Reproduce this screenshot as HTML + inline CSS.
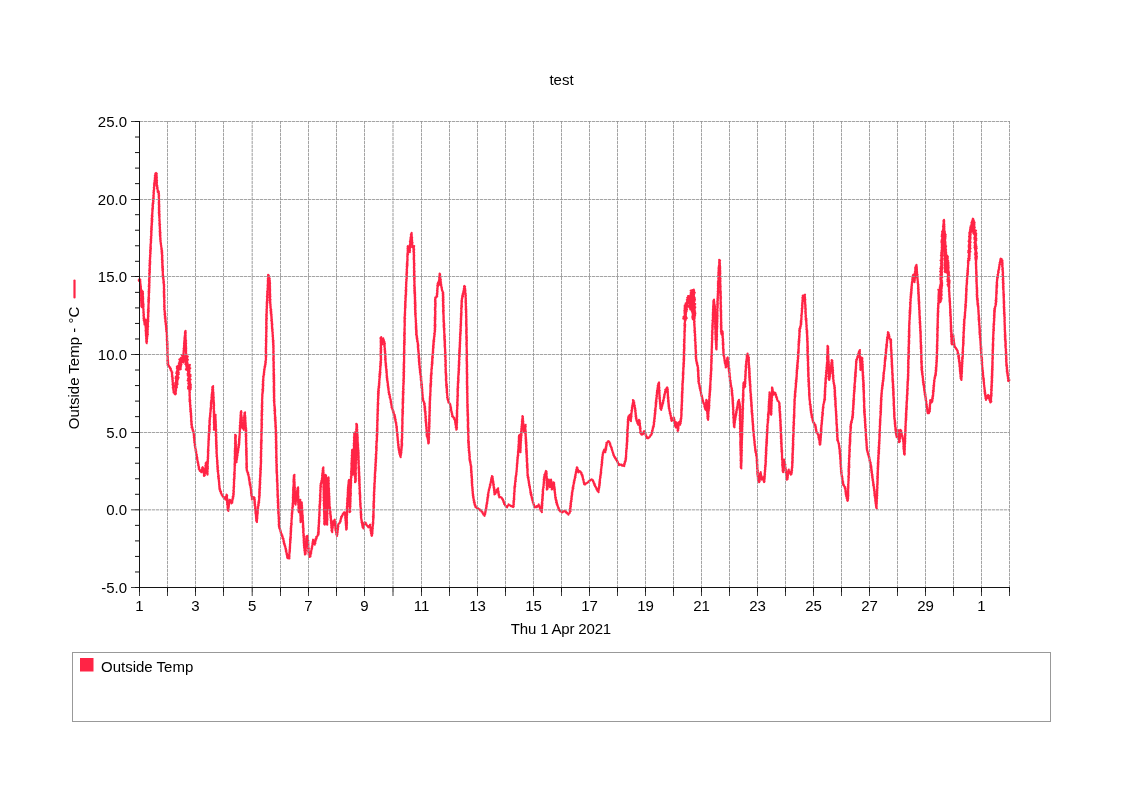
<!DOCTYPE html>
<html><head><meta charset="utf-8"><style>
html,body{margin:0;padding:0;background:#fff;width:1123px;height:794px;overflow:hidden}
svg{display:block;will-change:transform}
text{font-family:"Liberation Sans",sans-serif;font-size:15px;fill:#000}
</style></head><body>
<svg width="1123" height="794" viewBox="0 0 1123 794">
<text x="561.5" y="85" text-anchor="middle">test</text>
<g stroke="#e4e4e4" stroke-width="1" fill="none"><path d="M167.5 121V587"/><path d="M195.5 121V587"/><path d="M223.5 121V587"/><path d="M252.2 121V587"/><path d="M280.5 121V587"/><path d="M308.5 121V587"/><path d="M336.5 121V587"/><path d="M364.5 121V587"/><path d="M393.0 121V587"/><path d="M421.5 121V587"/><path d="M449.5 121V587"/><path d="M477.5 121V587"/><path d="M505.5 121V587"/><path d="M533.5 121V587"/><path d="M561.5 121V587"/><path d="M589.5 121V587"/><path d="M617.5 121V587"/><path d="M645.5 121V587"/><path d="M673.5 121V587"/><path d="M701.5 121V587"/><path d="M729.5 121V587"/><path d="M757.5 121V587"/><path d="M785.5 121V587"/><path d="M813.5 121V587"/><path d="M841.5 121V587"/><path d="M869.5 121V587"/><path d="M897.5 121V587"/><path d="M925.5 121V587"/><path d="M953.5 121V587"/><path d="M981.5 121V587"/><path d="M1009.5 121V587"/></g>
<g stroke="#e4e4e4" stroke-width="1" fill="none"><path d="M140 509.83H1010"/><path d="M140 432.50H1010"/><path d="M140 354.50H1010"/><path d="M140 276.50H1010"/><path d="M140 199.50H1010"/><path d="M140 121.50H1010"/></g>
<polyline points="137.84,280.75 138.78,280.48 139.10,279.51 139.83,279.20 140.37,279.96 139.89,280.82 140.37,281.58 140.00,282.43 140.52,283.19 140.18,284.04 140.68,284.80 140.44,285.64 140.94,286.41 140.36,287.27 141.00,288.03 140.70,288.87 141.32,289.64 140.57,290.50 141.35,291.31 140.80,292.15 141.52,292.96 140.95,293.81 141.53,294.63 140.92,295.48 141.35,296.30 141.03,297.14 141.45,297.96 140.85,298.81 141.46,299.62 140.97,300.47 141.65,301.28 141.09,302.13 141.67,302.94 141.23,303.79 141.57,304.61 141.24,305.45 141.81,306.26 141.75,307.12 141.30,306.28 141.90,305.50 141.36,304.66 141.91,303.88 141.35,303.03 142.14,302.27 141.62,301.42 142.20,300.64 141.63,299.79 142.39,299.03 141.67,298.17 142.31,297.40 141.69,296.54 142.35,295.77 141.96,294.93 142.65,294.16 142.15,293.32 142.67,292.54 142.28,291.70 142.13,290.92 142.90,291.70 142.25,292.55 143.02,293.34 142.42,294.19 143.05,294.98 142.41,295.83 143.10,296.62 142.54,297.47 143.26,298.25 142.48,299.11 143.23,299.90 142.65,300.75 143.19,301.54 142.72,302.39 143.46,303.17 142.72,304.03 143.60,304.81 143.02,305.66 143.55,306.45 142.99,307.30 143.52,308.10 143.14,308.94 143.65,309.73 143.33,310.57 143.70,311.37 143.21,312.22 143.81,313.01 143.46,313.85 143.98,314.64 143.35,315.50 143.97,316.29 143.57,317.13 144.20,317.92 143.52,318.77 144.36,319.50 143.74,320.48 144.53,321.19 144.21,322.12 144.88,322.85 144.40,323.81 144.54,324.52 145.24,323.75 144.95,322.88 145.43,322.09 145.10,321.21 145.68,320.43 145.79,319.56 145.29,320.40 145.68,321.20 145.31,322.03 145.86,322.83 145.33,323.67 146.11,324.45 145.36,325.30 146.04,326.09 145.45,326.94 146.16,327.73 145.70,328.56 146.30,329.36 145.54,330.21 146.36,330.99 145.60,331.84 146.28,332.63 145.80,333.47 146.26,334.27 145.79,335.11 146.31,335.90 146.04,336.73 146.43,337.53 146.08,338.37 146.54,339.17 146.18,340.00 146.50,340.80 146.22,341.63 146.60,342.44 146.72,343.29 146.43,342.37 147.08,341.56 146.44,340.60 147.05,339.79 146.75,338.87 147.31,338.05 146.92,337.12 147.44,336.30 146.97,335.36 147.91,334.55 147.21,333.71 147.81,332.92 147.39,332.09 147.75,331.29 147.37,330.46 147.86,329.67 147.27,328.84 147.88,328.04 147.59,327.22 148.19,326.43 147.48,325.59 148.00,324.80 147.54,323.97 148.02,323.17 147.60,322.35 148.37,321.56 147.55,320.72 148.34,319.93 147.80,319.10 148.30,318.31 147.89,317.48 148.48,316.69 147.83,315.85 148.54,315.06 147.95,314.23 148.43,313.43 147.86,312.60 148.72,311.82 147.90,310.98 148.73,310.19 147.97,309.35 148.76,308.57 148.22,307.74 148.75,306.94 148.23,306.11 148.65,305.31 148.40,304.49 148.79,303.69 148.38,302.87 148.98,302.07 148.22,301.23 148.96,300.45 148.28,299.61 149.18,298.83 148.33,297.98 149.04,297.19 148.61,296.36 149.05,295.56 148.67,294.73 149.09,293.93 148.59,293.10 149.36,292.31 148.57,291.47 149.28,290.68 148.68,289.85 149.43,289.05 148.91,288.22 149.44,287.42 148.70,286.59 149.53,285.80 148.80,284.96 149.48,284.17 149.03,283.34 149.63,282.54 149.03,281.71 149.69,280.91 148.88,280.07 149.61,279.28 149.11,278.45 149.83,277.66 149.06,276.82 149.64,276.02 149.30,275.20 149.68,274.39 149.11,273.56 149.94,272.77 149.40,271.94 150.00,271.14 149.19,270.30 150.00,269.51 149.43,268.68 150.01,267.88 149.55,267.05 149.90,266.25 149.34,265.42 150.15,264.63 149.53,263.79 150.29,263.00 149.61,262.17 150.32,261.37 149.54,260.53 150.16,259.74 149.79,258.92 150.27,258.14 149.87,257.31 150.44,256.53 149.94,255.70 150.47,254.92 150.07,254.09 150.70,253.32 150.08,252.48 150.64,251.70 150.08,250.87 150.86,250.10 150.22,249.26 150.95,248.49 150.27,247.65 150.91,246.88 150.34,246.04 150.82,245.26 150.45,244.44 150.96,243.66 150.67,242.84 151.23,242.06 150.70,241.22 151.21,240.44 150.60,239.61 151.32,238.84 150.81,238.00 151.38,237.23 150.82,236.39 151.55,235.62 151.04,234.79 151.56,234.01 151.07,233.18 151.55,232.40 150.99,231.56 151.70,230.79 151.14,229.96 151.86,229.19 151.11,228.34 151.84,227.57 151.28,226.74 151.94,225.97 151.39,225.13 152.08,224.36 151.49,223.53 152.11,222.75 151.56,221.92 152.32,221.15 151.58,220.30 152.38,219.54 151.58,218.69 152.27,217.92 151.78,217.09 152.56,216.32 151.77,215.48 152.39,214.70 152.08,213.88 152.57,213.10 152.17,212.27 152.58,211.49 152.26,210.66 152.80,209.89 152.14,209.00 153.00,208.24 152.47,207.36 153.08,206.57 152.44,205.68 153.03,204.89 152.51,204.02 153.42,203.25 152.85,202.37 153.55,201.59 152.93,200.70 153.54,199.92 152.87,199.03 153.78,198.26 153.27,197.39 153.78,196.59 153.26,195.72 153.86,194.92 153.48,194.06 153.96,193.26 153.42,192.39 153.98,191.59 153.58,190.73 154.22,189.94 153.86,189.08 154.30,188.27 153.78,187.40 154.47,186.62 154.07,185.75 154.73,184.96 153.95,184.08 154.83,183.30 154.28,182.42 154.76,181.59 154.50,180.68 155.13,179.87 154.63,178.92 155.12,178.10 154.78,177.17 155.57,176.38 154.86,175.41 155.56,174.61 155.34,173.57 156.02,172.98 156.79,173.81 156.16,174.69 156.71,175.52 156.43,176.39 156.97,177.22 156.39,178.11 156.85,178.94 156.30,179.82 157.10,180.65 156.41,181.53 157.00,182.36 156.47,183.24 157.06,184.07 156.54,184.99 157.33,185.73 156.92,186.63 157.58,187.39 156.96,188.31 157.71,189.06 157.43,189.94 158.02,190.71 157.62,191.61 157.79,192.33 158.50,191.17 158.86,191.98 158.53,192.80 158.98,193.61 158.53,194.43 159.16,195.23 158.58,196.06 159.11,196.87 158.65,197.69 159.10,198.50 158.74,199.32 159.11,200.13 158.78,200.95 159.30,201.75 158.65,202.59 159.17,203.39 158.71,204.22 159.44,205.01 158.86,205.84 159.44,206.64 158.80,207.48 159.38,208.28 158.71,209.11 159.39,209.91 158.85,210.74 159.52,211.54 158.74,212.38 159.46,213.16 158.86,213.99 159.65,214.76 159.00,215.60 159.63,216.38 159.16,217.21 159.59,218.00 159.30,218.82 159.67,219.61 159.18,220.44 159.80,221.22 159.44,222.05 159.82,222.84 159.30,223.67 160.14,224.44 159.43,225.28 160.03,226.06 159.63,226.89 160.11,227.68 159.64,228.51 160.14,229.29 159.72,230.12 160.25,230.90 159.63,231.74 160.54,232.51 159.83,233.35 160.39,234.13 159.77,234.97 160.48,235.74 160.04,236.57 160.46,237.36 160.10,238.18 160.68,238.97 160.14,239.82 160.73,240.59 160.34,241.48 160.87,242.26 160.61,243.14 161.09,243.92 160.77,244.80 161.28,245.59 161.09,246.45 161.56,247.24 161.22,248.12 161.85,248.89 161.33,249.80 162.10,250.55 161.49,251.46 162.29,252.24 161.55,253.07 162.26,253.84 161.80,254.67 162.52,255.44 161.92,256.27 162.50,257.05 161.84,257.88 162.36,258.66 161.85,259.48 162.70,260.25 161.99,261.08 162.72,261.85 162.00,262.69 162.61,263.46 162.16,264.29 162.79,265.06 162.14,265.89 162.96,266.66 162.21,267.50 162.96,268.27 162.26,269.10 163.06,269.87 162.39,270.70 162.99,271.48 162.67,272.29 163.03,273.08 162.64,273.90 163.09,274.68 162.61,275.56 163.40,276.32 162.84,277.22 163.59,277.98 162.99,278.88 163.71,279.65 163.37,280.52 163.97,281.30 163.30,282.21 164.05,282.97 163.54,283.87 164.27,284.66 163.78,285.47 164.32,286.27 163.76,287.08 164.15,287.88 163.78,288.69 164.38,289.48 163.84,290.30 164.42,291.09 163.63,291.91 164.37,292.70 163.84,293.52 164.40,294.31 163.78,295.13 164.52,295.92 163.83,296.74 164.52,297.53 164.04,298.34 164.39,299.14 164.01,299.95 164.61,300.74 164.03,301.56 164.59,302.35 164.15,303.17 164.46,303.97 164.11,304.78 164.69,305.57 164.00,306.39 164.72,307.18 164.16,308.00 164.70,308.79 164.14,309.63 164.78,310.40 164.42,311.28 165.08,312.05 164.56,312.94 165.28,313.71 164.49,314.63 165.14,315.40 164.81,316.28 165.56,317.04 164.81,317.95 165.61,318.71 165.20,319.59 165.70,320.38 165.15,321.28 165.87,322.05 165.43,322.93 166.01,323.71 165.62,324.59 166.43,325.35 165.91,326.24 166.56,327.01 165.96,327.91 166.75,328.67 166.06,329.58 166.71,330.36 166.17,331.25 166.95,332.01 166.61,332.88 166.97,333.69 166.62,334.54 167.22,335.32 166.74,336.14 167.17,336.93 166.78,337.74 167.28,338.53 166.67,339.35 167.23,340.13 166.75,340.95 167.55,341.73 167.00,342.55 167.63,343.33 166.87,344.15 167.67,344.93 167.06,345.75 167.56,346.54 167.08,347.35 167.81,348.13 167.07,348.96 167.66,349.74 167.17,350.56 167.69,351.34 167.34,352.15 167.69,352.94 167.15,353.76 167.80,354.54 167.17,355.37 167.84,356.14 167.43,356.96 167.97,357.74 167.51,358.56 167.98,359.35 167.32,360.17 168.19,360.94 167.42,361.77 168.17,362.55 167.44,363.37 168.32,364.15 167.67,365.15 168.86,365.57 169.12,366.72 170.25,367.32 169.98,368.39 170.92,368.98 170.59,370.07 171.45,370.69 171.43,371.66 172.33,372.40 171.80,373.25 172.32,374.01 171.87,374.85 172.41,375.61 171.88,376.46 172.76,377.19 172.17,378.04 172.80,378.79 172.30,379.64 172.91,380.39 172.41,381.24 172.93,382.00 172.62,382.83 173.08,383.59 172.53,384.44 173.31,385.18 172.88,386.02 173.58,386.76 172.78,387.64 173.57,388.37 173.19,389.21 173.63,389.98 173.34,390.80 173.82,391.57 173.52,392.49 174.39,392.91 174.65,393.86 175.08,394.35 175.89,393.62 175.19,392.74 175.90,392.00 175.46,391.14 176.11,390.39 175.64,389.53 176.21,388.78 175.51,387.90 176.93,387.23 174.67,386.19 176.92,385.61 175.35,384.63 177.65,384.06 175.12,382.98 177.36,382.40 175.94,381.45 177.56,380.80 175.97,379.81 177.96,379.20 175.54,378.08 178.60,377.59 175.83,376.43 177.87,375.82 176.96,374.87 178.83,374.25 176.19,373.10 178.76,372.56 176.73,371.48 178.43,370.83 177.14,369.84 179.66,369.29 176.85,368.12 179.77,367.62 176.88,366.44 179.29,365.88 179.23,364.87 178.11,365.89 179.94,366.46 177.78,367.64 180.65,368.06 177.98,369.31 178.18,369.83 180.79,369.25 178.56,368.19 180.72,367.56 179.19,366.57 181.15,365.93 179.14,364.89 181.47,364.28 178.85,363.18 180.95,362.55 179.59,361.57 181.05,360.88 179.36,359.36 181.96,359.79 180.86,358.00 181.33,357.59 183.09,358.10 181.10,359.36 183.27,359.79 181.82,360.95 183.84,361.41 183.36,362.51 182.12,361.59 183.99,360.92 181.51,359.91 184.33,359.31 181.73,358.29 184.26,357.67 182.58,356.72 184.14,356.03 181.90,355.04 183.87,354.37 183.34,353.51 183.78,352.73 183.41,351.89 184.11,351.12 183.56,350.26 184.11,349.49 183.61,348.63 184.45,347.88 183.88,347.02 184.30,346.23 183.97,345.39 184.54,344.62 183.99,343.76 184.60,342.99 184.09,342.13 184.90,341.38 184.30,340.52 184.86,339.74 184.29,338.88 185.02,338.12 184.46,337.26 185.12,336.49 184.78,335.65 185.42,334.88 184.88,334.02 185.61,333.26 184.95,332.39 185.49,331.62 185.57,330.79 185.12,331.61 185.76,332.39 185.01,333.23 185.65,334.01 185.23,334.83 185.72,335.63 185.10,336.45 185.74,337.24 185.44,338.06 185.77,338.85 185.38,339.67 186.08,340.46 185.28,341.29 186.08,342.07 185.29,342.90 186.19,343.68 185.55,344.51 186.01,345.30 185.41,346.13 186.23,346.91 185.74,347.73 186.26,348.52 185.68,349.35 186.22,350.14 185.75,350.96 186.20,351.75 185.90,352.57 186.29,353.37 185.84,354.19 186.55,354.95 185.57,355.87 187.81,356.52 185.61,357.54 187.27,358.24 185.06,359.26 187.92,359.86 185.64,360.88 187.20,361.59 185.73,362.55 187.70,363.22 185.37,364.25 187.64,364.90 186.13,365.86 188.56,366.50 186.64,367.50 188.16,368.21 185.91,369.23 186.06,369.62 188.08,369.24 187.27,368.16 188.52,367.59 186.73,366.26 189.14,365.98 189.92,364.91 187.15,365.82 189.52,366.55 187.91,367.42 190.27,368.15 187.58,369.06 189.55,369.80 187.53,370.69 189.67,371.42 188.08,372.29 189.38,373.06 187.60,373.94 190.46,374.65 187.79,375.56 190.55,376.27 188.53,377.15 189.81,377.92 188.09,378.80 190.68,379.52 187.61,380.44 190.10,381.16 188.45,382.03 190.21,382.78 188.24,383.67 190.82,384.39 188.65,385.28 190.74,386.02 188.08,386.92 190.82,387.64 188.10,388.55 190.64,389.27 189.27,390.13 189.77,390.93 189.31,391.76 189.97,392.55 189.46,393.38 189.85,394.18 189.31,395.01 189.92,395.80 189.58,396.62 189.91,397.43 189.49,398.25 190.06,399.05 189.41,399.90 190.32,400.64 189.53,401.51 190.25,402.27 189.93,403.10 190.31,403.89 189.91,404.73 190.62,405.49 190.05,406.34 190.59,407.11 190.17,407.95 190.83,408.72 190.21,409.57 190.99,410.33 190.27,411.19 191.08,411.94 190.62,412.79 191.25,413.55 190.68,414.40 191.28,415.17 190.77,416.02 191.45,416.78 190.95,417.63 191.41,418.40 191.05,419.24 191.50,420.02 190.97,420.87 191.75,421.62 191.26,422.47 191.81,423.24 191.17,424.10 191.97,424.85 191.52,425.69 192.18,426.46 191.53,427.41 192.56,427.98 192.27,429.01 192.99,429.69 192.64,430.75 193.68,431.32 193.17,432.32 193.82,433.10 193.53,433.96 194.01,434.76 193.73,435.62 194.45,436.39 193.77,437.30 194.60,438.05 194.01,438.95 194.75,439.72 194.15,440.62 194.72,441.40 194.21,442.29 195.10,443.04 194.59,443.93 195.16,444.69 194.65,445.63 195.32,446.37 195.01,447.28 195.57,448.04 195.34,448.93 195.88,449.70 195.49,450.62 196.28,451.34 195.89,452.26 196.36,453.03 196.13,453.93 196.85,454.66 196.45,455.58 197.01,456.34 196.72,457.25 197.44,457.98 196.89,458.93 197.48,459.68 197.34,460.57 197.92,461.32 197.53,462.26 198.33,462.96 198.00,463.89 198.51,464.66 198.15,465.59 198.92,466.30 198.61,467.23 199.22,467.97 198.73,468.93 199.52,469.55 199.65,470.69 200.69,471.20 201.32,472.26 200.98,471.21 202.08,470.66 201.71,469.60 202.42,468.91 202.18,467.90 202.62,467.22 203.09,467.96 202.68,468.84 203.49,469.52 202.97,470.43 203.76,471.11 203.23,472.02 204.05,472.69 203.72,473.56 204.18,474.30 203.87,475.17 203.98,475.86 204.87,475.09 204.44,474.11 205.07,473.29 204.64,472.31 205.32,471.51 204.99,470.54 205.53,469.70 205.10,468.82 205.90,468.06 205.39,467.17 205.93,466.38 205.34,465.49 206.25,464.74 205.70,463.84 206.15,463.05 206.49,462.16 205.70,463.07 206.51,463.83 206.16,464.71 206.82,465.48 206.22,466.38 206.98,467.14 206.31,468.05 207.12,468.81 206.62,469.70 207.27,470.47 206.77,471.36 207.32,472.15 206.74,473.04 207.62,473.80 207.50,474.67 207.13,473.85 207.63,473.06 207.10,472.24 207.68,471.45 207.28,470.63 207.70,469.83 207.15,469.01 207.96,468.23 207.42,467.40 207.91,466.61 207.26,465.78 207.81,464.99 207.29,464.16 207.89,463.38 207.42,462.55 208.08,461.77 207.47,460.94 208.07,460.15 207.60,459.33 208.21,458.54 207.65,457.72 208.29,456.93 207.71,456.10 208.28,455.32 207.90,454.49 208.40,453.70 207.81,452.88 208.34,452.09 207.78,451.26 208.57,450.48 207.94,449.65 208.44,448.86 207.99,448.04 208.47,447.25 208.17,446.42 208.66,445.64 208.27,444.81 208.75,444.03 208.23,443.19 208.72,442.41 208.28,441.57 208.82,440.79 208.33,439.96 209.12,439.19 208.49,438.35 208.98,437.57 208.58,436.74 209.17,435.96 208.53,435.12 209.19,434.34 208.65,433.50 209.54,432.74 208.77,431.89 209.57,431.13 209.03,430.29 209.72,429.52 209.03,428.67 209.80,427.90 208.98,427.05 209.63,426.28 209.11,425.44 209.96,424.68 209.42,423.84 209.87,423.05 209.30,422.21 209.90,421.44 209.34,420.60 210.02,419.83 209.48,418.95 210.12,418.17 209.72,417.30 210.50,416.52 209.95,415.64 210.43,414.84 209.99,413.97 210.59,413.18 210.28,412.32 210.68,411.52 210.38,410.66 211.06,409.88 210.35,408.98 211.18,408.21 210.65,407.33 211.29,406.55 210.81,405.67 211.35,404.88 210.79,404.01 211.45,403.25 210.87,402.38 211.66,401.63 211.11,400.76 211.91,400.01 211.41,399.15 212.10,398.39 211.40,397.50 212.06,396.75 211.50,395.87 212.17,395.12 211.59,394.24 212.42,393.50 211.94,392.63 212.63,391.88 212.06,391.01 212.60,390.24 212.12,389.37 212.71,388.61 212.25,387.74 212.93,386.99 213.13,386.13 212.40,386.99 213.21,387.75 212.60,388.61 213.22,389.38 212.91,390.21 213.24,391.01 212.96,391.84 213.52,392.62 212.97,393.46 213.59,394.24 212.92,395.09 213.57,395.87 213.23,396.70 213.83,397.48 213.40,398.32 213.73,399.11 213.39,399.94 213.86,400.73 213.49,401.56 213.99,402.36 213.48,403.17 214.14,403.97 213.63,404.78 214.18,405.58 213.58,406.40 214.05,407.20 213.46,408.01 214.12,408.81 213.74,409.62 214.10,410.42 213.61,411.24 214.37,412.03 213.60,412.85 214.26,413.65 213.79,414.46 214.16,415.26 213.70,416.08 214.37,416.87 213.82,417.69 214.42,418.49 213.82,419.30 214.54,420.10 213.76,420.92 214.35,421.72 213.74,422.53 214.32,423.33 213.88,424.15 214.46,424.94 214.00,425.76 214.38,426.56 213.86,427.37 214.40,428.17 213.96,428.99 213.86,429.76 214.52,428.97 214.20,428.11 214.78,427.31 214.22,426.44 214.90,425.65 214.23,424.77 214.87,423.98 214.50,423.12 215.02,422.32 214.69,421.47 215.31,420.67 214.57,419.79 215.37,419.01 214.93,418.14 215.52,417.35 214.81,416.46 215.51,415.68 215.65,414.81 215.04,415.65 215.55,416.45 215.21,417.28 215.62,418.08 215.29,418.90 215.71,419.70 215.13,420.54 215.88,421.33 215.16,422.17 215.95,422.95 215.40,423.79 215.96,424.58 215.41,425.42 216.10,426.21 215.44,427.05 215.99,427.84 215.47,428.68 216.27,429.46 215.66,430.30 216.31,431.09 215.79,431.93 216.17,432.73 215.78,433.56 216.39,434.35 215.62,435.20 216.45,435.98 215.87,436.82 216.55,437.61 215.93,438.45 216.41,439.24 215.81,440.08 216.60,440.87 215.94,441.71 216.67,442.49 215.91,443.34 216.67,444.13 216.02,444.96 216.80,445.75 216.07,446.59 216.78,447.38 216.17,448.22 216.88,449.01 216.37,449.84 216.83,450.64 216.33,451.48 216.85,452.27 216.30,453.11 216.93,453.90 216.64,454.73 217.01,455.54 216.47,456.41 217.20,457.20 216.84,458.06 217.22,458.86 216.99,459.72 217.55,460.51 216.92,461.39 217.67,462.17 217.01,463.06 217.59,463.85 217.17,464.72 217.80,465.51 217.22,466.38 218.06,467.16 217.32,468.05 217.95,468.84 217.44,469.71 218.33,470.48 217.54,471.37 218.20,472.16 217.91,473.02 218.36,473.82 218.13,474.68 218.76,475.46 218.05,476.37 218.86,477.13 218.22,478.03 219.02,478.79 218.55,479.68 219.02,480.47 218.78,481.33 219.40,482.11 218.91,483.00 219.43,483.78 219.01,484.67 219.50,485.46 219.23,486.32 219.75,487.11 219.25,488.00 219.94,488.77 219.55,489.71 220.51,490.29 220.17,491.40 221.14,491.97 220.80,493.07 221.57,493.73 221.55,494.76 222.57,495.29 222.62,496.49 223.71,496.97 223.80,498.14 224.93,498.59 225.45,499.66 225.12,498.65 225.91,497.98 225.63,496.99 226.44,496.33 226.38,495.40 226.56,494.63 227.19,495.39 226.44,496.27 227.08,497.03 226.71,497.88 227.35,498.64 226.74,499.50 227.38,500.27 226.96,501.12 227.56,501.89 226.98,502.75 227.66,503.51 227.07,504.37 227.79,505.13 227.42,505.97 228.04,506.74 227.46,507.60 227.98,508.38 227.54,509.22 228.10,510.00 228.38,510.88 227.78,509.96 228.63,509.28 228.05,508.36 228.74,507.65 228.37,506.77 229.01,506.05 228.46,505.15 229.16,504.43 228.71,503.54 229.39,502.83 229.17,501.97 229.71,501.24 229.21,500.34 229.49,499.74 230.37,500.23 230.18,501.29 231.13,501.75 231.09,502.72 231.44,503.28 232.26,502.62 231.69,501.68 232.55,501.03 232.14,500.12 232.77,499.42 232.51,498.54 233.24,497.86 232.67,496.93 233.53,496.27 233.14,495.37 233.76,494.63 233.14,493.79 233.88,493.01 233.42,492.18 233.91,491.40 233.26,490.56 233.92,489.78 233.55,488.96 234.01,488.17 233.46,487.34 234.25,486.56 233.71,485.73 234.11,484.94 233.75,484.12 234.24,483.33 233.74,482.50 234.26,481.71 233.87,480.89 234.34,480.10 233.74,479.27 234.58,478.50 234.09,477.67 234.73,476.89 234.16,476.05 234.62,475.26 233.96,474.43 234.82,473.66 234.11,472.82 234.78,472.04 234.35,471.21 234.92,470.43 234.45,469.60 234.86,468.81 234.44,467.98 234.88,467.19 234.49,466.37 235.15,465.57 234.44,464.75 235.10,463.95 234.49,463.13 235.13,462.33 234.68,461.51 235.21,460.71 234.64,459.89 235.29,459.09 234.52,458.26 235.23,457.47 234.66,456.64 235.37,455.85 234.75,455.02 235.24,454.23 234.69,453.40 235.48,452.61 234.71,451.78 235.46,450.99 234.72,450.16 235.49,449.37 234.83,448.54 235.46,447.74 234.97,446.92 235.55,446.13 235.07,445.30 235.52,444.50 234.89,443.68 235.65,442.88 234.98,442.06 235.54,441.26 235.08,440.44 235.65,439.64 235.06,438.82 235.67,438.02 235.08,437.20 235.87,436.40 235.27,435.58 235.14,434.78 235.88,435.57 235.27,436.39 235.84,437.19 235.13,438.01 235.74,438.80 235.31,439.62 235.82,440.41 235.28,441.24 236.11,442.02 235.40,442.85 235.89,443.64 235.43,444.46 236.07,445.25 235.43,446.08 236.11,446.86 235.50,447.69 236.25,448.48 235.58,449.30 236.16,450.09 235.49,450.92 236.14,451.71 235.61,452.53 236.25,453.32 235.63,454.14 236.20,454.93 235.61,455.76 236.32,456.55 235.94,457.36 236.34,458.16 235.88,458.98 236.30,459.78 235.92,460.59 236.47,461.39 236.58,462.25 236.11,461.33 236.69,460.57 236.40,459.68 237.09,458.93 236.43,457.98 237.27,457.26 236.90,456.35 237.61,455.61 237.10,454.68 237.68,453.92 237.43,453.03 238.10,452.28 237.46,451.34 238.31,450.61 237.82,449.69 238.53,448.95 238.14,448.04 238.91,447.30 238.35,446.37 239.05,445.63 238.46,444.69 239.36,443.97 238.82,443.04 239.45,442.27 238.96,441.44 239.48,440.66 238.96,439.83 239.65,439.07 239.04,438.23 239.71,437.47 239.28,436.64 239.79,435.87 239.35,435.05 239.86,434.27 239.58,433.45 240.12,432.68 239.58,431.85 240.06,431.08 239.66,430.25 240.22,429.48 239.71,428.65 240.36,427.89 239.73,427.05 240.36,426.28 239.73,425.45 240.61,424.69 240.10,423.86 240.69,423.10 239.92,422.25 240.77,421.50 240.25,420.67 240.87,419.90 240.18,419.06 240.70,418.29 240.47,417.47 241.09,416.70 240.36,415.86 240.96,415.09 240.62,414.27 241.01,413.49 240.67,412.67 241.30,411.91 241.21,411.07 240.85,411.91 241.51,412.67 240.77,413.55 241.40,414.31 240.86,415.17 241.67,415.92 241.02,416.79 241.81,417.54 241.11,418.41 241.97,419.16 241.25,420.03 241.91,420.80 241.42,421.65 242.14,422.41 241.53,423.27 242.24,424.03 241.61,424.89 242.40,425.65 241.93,426.50 242.39,427.19 242.56,428.22 243.46,428.81 243.86,429.80 243.47,428.94 243.98,428.13 243.56,427.28 244.19,426.48 243.64,425.61 244.40,424.82 243.90,423.96 244.49,423.16 243.85,422.29 244.50,421.49 243.89,420.62 244.68,419.84 244.07,418.97 244.64,418.17 243.98,417.29 244.63,416.50 244.18,415.64 244.90,414.85 244.47,413.99 244.99,413.18 245.06,412.31 244.34,413.19 245.06,413.98 244.44,414.86 245.24,415.64 244.72,416.51 245.48,417.29 244.98,418.16 245.54,418.96 244.91,419.84 245.54,420.63 244.95,421.50 245.67,422.29 245.19,423.16 245.84,423.95 245.22,424.83 245.86,425.62 245.44,426.48 246.04,427.27 245.53,428.15 246.29,428.93 245.73,429.79 246.36,430.59 245.72,431.42 246.29,432.22 245.79,433.05 246.32,433.85 245.60,434.68 246.40,435.48 245.69,436.31 246.33,437.11 245.87,437.93 246.35,438.74 245.82,439.56 246.49,440.36 245.78,441.19 246.33,442.00 245.83,442.82 246.63,443.62 245.92,444.45 246.39,445.25 246.03,446.07 246.41,446.88 246.09,447.70 246.73,448.50 245.99,449.33 246.68,450.13 245.97,450.96 246.79,451.76 246.05,452.59 246.72,453.39 246.08,454.22 246.78,455.02 246.12,455.85 246.81,456.65 246.27,457.47 246.83,458.27 246.22,459.10 246.89,459.90 246.37,460.73 246.74,461.53 246.42,462.35 246.96,463.16 246.17,463.99 246.95,464.79 246.37,465.61 247.03,466.42 246.27,467.24 246.98,468.05 246.47,468.87 246.92,469.60 246.74,470.60 247.50,471.26 247.32,472.26 248.18,472.89 247.75,473.98 248.60,474.64 248.28,475.55 248.87,476.30 248.69,477.19 249.39,477.93 248.83,478.87 249.70,479.58 249.14,480.53 249.69,481.29 249.44,482.19 250.15,482.92 249.55,483.88 250.55,484.57 249.97,485.52 250.65,486.26 250.36,487.16 251.00,487.91 250.60,488.83 251.12,489.60 250.90,490.47 251.28,491.27 250.90,492.16 251.53,492.93 251.02,493.84 251.72,494.59 251.26,495.49 251.94,496.25 251.73,497.12 252.34,497.89 251.87,498.79 251.90,499.37 253.00,498.89 253.40,497.84 253.80,497.14 254.62,497.90 253.94,498.81 254.79,499.56 254.35,500.45 254.93,501.23 254.32,502.13 255.04,502.90 254.42,503.80 255.14,504.56 254.58,505.46 255.45,506.21 255.04,507.09 255.40,507.90 255.01,508.78 255.82,509.53 255.35,510.42 255.83,511.21 255.31,512.10 255.95,512.88 255.44,513.77 256.21,514.53 255.86,515.41 256.34,516.20 255.86,517.08 256.53,517.86 256.00,518.75 256.60,519.53 256.12,520.42 256.84,521.18 257.01,522.07 256.41,521.18 257.07,520.40 256.62,519.53 257.32,518.75 256.58,517.85 257.45,517.08 256.83,516.20 257.43,515.41 257.12,514.55 257.78,513.76 257.05,512.87 257.87,512.10 257.30,511.22 257.93,510.43 257.23,509.51 258.19,508.80 257.60,507.86 258.28,507.11 257.90,506.21 258.70,505.48 258.17,504.55 258.89,503.81 258.35,502.88 259.21,502.15 258.53,501.20 259.26,500.46 259.03,499.59 259.42,498.80 258.98,497.96 259.60,497.18 258.93,496.33 259.77,495.55 259.25,494.71 259.83,493.93 259.08,493.08 259.92,492.30 259.23,491.45 259.81,490.67 259.22,489.82 260.05,489.05 259.35,488.20 260.16,487.42 259.53,486.58 259.97,485.79 259.54,484.95 260.27,484.17 259.73,483.33 260.34,482.54 259.57,481.69 260.25,480.91 259.75,480.07 260.46,479.29 259.87,478.45 260.39,477.66 260.01,476.82 260.64,476.04 259.92,475.19 260.62,474.41 260.22,473.57 260.81,472.79 260.08,471.94 260.70,471.15 260.22,470.32 260.99,469.54 260.20,468.68 260.95,467.90 260.40,467.06 261.04,466.28 260.57,465.44 260.99,464.65 260.65,463.82 261.23,463.03 260.66,462.19 261.24,461.40 260.68,460.58 261.26,459.78 260.80,458.96 261.14,458.15 260.56,457.33 261.28,456.54 260.87,455.72 261.39,454.92 260.69,454.10 261.27,453.30 260.78,452.48 261.37,451.68 260.84,450.86 261.30,450.06 261.03,449.24 261.63,448.45 260.80,447.62 261.51,446.82 260.92,446.00 261.47,445.20 260.89,444.38 261.55,443.59 260.87,442.76 261.69,441.97 260.94,441.14 261.79,440.35 261.15,439.53 261.53,438.73 261.20,437.91 261.61,437.11 261.27,436.29 261.60,435.49 261.15,434.67 261.89,433.87 261.22,433.05 261.95,432.26 261.11,431.43 261.70,430.63 261.24,429.81 261.84,429.01 261.42,428.20 262.05,427.40 261.41,426.58 261.95,425.78 261.32,424.95 262.11,424.16 261.34,423.34 261.96,422.54 261.45,421.72 261.92,420.92 261.32,420.10 262.22,419.30 261.58,418.48 261.95,417.68 261.60,416.86 262.08,416.06 261.43,415.24 262.29,414.45 261.49,413.62 262.05,412.82 261.53,412.00 262.29,411.21 261.61,410.38 262.41,409.59 261.83,408.77 262.18,407.97 261.64,407.14 262.46,406.35 261.70,405.53 262.29,404.73 261.76,403.91 262.47,403.11 261.94,402.29 262.36,401.49 261.93,400.67 262.33,399.88 261.92,399.05 262.44,398.27 262.08,397.45 262.52,396.67 262.03,395.84 262.57,395.07 262.11,394.24 262.71,393.47 262.41,392.65 263.03,391.88 262.44,391.04 263.12,390.27 262.33,389.43 263.20,388.67 262.65,387.84 263.15,387.06 262.75,386.23 263.39,385.46 262.61,384.62 263.38,383.86 262.82,383.02 263.38,382.25 262.79,381.41 263.51,380.65 262.94,379.81 263.50,379.04 263.16,378.22 263.56,377.45 263.15,376.55 263.92,375.80 263.54,374.91 264.23,374.15 263.71,373.24 264.29,372.47 263.95,371.59 264.46,370.81 263.94,369.90 264.68,369.15 264.36,368.26 264.94,367.50 264.56,366.58 265.34,365.86 264.90,364.93 265.64,364.20 265.19,363.27 265.90,362.54 265.28,361.58 265.96,360.84 265.61,359.97 266.14,359.16 265.71,358.35 266.13,357.54 265.70,356.72 266.41,355.92 265.52,355.09 266.41,354.29 265.83,353.47 266.23,352.66 265.60,351.84 266.19,351.04 265.68,350.22 266.28,349.41 265.63,348.59 266.22,347.79 265.70,346.97 266.35,346.16 265.94,345.35 266.26,344.54 265.74,343.72 266.45,342.92 265.97,342.10 266.45,341.29 265.77,340.47 266.40,339.66 265.90,338.84 266.40,338.04 266.05,337.22 266.63,336.42 265.90,335.59 266.47,334.79 266.13,333.97 266.46,333.16 265.98,332.34 266.61,331.54 266.11,330.72 266.55,329.91 266.03,329.09 266.73,328.29 265.99,327.47 266.71,326.67 266.21,325.85 266.57,325.04 266.06,324.22 266.71,323.42 266.09,322.59 266.62,321.79 266.09,320.97 266.73,320.17 266.10,319.34 266.92,318.54 266.24,317.72 266.68,316.91 266.13,316.09 266.85,315.29 266.17,314.47 266.81,313.66 266.41,312.85 267.01,312.04 266.37,311.22 266.82,310.41 266.40,309.59 267.01,308.80 266.59,307.97 267.07,307.18 266.53,306.34 267.15,305.56 266.72,304.72 267.29,303.93 266.58,303.09 267.42,302.31 266.82,301.47 267.45,300.69 266.88,299.85 267.55,299.06 267.06,298.23 267.67,297.44 266.86,296.59 267.63,295.81 267.08,294.97 267.72,294.19 267.16,293.35 267.64,292.56 267.10,291.72 267.79,290.94 267.43,290.11 267.83,289.31 267.49,288.48 268.14,287.70 267.64,286.86 267.99,286.07 267.51,285.23 268.10,284.44 267.81,283.62 268.31,282.83 267.71,281.98 268.37,281.20 267.75,280.36 268.32,279.57 267.78,278.73 268.59,277.96 268.12,277.12 268.49,276.33 268.06,275.49 268.11,274.76 268.82,275.47 268.64,276.40 269.27,277.12 269.05,278.06 269.74,278.77 269.23,279.69 269.84,280.48 269.36,281.29 270.06,282.08 269.52,282.89 270.12,283.68 269.32,284.50 270.02,285.28 269.51,286.10 270.20,286.88 269.52,287.70 270.09,288.49 269.42,289.31 270.25,290.09 269.65,290.90 270.12,291.70 269.68,292.51 270.21,293.30 269.52,294.11 270.37,294.90 269.57,295.72 270.40,296.50 269.63,297.32 270.20,298.11 269.77,298.92 270.52,299.71 269.67,300.53 270.33,301.31 269.87,302.14 270.54,302.92 270.03,303.80 270.65,304.59 270.27,305.46 270.76,306.25 270.27,307.13 270.78,307.92 270.53,308.78 271.22,309.56 270.47,310.46 271.35,311.22 270.66,312.12 271.45,312.89 270.72,313.79 271.62,314.55 271.13,315.43 271.68,316.22 271.20,317.10 271.84,317.88 271.34,318.76 271.94,319.55 271.27,320.41 272.08,321.16 271.59,322.00 272.16,322.77 271.64,323.61 272.41,324.37 271.80,325.22 272.32,325.99 271.80,326.83 272.37,327.60 271.93,328.44 272.74,329.19 272.07,330.05 272.64,330.82 272.20,331.66 272.84,332.42 272.41,333.26 272.82,334.04 272.53,334.87 272.99,335.64 272.55,336.48 273.10,337.25 272.72,338.09 273.15,338.86 272.74,339.70 273.50,340.46 272.83,341.31 273.52,342.07 272.93,342.92 273.52,343.69 273.02,344.51 273.67,345.30 273.09,346.11 273.74,346.91 273.14,347.72 273.67,348.51 273.23,349.32 273.66,350.12 273.17,350.93 273.73,351.72 273.17,352.53 273.64,353.33 273.26,354.14 273.93,354.93 273.32,355.74 273.85,356.54 273.26,357.35 273.79,358.14 273.13,358.95 273.81,359.75 273.22,360.56 273.79,361.35 273.46,362.16 274.04,362.95 273.37,363.77 273.80,364.56 273.40,365.37 273.95,366.16 273.32,366.98 273.86,367.77 273.50,368.58 274.15,369.37 273.36,370.19 273.92,370.98 273.51,371.79 274.00,372.58 273.42,373.39 274.11,374.19 273.39,375.00 274.20,375.79 273.51,376.60 274.19,377.40 273.47,378.21 274.22,379.00 273.57,379.81 274.25,380.61 273.52,381.42 274.31,382.21 273.72,383.02 274.32,383.81 273.79,384.62 274.31,385.42 273.62,386.23 274.25,387.03 273.53,387.84 274.29,388.63 273.72,389.44 274.38,390.23 273.60,391.05 274.35,391.84 273.78,392.65 274.32,393.44 273.77,394.25 274.43,395.05 273.85,395.86 274.34,396.65 273.78,397.46 274.36,398.26 273.88,399.07 274.51,399.84 273.77,400.70 274.51,401.47 273.99,402.31 274.51,403.09 274.13,403.92 274.59,404.71 274.14,405.55 274.82,406.32 274.39,407.15 275.02,407.93 274.41,408.78 275.09,409.55 274.34,410.40 275.22,411.16 274.64,412.01 275.15,412.79 274.51,413.64 275.11,414.41 274.87,415.24 275.38,416.02 274.83,416.86 275.59,417.63 274.83,418.49 275.56,419.26 274.86,420.11 275.65,420.87 275.10,421.72 275.80,422.49 275.24,423.33 275.79,424.11 275.27,424.95 275.88,425.73 275.25,426.58 276.08,427.34 275.48,428.19 275.99,428.97 275.62,429.79 276.15,430.59 275.59,431.42 276.24,432.22 275.53,433.05 276.39,433.84 275.68,434.67 276.26,435.47 275.67,436.30 276.47,437.09 275.79,437.92 276.35,438.72 275.68,439.55 276.27,440.35 275.87,441.17 276.56,441.97 275.74,442.80 276.45,443.60 276.00,444.42 276.60,445.23 275.85,446.05 276.61,446.85 275.78,447.68 276.66,448.48 276.00,449.30 276.46,450.11 276.07,450.93 276.61,451.73 276.03,452.56 276.54,453.36 276.17,454.18 276.71,454.98 276.07,455.81 276.66,456.61 275.98,457.44 276.78,458.24 276.31,459.06 276.74,459.86 276.11,460.69 276.74,461.49 276.17,462.31 276.68,463.12 276.32,463.94 276.97,464.74 276.27,465.57 276.95,466.37 276.42,467.19 276.95,467.97 276.38,468.80 276.94,469.58 276.42,470.40 277.09,471.17 276.37,472.00 277.17,472.77 276.62,473.59 277.09,474.38 276.77,475.19 277.36,475.97 276.85,476.79 277.22,477.57 276.90,478.39 277.42,479.17 276.76,480.00 277.51,480.77 276.83,481.60 277.41,482.37 277.15,483.18 277.70,483.96 277.12,484.79 277.75,485.56 277.17,486.39 277.64,487.17 277.27,487.99 277.68,488.77 277.13,489.59 277.90,490.36 277.37,491.19 277.93,491.96 277.43,492.79 277.87,493.57 277.34,494.39 278.10,495.16 277.38,495.99 278.12,496.76 277.55,497.59 278.13,498.36 277.80,499.18 278.41,499.95 277.61,500.79 278.28,501.56 277.67,502.39 278.51,503.15 277.92,503.98 278.51,504.76 277.78,505.59 278.54,506.36 277.85,507.19 278.53,507.96 278.09,508.78 278.74,509.55 278.21,510.38 278.68,511.16 278.07,511.98 278.80,512.75 278.16,513.58 278.79,514.36 278.43,515.17 278.90,515.95 278.49,516.77 279.16,517.55 278.52,518.37 279.09,519.15 278.64,519.97 279.15,520.75 278.63,521.57 279.18,522.35 278.79,523.17 279.15,523.95 278.62,524.78 279.29,525.55 278.87,526.37 279.30,527.09 279.19,528.06 279.89,528.75 279.85,529.70 280.60,530.37 280.34,531.40 281.03,532.09 280.80,533.09 281.57,533.76 281.48,534.71 282.35,535.34 282.08,536.36 282.78,537.05 282.42,538.09 283.44,538.67 283.17,539.67 283.80,540.40 283.42,541.38 284.22,542.06 283.76,543.06 284.59,543.73 284.18,544.72 285.09,545.37 284.81,546.32 285.49,547.04 285.26,547.98 285.99,548.68 285.63,549.64 286.41,550.31 285.85,551.25 286.57,551.93 286.27,552.81 286.96,553.50 286.60,554.40 287.36,555.07 286.94,555.98 287.56,556.68 287.13,557.59 287.59,558.11 289.46,558.35 288.89,557.50 289.55,556.74 288.95,555.88 289.55,555.12 289.12,554.27 289.60,553.50 289.31,552.67 289.96,551.90 289.38,551.05 290.02,550.28 289.56,549.44 290.10,548.67 289.60,547.82 290.20,547.05 289.74,546.21 290.18,545.43 289.85,544.60 290.34,543.82 290.01,542.99 290.59,542.22 290.05,541.38 290.59,540.61 289.95,539.76 290.80,539.01 290.06,538.15 290.92,537.40 290.39,536.56 290.84,535.78 290.52,534.95 291.06,534.18 290.42,533.33 291.05,532.56 290.59,531.73 291.25,530.96 290.60,530.11 291.21,529.34 290.65,528.50 291.34,527.74 290.81,526.90 291.39,526.13 291.07,525.30 291.71,524.53 290.97,523.68 291.75,522.92 291.29,522.08 291.63,521.30 291.35,520.47 291.78,519.70 291.42,518.83 291.97,518.04 291.64,517.17 292.09,516.37 291.59,515.50 292.19,514.71 291.67,513.83 292.45,513.06 291.84,512.17 292.49,511.39 292.07,510.51 292.76,509.74 292.24,508.85 292.69,508.06 292.22,507.18 293.07,506.41 292.53,505.53 292.98,504.73 292.46,503.89 293.22,503.12 292.78,502.29 293.17,501.49 292.83,500.67 293.41,499.88 292.86,499.05 293.52,498.27 292.76,497.43 293.33,496.64 292.84,495.81 293.49,495.03 292.90,494.19 293.69,493.41 293.11,492.58 293.53,491.79 292.97,490.95 293.70,490.18 293.04,489.34 293.85,488.56 293.17,487.72 293.96,486.95 293.27,486.11 293.91,485.32 293.52,484.50 294.06,483.71 293.47,482.87 294.07,482.09 293.38,481.25 294.01,480.47 293.50,479.64 294.05,478.85 293.58,478.02 294.36,477.24 293.79,476.41 294.35,475.62 294.51,474.78 293.77,475.62 294.45,476.40 293.96,477.23 294.36,478.03 293.99,478.85 294.54,479.64 294.11,480.47 294.58,481.26 294.20,482.08 294.77,482.87 294.10,483.71 294.69,484.49 294.30,485.32 294.84,486.11 294.30,486.94 295.04,487.72 294.40,488.56 294.91,489.35 294.30,490.18 294.93,490.97 294.47,491.79 295.06,492.58 294.46,493.41 295.19,494.19 294.54,495.03 295.14,495.82 294.64,496.65 295.34,497.43 294.77,498.26 295.46,499.04 294.72,499.88 295.32,500.67 294.96,501.49 295.47,502.28 295.05,503.11 295.44,503.90 295.54,504.75 295.23,503.86 295.88,503.10 295.36,502.19 295.91,501.42 295.60,500.53 296.22,499.77 295.80,498.87 296.34,498.09 296.10,497.22 296.50,496.43 296.02,495.52 296.93,494.81 296.55,493.89 297.20,493.14 296.55,492.18 297.43,491.47 297.09,490.56 297.68,489.81 297.27,488.88 297.87,488.13 298.12,487.25 297.71,488.08 298.30,488.86 297.57,489.69 298.28,490.47 297.55,491.30 298.35,492.08 297.83,492.90 298.28,493.69 297.92,494.51 298.28,495.30 297.79,496.13 298.60,496.90 298.00,497.73 298.46,498.52 297.96,499.34 298.73,500.12 297.93,500.96 298.58,501.74 298.04,502.56 298.85,503.34 298.12,504.17 298.76,504.95 298.36,505.77 298.98,506.55 298.38,507.38 298.90,508.17 298.37,508.99 298.97,509.78 298.35,510.61 298.99,511.39 298.96,512.21 298.58,511.34 299.31,510.57 298.67,509.67 299.50,508.91 298.81,508.00 299.74,507.26 299.10,506.35 299.77,505.58 299.38,504.70 299.87,503.91 299.41,503.03 299.97,502.24 299.54,501.36 300.16,500.58 300.33,499.72 299.64,500.55 300.27,501.33 299.99,502.14 300.44,502.93 300.00,503.75 300.58,504.53 300.11,505.35 300.67,506.13 299.89,506.96 300.71,507.73 300.08,508.56 300.60,509.34 300.06,510.16 300.73,510.94 300.19,511.76 300.73,512.55 300.24,513.37 300.88,514.15 300.17,514.97 301.01,515.75 300.43,516.57 300.87,517.36 300.40,518.17 301.01,518.96 300.48,519.78 300.95,520.56 300.62,521.38 300.57,522.16 301.12,521.35 300.43,520.49 301.32,519.70 300.52,518.83 301.40,518.03 300.56,517.17 301.35,516.37 300.66,515.51 301.24,514.70 300.77,513.85 301.48,513.04 300.95,512.19 301.53,511.38 300.81,510.52 301.56,509.72 300.97,508.86 301.56,508.05 301.12,507.20 301.81,506.40 301.29,505.55 301.65,504.73 301.14,503.88 301.80,503.07 301.72,502.21 301.27,503.08 301.92,503.87 301.41,504.74 302.06,505.53 301.55,506.40 302.22,507.19 301.71,508.06 302.20,508.86 301.90,509.72 302.56,510.51 301.90,511.39 302.44,512.19 301.92,513.06 302.60,513.85 302.28,514.70 302.81,515.50 302.35,516.37 302.91,517.17 302.37,518.04 302.95,518.83 302.49,519.70 303.01,520.48 302.58,521.30 303.24,522.08 302.80,522.90 303.26,523.69 302.88,524.51 303.36,525.30 302.72,526.13 303.47,526.90 302.84,527.74 303.62,528.51 303.11,529.34 303.77,530.11 303.00,530.96 303.57,531.74 303.05,532.57 303.74,533.34 303.34,534.17 304.00,534.94 303.29,535.78 304.02,536.55 303.51,537.38 304.10,538.16 303.61,538.99 304.02,539.78 303.59,540.60 304.03,541.39 303.60,542.22 304.17,542.99 303.78,543.82 304.40,544.57 303.88,545.48 304.67,546.22 304.03,547.15 304.87,547.89 304.26,548.81 305.09,549.55 304.37,550.48 305.06,551.24 304.62,552.14 305.33,552.89 304.82,553.80 304.95,554.56 305.74,553.80 305.23,552.95 305.71,552.16 305.14,551.31 306.00,550.55 305.26,549.68 305.82,548.90 305.40,548.06 305.95,547.28 305.53,546.44 306.28,545.67 305.77,544.82 306.42,544.04 305.71,543.18 306.32,542.40 305.97,541.56 306.49,540.78 305.87,539.92 306.64,539.16 306.21,538.31 306.57,537.52 306.32,536.69 306.54,536.27 307.73,535.87 307.28,536.72 307.87,537.50 307.35,538.35 308.01,539.12 307.63,539.96 308.27,540.74 307.61,541.60 308.32,542.37 307.64,543.23 308.51,543.99 308.00,544.84 308.43,545.63 308.06,546.47 308.59,547.25 307.94,548.11 308.79,548.87 308.31,549.72 308.71,550.51 308.18,551.36 308.97,552.12 308.42,552.98 309.01,553.75 308.62,554.67 309.56,555.24 309.38,556.36 309.63,557.00 310.52,556.31 310.21,555.39 310.76,554.63 310.50,553.71 311.27,553.01 310.71,552.03 311.34,551.29 311.18,550.39 311.77,549.65 311.42,548.71 312.17,548.00 311.77,547.06 312.41,546.32 312.17,545.42 312.75,544.66 312.34,543.74 312.86,542.97 312.58,542.07 313.44,541.36 312.99,540.43 313.10,539.67 313.82,540.37 313.47,541.34 314.11,542.07 313.82,543.02 314.52,543.73 314.82,544.69 314.45,543.70 315.38,543.06 314.75,542.00 315.55,541.33 315.33,540.38 316.21,539.72 315.67,538.69 316.66,538.06 316.24,536.94 317.37,536.49 317.47,535.33 318.48,534.65 317.92,533.82 318.76,533.06 317.96,532.21 318.79,531.45 318.25,530.62 318.90,529.85 318.20,529.01 318.91,528.24 318.33,527.41 318.95,526.64 318.44,525.81 319.06,525.04 318.68,524.21 319.12,523.43 318.69,522.60 319.42,521.84 318.73,521.00 319.31,520.23 318.89,519.40 319.36,518.62 318.95,517.80 319.42,517.02 319.15,516.20 319.74,515.43 319.09,514.59 319.69,513.82 319.15,512.98 319.74,512.21 319.35,511.38 319.73,510.59 319.39,509.77 319.88,508.98 319.33,508.15 320.03,507.37 319.33,506.53 320.04,505.76 319.41,504.92 320.19,504.15 319.75,503.32 320.14,502.53 319.66,501.70 320.46,500.93 319.81,500.09 320.47,499.31 319.86,498.47 320.57,497.70 320.05,496.87 320.53,496.08 319.86,495.24 320.53,494.46 320.13,493.64 320.53,492.85 320.24,492.02 320.68,491.24 320.14,490.40 320.74,489.62 320.31,488.79 320.80,488.01 320.32,487.18 321.09,486.40 320.38,485.56 320.94,484.82 320.60,483.85 321.59,483.22 321.06,482.20 321.74,481.49 321.41,480.52 322.41,479.83 321.84,478.93 322.34,478.14 322.06,477.27 322.63,476.49 322.01,475.59 322.83,474.83 322.16,473.93 322.86,473.16 322.51,472.28 323.20,471.51 322.58,470.61 323.26,469.84 322.73,468.95 323.40,468.17 323.40,467.32 323.00,468.13 323.43,468.93 322.97,469.75 323.56,470.55 323.04,471.36 323.67,472.16 323.15,472.98 323.67,473.78 323.26,474.59 323.85,475.39 323.13,476.21 323.90,477.00 323.32,477.82 323.82,478.62 323.15,479.44 323.77,480.24 323.38,481.05 323.75,481.85 323.40,482.67 323.97,483.47 323.45,484.28 324.02,485.08 323.38,485.90 323.97,486.70 323.36,487.52 324.01,488.31 323.38,489.13 324.06,489.93 323.52,490.75 324.14,491.54 323.57,492.36 324.17,493.16 323.45,493.98 324.22,494.77 323.63,495.59 324.26,496.39 323.45,497.21 324.19,498.01 323.71,498.82 324.25,499.62 323.53,500.44 324.16,501.24 323.86,502.05 324.30,502.85 323.69,503.67 324.43,504.47 323.82,505.29 324.54,506.08 323.90,506.90 324.50,507.70 323.98,508.52 324.30,509.32 324.00,510.13 324.35,510.93 323.92,511.75 324.54,512.54 324.05,513.36 324.70,514.16 324.03,514.98 324.48,515.78 324.13,516.59 324.70,517.39 323.93,518.21 324.56,519.01 324.24,519.82 324.78,520.62 324.21,521.44 324.88,522.23 324.17,523.06 324.81,523.85 324.74,524.67 324.13,523.85 324.81,523.06 324.32,522.25 324.99,521.46 324.42,520.64 324.98,519.85 324.48,519.03 324.99,518.24 324.41,517.42 325.10,516.63 324.56,515.81 325.05,515.02 324.49,514.20 325.20,513.42 324.36,512.59 325.15,511.81 324.63,510.99 325.07,510.19 324.66,509.38 325.17,508.59 324.71,507.77 325.13,506.98 324.58,506.16 325.31,505.37 324.77,504.55 325.46,503.77 324.83,502.94 325.37,502.15 324.89,501.34 325.50,500.55 324.71,499.72 325.35,498.93 324.78,498.11 325.57,497.33 324.97,496.51 325.46,495.72 324.95,494.90 325.67,494.11 325.09,493.29 325.65,492.50 324.99,491.68 325.61,490.89 325.04,490.07 325.79,489.29 325.20,488.47 325.83,487.68 325.19,486.86 325.84,486.07 325.07,485.25 325.69,484.46 325.11,483.64 325.99,482.85 325.33,482.03 325.72,481.24 325.43,480.43 326.06,479.64 325.50,478.82 326.08,478.03 325.50,477.21 326.07,476.42 325.55,475.60 325.55,474.80 326.11,475.60 325.62,476.41 326.04,477.21 325.40,478.03 326.20,478.81 325.45,479.64 326.32,480.42 325.75,481.24 326.13,482.03 325.56,482.85 326.31,483.64 325.83,484.45 326.29,485.25 325.81,486.07 326.31,486.86 325.89,487.67 326.22,488.47 325.65,489.29 326.36,490.08 325.73,490.90 326.33,491.69 325.89,492.50 326.38,493.29 325.95,494.11 326.43,494.90 325.91,495.72 326.46,496.51 325.93,497.33 326.61,498.12 326.17,498.93 326.61,499.73 326.09,500.54 326.83,501.33 326.18,502.15 326.65,502.94 326.02,503.77 326.90,504.55 326.14,505.37 326.74,506.16 326.35,506.98 326.78,507.77 326.43,508.58 326.75,509.38 326.33,510.20 326.91,510.99 326.35,511.81 326.93,512.60 326.57,513.41 327.08,514.20 326.40,515.02 327.07,515.81 326.48,516.63 327.16,517.42 326.38,518.24 327.26,519.03 326.50,519.85 327.15,520.64 326.67,521.45 327.19,522.25 326.50,523.07 327.22,523.86 327.24,524.67 326.74,523.86 327.21,523.06 326.60,522.25 327.21,521.46 326.77,520.64 327.54,519.86 326.92,519.04 327.48,518.25 326.92,517.43 327.41,516.64 327.02,515.83 327.41,515.04 326.86,514.22 327.66,513.44 326.88,512.61 327.47,511.82 326.99,511.01 327.60,510.22 327.05,509.40 327.72,508.62 327.20,507.80 327.89,507.01 327.34,506.20 327.86,505.41 327.11,504.58 327.83,503.80 327.23,502.98 328.03,502.20 327.39,501.38 327.95,500.59 327.27,499.77 327.92,498.98 327.32,498.16 327.96,497.37 327.42,496.56 328.07,495.77 327.42,494.95 328.03,494.16 327.48,493.34 328.14,492.56 327.65,491.74 328.20,490.95 327.68,490.13 328.34,489.35 327.65,488.53 328.32,487.74 327.68,486.92 328.29,486.13 327.82,485.32 328.22,484.52 327.64,483.71 328.39,482.92 327.81,482.10 328.43,481.32 327.76,480.49 328.38,479.71 328.00,478.89 328.61,478.11 328.51,477.28 327.93,478.11 328.70,478.89 327.93,479.73 328.79,480.50 328.27,481.33 328.71,482.12 328.09,482.96 328.92,483.73 328.39,484.56 328.78,485.35 328.42,486.18 328.84,486.97 328.46,487.79 329.13,488.57 328.48,489.41 329.10,490.19 328.69,491.01 329.15,491.80 328.48,492.64 329.32,493.41 328.73,494.25 329.32,495.03 328.69,495.86 329.49,496.64 328.97,497.47 329.53,498.25 328.97,499.08 329.56,499.87 329.09,500.70 329.58,501.48 329.13,502.31 329.66,503.09 329.30,503.92 329.68,504.70 329.25,505.58 329.80,506.37 329.54,507.23 330.17,508.01 329.67,508.90 330.21,509.68 329.85,510.56 330.54,511.33 330.06,512.22 330.64,513.00 329.99,513.90 330.67,514.67 330.29,515.55 331.03,516.32 330.40,517.21 331.05,518.00 330.72,518.86 331.21,519.66 330.75,520.53 331.43,521.31 330.91,522.19 331.47,522.98 330.94,523.86 331.74,524.63 331.17,525.52 331.74,526.31 331.24,527.19 332.05,527.96 331.50,528.84 332.20,529.62 331.48,530.51 332.15,531.29 332.31,532.19 331.84,531.29 332.34,530.50 331.91,529.61 332.64,528.85 332.19,527.95 332.88,527.20 332.28,526.28 333.17,525.54 332.77,524.65 333.33,523.87 332.84,522.97 333.47,522.30 333.28,521.16 334.29,520.63 334.75,519.64 334.16,520.56 334.94,521.31 334.49,522.21 335.18,522.97 334.59,523.88 335.43,524.62 334.83,525.54 335.56,526.30 335.25,527.18 335.85,527.95 335.30,528.86 336.08,529.58 335.52,530.62 336.24,531.40 336.05,532.36 336.58,533.18 336.22,534.18 336.94,534.96 337.12,535.90 336.68,535.04 337.45,534.32 337.07,533.46 337.66,532.72 337.05,531.84 337.78,531.11 337.43,530.26 338.02,529.51 337.50,528.64 338.17,527.91 337.49,527.02 338.42,526.31 337.71,525.42 338.35,524.77 338.59,523.70 339.61,523.17 339.82,522.13 340.63,521.47 340.24,520.45 340.91,519.74 340.72,518.78 341.40,518.08 341.08,517.01 342.08,516.57 341.88,515.56 342.74,515.06 342.71,514.13 343.33,513.63 343.83,512.49 344.55,512.23 345.41,513.00 344.86,513.88 345.35,514.68 345.07,515.54 345.60,516.33 345.11,517.21 345.72,517.99 345.22,518.87 345.90,519.65 345.40,520.53 346.11,521.31 345.60,522.19 346.29,522.97 345.63,523.86 346.16,524.65 345.84,525.52 346.45,526.30 345.96,527.18 346.60,527.96 346.13,528.84 346.21,529.65 346.85,528.86 346.26,528.03 346.87,527.24 346.15,526.41 346.89,525.62 346.32,524.79 347.05,524.01 346.37,523.17 347.09,522.39 346.55,521.56 347.00,520.77 346.42,519.94 346.93,519.15 346.40,518.32 347.00,517.53 346.54,516.70 347.08,515.91 346.49,515.08 347.26,514.30 346.59,513.47 347.29,512.68 346.68,511.85 347.40,511.07 346.85,510.24 347.31,509.44 346.74,508.61 347.34,507.83 346.76,507.00 347.42,506.21 347.08,505.39 347.43,504.59 346.91,503.76 347.76,502.98 347.08,502.15 347.72,501.36 347.19,500.53 347.85,499.76 347.14,498.91 347.73,498.15 347.46,497.33 348.02,496.57 347.58,495.73 348.19,494.98 347.62,494.13 348.12,493.37 347.65,492.53 348.26,491.77 347.78,490.93 348.33,490.17 347.79,489.33 348.51,488.58 347.93,487.73 348.57,486.98 348.06,486.14 348.95,485.40 348.31,484.55 348.77,483.79 348.43,482.96 349.08,482.21 348.60,481.37 349.17,480.61 349.09,479.78 348.67,480.61 349.34,481.40 348.73,482.23 349.38,483.02 348.88,483.84 349.47,484.64 348.93,485.46 349.55,486.26 348.70,487.09 349.61,487.88 348.90,488.71 349.45,489.50 349.01,490.33 349.65,491.12 349.01,491.95 349.75,492.74 349.19,493.57 349.66,494.36 348.99,495.20 349.75,495.98 349.15,496.81 349.64,497.61 349.32,498.43 349.75,499.23 349.13,500.06 349.98,500.84 349.39,501.67 350.05,502.46 349.50,503.29 350.00,504.09 349.26,504.92 349.97,505.71 349.32,506.54 350.12,507.33 349.65,508.15 350.06,508.95 349.57,509.78 350.09,510.57 349.53,511.40 349.73,512.19 350.33,511.40 349.75,510.57 350.16,509.77 349.72,508.94 350.22,508.14 349.78,507.31 350.50,506.52 349.82,505.68 350.45,504.89 350.05,504.06 350.52,503.27 350.08,502.44 350.62,501.64 350.13,500.81 350.65,500.01 350.11,499.18 350.64,498.39 350.07,497.55 350.63,496.76 350.28,495.93 350.92,495.14 350.28,494.30 350.95,493.51 350.16,492.67 350.89,491.88 350.45,491.05 350.82,490.25 350.27,489.42 350.88,488.63 350.45,487.80 351.07,487.01 350.62,486.18 351.10,485.38 350.66,484.55 351.18,483.75 350.61,482.92 351.18,482.13 350.76,481.30 351.24,480.50 350.81,479.67 351.21,478.87 350.85,478.04 351.50,477.25 350.82,476.42 351.56,475.63 351.03,474.79 351.64,474.02 350.96,473.18 351.68,472.41 351.02,471.57 351.72,470.80 351.21,469.96 351.82,469.19 351.31,468.36 351.75,467.57 351.43,466.75 351.87,465.97 351.36,465.13 351.92,464.36 351.32,463.52 351.94,462.74 351.50,461.92 352.06,461.14 351.57,460.31 352.32,459.54 351.62,458.70 352.17,457.92 351.84,457.09 352.42,456.32 351.69,455.47 352.32,454.70 351.89,453.87 352.61,453.10 351.91,452.26 352.58,451.49 351.99,450.65 352.14,449.88 352.87,450.65 352.34,451.48 352.94,452.26 352.28,453.09 352.84,453.88 352.45,454.70 352.85,455.49 352.31,456.32 353.06,457.09 352.56,457.92 353.01,458.70 352.62,459.53 353.03,460.31 352.66,461.13 353.14,461.92 352.49,462.75 353.41,463.52 352.61,464.36 353.31,465.14 352.77,465.96 353.47,466.74 352.70,467.58 353.53,468.35 352.85,469.18 353.42,469.97 352.92,470.79 353.69,471.57 352.94,472.40 353.51,473.18 353.02,474.01 353.17,474.79 353.62,473.99 353.01,473.16 353.82,472.36 353.12,471.53 353.69,470.73 353.13,469.90 353.98,469.10 353.15,468.27 353.96,467.47 353.21,466.64 354.01,465.84 353.32,465.01 353.94,464.21 353.29,463.38 354.08,462.58 353.31,461.75 353.97,460.95 353.32,460.12 354.08,459.32 353.37,458.49 353.99,457.69 353.40,456.86 354.24,456.06 353.66,455.23 354.29,454.43 353.71,453.60 354.13,452.80 353.67,451.97 354.18,451.17 353.70,450.34 354.43,449.54 353.68,448.71 354.41,447.91 353.81,447.08 354.47,446.28 353.72,445.45 354.47,444.65 353.71,443.81 354.56,443.02 353.92,442.19 354.36,441.38 353.88,440.56 354.64,439.76 354.02,438.93 354.60,438.13 353.90,437.29 354.70,436.50 354.20,435.67 354.64,434.87 354.23,434.04 354.56,433.23 354.80,432.41 354.16,433.22 354.77,434.02 354.18,434.83 354.72,435.63 354.29,436.44 354.76,437.23 354.12,438.05 354.87,438.84 354.33,439.66 354.74,440.45 354.37,441.26 354.96,442.06 354.35,442.87 354.98,443.67 354.26,444.49 354.84,445.28 354.34,446.09 354.85,446.89 354.32,447.70 354.93,448.50 354.53,449.31 355.20,450.10 354.53,450.92 355.00,451.71 354.40,452.53 355.16,453.32 354.43,454.14 355.12,454.93 354.59,455.74 355.33,456.53 354.62,457.35 355.37,458.14 354.75,458.96 355.36,459.75 354.79,460.57 355.29,461.36 354.87,462.17 355.21,462.97 354.61,463.79 355.33,464.58 354.68,465.40 355.30,466.19 354.86,467.00 355.29,467.80 354.83,468.61 355.56,469.40 354.87,470.22 355.44,471.01 354.77,471.83 355.63,472.62 354.89,473.44 355.41,474.23 354.93,475.05 355.56,475.84 354.86,476.66 355.56,477.45 354.99,478.26 355.68,479.06 355.11,479.87 355.68,480.67 355.05,481.48 354.99,482.27 355.72,481.48 355.19,480.67 355.90,479.88 355.33,479.07 355.89,478.27 355.16,477.46 355.84,476.67 355.27,475.85 355.93,475.06 355.16,474.24 355.96,473.46 355.24,472.64 355.78,471.85 355.41,471.04 355.84,470.24 355.25,469.43 356.12,468.64 355.54,467.83 356.05,467.04 355.43,466.22 355.92,465.43 355.53,464.62 356.17,463.83 355.48,463.01 356.06,462.22 355.48,461.40 356.10,460.61 355.58,459.80 356.17,459.01 355.48,458.19 356.28,457.40 355.57,456.59 356.32,455.80 355.74,454.98 356.45,454.20 355.67,453.38 356.39,452.59 355.84,451.77 356.26,450.98 355.78,450.17 356.50,449.38 355.74,448.56 356.39,447.77 355.98,446.96 356.48,446.17 355.78,445.35 356.40,444.56 355.86,443.74 356.44,442.95 356.03,442.14 356.43,441.35 356.07,440.54 356.57,439.74 355.89,438.93 356.79,438.14 356.17,437.33 356.62,436.53 355.97,435.72 356.61,434.93 356.20,434.12 356.72,433.32 356.30,432.51 356.70,431.72 356.24,430.90 356.78,430.11 356.10,429.30 356.77,428.51 356.37,427.70 357.01,426.91 356.33,426.09 357.02,425.30 356.30,424.48 356.28,423.71 356.94,424.49 356.57,425.33 357.17,426.12 356.56,426.98 357.20,427.76 356.59,428.62 357.35,429.39 356.81,430.24 357.33,431.04 356.70,431.89 357.47,432.67 356.99,433.52 357.60,434.30 357.09,435.15 357.73,435.94 357.26,436.78 357.85,437.57 357.18,438.43 357.79,439.22 357.16,440.07 357.86,440.85 357.47,441.70 357.89,442.49 357.47,443.34 358.20,444.12 357.52,444.98 358.18,445.76 357.58,446.62 358.18,447.40 357.83,448.24 358.44,449.03 357.71,449.88 358.52,450.65 357.86,451.48 358.62,452.26 358.02,453.08 358.74,453.86 357.97,454.69 358.61,455.47 358.14,456.29 358.82,457.06 358.22,457.89 358.69,458.67 358.12,459.50 358.86,460.27 358.29,461.10 358.97,461.87 358.23,462.71 358.86,463.48 358.47,464.30 358.90,465.09 358.51,465.91 359.10,466.68 358.43,467.51 359.21,468.29 358.58,469.11 359.19,469.89 358.65,470.72 359.21,471.50 358.62,472.32 359.44,473.09 358.69,473.92 359.30,474.70 358.80,475.53 359.55,476.30 358.92,477.13 359.66,477.90 358.86,478.73 359.67,479.50 358.94,480.34 359.71,481.11 358.99,481.94 359.61,482.72 359.10,483.54 359.85,484.31 359.20,485.14 359.78,485.92 359.43,486.74 359.94,487.52 359.25,488.35 359.90,489.13 359.51,489.95 359.95,490.73 359.61,491.55 360.15,492.33 359.39,493.16 360.25,493.93 359.65,494.76 360.30,495.53 359.84,496.36 360.44,497.14 359.85,497.98 360.27,498.76 359.85,499.59 360.41,500.37 360.06,501.19 360.49,501.98 360.11,502.81 360.74,503.57 360.09,504.42 360.67,505.19 360.18,506.03 360.79,506.80 360.46,507.63 361.05,508.40 360.52,509.24 361.05,510.01 360.55,510.85 361.11,511.62 360.58,512.46 361.21,513.23 360.66,514.07 361.49,514.83 360.85,515.68 361.34,516.45 360.87,517.29 361.44,518.06 361.05,518.89 361.66,519.63 361.40,520.50 362.04,521.20 361.51,522.13 362.34,522.79 361.93,523.70 362.64,524.38 362.19,525.30 362.87,525.99 362.42,526.90 363.42,527.52 363.51,528.51 362.94,527.51 363.81,526.91 363.36,525.95 364.16,525.33 363.95,524.43 364.62,523.78 364.40,522.88 364.58,522.35 365.69,522.82 365.64,523.98 366.58,524.53 366.80,525.61 367.76,526.18 368.31,527.29 368.55,526.22 369.59,525.71 370.16,524.61 369.74,525.52 370.35,526.23 369.95,527.13 370.63,527.84 370.37,528.71 371.03,529.42 370.52,530.34 371.45,531.00 370.79,531.94 371.72,532.60 371.02,533.56 371.94,534.22 371.37,535.15 371.71,535.87 372.14,535.10 371.87,534.26 372.49,533.50 371.80,532.63 372.56,531.88 372.09,531.03 372.62,530.26 372.27,529.42 372.86,528.66 372.15,527.78 372.90,527.03 372.60,526.19 373.01,525.42 372.65,524.57 373.38,523.82 372.65,522.94 373.39,522.18 372.97,521.36 373.34,520.56 373.02,519.73 373.61,518.94 372.97,518.10 373.73,517.32 372.89,516.48 373.73,515.69 373.09,514.86 373.80,514.07 373.26,513.24 373.63,512.44 373.18,511.61 373.81,510.82 373.35,509.99 373.79,509.19 373.46,508.37 374.06,507.58 373.30,506.74 374.12,505.95 373.28,505.11 374.02,504.32 373.41,503.49 374.06,502.70 373.45,501.86 374.27,501.08 373.72,500.25 374.06,499.45 373.75,498.62 374.30,497.83 373.76,497.00 374.18,496.20 373.67,495.37 374.48,494.59 373.85,493.75 374.30,492.95 373.77,492.12 374.52,491.34 374.09,490.51 374.51,489.71 373.97,488.88 374.74,488.09 374.07,487.25 374.74,486.47 374.25,485.62 374.70,484.83 374.11,483.98 374.83,483.20 374.45,482.36 374.98,481.57 374.53,480.73 374.95,479.93 374.51,479.09 375.15,478.31 374.54,477.46 375.28,476.68 374.69,475.83 375.17,475.04 374.69,474.19 375.25,473.40 374.86,472.56 375.44,471.78 374.88,470.93 375.63,470.15 375.10,469.30 375.70,468.52 375.05,467.66 375.73,466.88 375.31,466.04 375.95,465.26 375.25,464.40 375.77,463.61 375.45,462.78 376.15,462.00 375.54,461.15 376.05,460.35 375.45,459.50 376.27,458.73 375.59,457.87 376.33,457.10 375.86,456.25 376.21,455.45 375.65,454.61 376.52,453.83 376.03,452.99 376.37,452.19 376.06,451.35 376.74,450.57 376.15,449.72 376.73,448.94 375.99,448.11 376.79,447.33 376.06,446.50 376.73,445.72 376.36,444.90 376.72,444.11 376.24,443.28 376.81,442.50 376.23,441.67 377.07,440.90 376.55,440.07 377.16,439.29 376.62,438.47 377.13,437.68 376.70,436.86 377.28,436.08 376.52,435.24 377.39,434.47 376.86,433.64 377.43,432.86 376.75,432.03 377.49,431.25 376.83,430.42 377.49,429.64 376.87,428.81 377.61,428.03 377.10,427.21 377.44,426.41 377.01,425.59 377.58,424.81 377.12,423.98 377.54,423.18 377.06,422.36 377.59,421.56 377.08,420.74 377.89,419.95 377.25,419.12 377.72,418.32 377.24,417.50 377.80,416.70 377.36,415.88 377.82,415.08 377.23,414.25 378.01,413.46 377.48,412.64 377.91,411.84 377.41,411.01 378.20,410.23 377.42,409.39 378.02,408.60 377.62,407.78 378.13,406.98 377.55,406.15 378.13,405.36 377.65,404.53 378.44,403.74 377.65,402.91 378.19,402.11 377.92,401.30 378.27,400.50 377.77,399.67 378.47,398.88 377.87,398.05 378.48,397.26 377.96,396.43 378.58,395.64 377.93,394.81 378.72,394.02 377.96,393.19 378.73,392.42 378.00,391.52 378.89,390.76 378.20,389.86 378.78,389.07 378.36,388.20 379.18,387.43 378.58,386.55 379.33,385.77 378.80,384.89 379.49,384.11 378.86,383.22 379.56,382.44 379.06,381.56 379.57,380.77 379.17,379.90 379.72,379.11 379.39,378.24 379.90,377.45 379.26,376.56 380.11,375.79 379.42,374.90 380.27,374.13 379.56,373.24 380.46,372.47 379.69,371.58 380.34,370.79 379.96,369.93 380.50,369.13 380.15,368.27 380.55,367.47 379.98,366.59 380.88,365.82 380.27,364.94 380.94,364.15 380.24,363.27 381.09,362.49 380.35,361.61 381.09,360.82 380.67,359.97 381.24,359.15 380.61,358.33 381.17,357.51 380.59,356.70 381.15,355.88 380.40,355.06 381.03,354.24 380.54,353.42 381.18,352.60 380.54,351.78 381.27,350.96 380.58,350.14 381.26,349.32 380.49,348.50 381.28,347.68 380.68,346.86 381.04,346.04 380.62,345.22 381.26,344.40 380.70,343.58 381.06,342.76 380.48,341.94 381.29,341.12 380.65,340.30 381.11,339.48 380.49,338.66 381.19,337.85 381.21,336.98 380.58,337.91 381.27,338.66 380.96,339.55 381.43,340.33 381.05,341.23 381.71,341.99 381.40,342.87 382.16,343.62 382.17,344.57 381.70,343.55 382.53,342.79 382.06,341.77 382.90,341.01 382.50,340.01 383.06,339.19 383.23,338.22 383.26,339.25 383.94,340.06 383.85,341.13 384.50,342.00 384.09,342.85 384.87,343.62 384.13,344.49 384.75,345.27 384.20,346.13 384.82,346.91 384.51,347.75 384.96,348.54 384.52,349.39 385.18,350.17 384.61,351.03 385.29,351.81 384.82,352.66 385.46,353.44 384.84,354.30 385.53,355.08 385.04,355.93 385.63,356.72 385.07,357.57 385.73,358.35 384.99,359.22 385.77,359.99 385.26,360.84 385.67,361.64 385.38,362.49 386.08,363.26 385.56,364.15 386.17,364.93 385.59,365.82 386.34,366.59 385.89,367.47 386.34,368.27 386.08,369.13 386.77,369.90 386.16,370.80 386.83,371.57 386.26,372.47 386.86,373.25 386.59,374.12 386.96,374.92 386.51,375.80 387.17,376.58 386.64,377.47 387.41,378.23 386.88,379.12 387.50,379.90 387.04,380.80 387.74,381.56 387.37,382.44 388.02,383.21 387.65,384.10 388.13,384.88 387.64,385.78 388.35,386.54 387.97,387.43 388.69,388.19 388.22,389.09 388.72,389.87 388.42,390.75 388.97,391.52 388.58,392.44 389.34,393.14 388.93,394.11 389.80,394.79 389.45,395.75 390.12,396.46 389.60,397.46 390.38,398.16 390.23,399.07 390.83,399.82 390.53,400.73 391.12,401.48 390.63,402.42 391.28,403.16 391.09,404.05 391.68,404.81 391.35,405.72 391.88,406.48 391.55,407.43 392.25,408.12 392.22,409.06 392.88,409.76 392.65,410.76 393.61,411.37 393.18,412.43 393.90,413.11 393.83,414.06 394.67,414.75 394.17,415.72 395.04,416.41 394.37,417.41 395.37,418.07 394.97,419.02 395.73,419.73 395.17,420.70 395.84,421.43 395.62,422.34 396.37,423.06 395.94,424.01 396.46,424.78 396.17,425.65 396.89,426.42 396.27,427.32 397.00,428.09 396.56,428.97 397.08,429.76 396.65,430.64 397.16,431.43 396.71,432.31 397.38,433.09 397.04,433.96 397.74,434.73 397.10,435.63 397.65,436.42 397.41,437.28 397.97,438.06 397.42,438.96 397.94,439.75 397.60,440.62 398.33,441.39 397.74,442.29 398.36,443.06 397.96,443.95 398.68,444.71 398.12,445.62 398.74,446.39 398.28,447.29 399.20,448.02 398.51,448.95 399.38,449.68 398.84,450.60 399.60,451.34 399.11,452.27 399.70,453.01 399.39,453.97 400.32,454.62 399.97,455.59 400.53,456.33 400.68,457.23 400.35,456.35 400.88,455.57 400.59,454.70 401.24,453.93 400.64,453.03 401.47,452.27 400.86,451.37 401.55,450.60 401.15,449.72 401.80,448.94 401.25,448.05 401.82,447.27 401.32,446.38 402.13,445.62 401.50,444.74 402.25,443.96 401.50,443.13 402.05,442.34 401.47,441.52 402.09,440.74 401.46,439.92 402.21,439.13 401.75,438.32 402.41,437.53 401.76,436.71 402.28,435.92 401.80,435.10 402.41,434.32 401.94,433.50 402.36,432.71 401.94,431.89 402.54,431.11 402.03,430.29 402.51,429.50 401.99,428.68 402.51,427.89 401.94,427.07 402.63,426.29 402.11,425.47 402.52,424.68 402.16,423.87 402.79,423.08 402.20,422.26 402.58,421.47 402.12,420.65 402.76,419.86 402.05,419.04 402.64,418.25 402.30,417.44 402.71,416.65 402.23,415.83 402.84,415.04 402.32,414.23 403.02,413.44 402.29,412.62 403.06,411.84 402.24,411.01 402.91,410.23 402.28,409.41 403.00,408.62 402.61,407.81 403.20,407.02 402.63,406.20 402.96,405.41 402.62,404.59 403.09,403.80 402.44,402.98 403.31,402.20 402.66,401.38 403.25,400.59 402.57,399.77 403.38,398.99 402.67,398.17 403.33,397.38 402.89,396.57 403.30,395.78 402.77,394.96 403.46,394.18 402.78,393.35 403.61,392.58 402.78,391.75 403.44,390.97 403.11,390.15 403.72,389.37 403.01,388.55 403.54,387.76 403.03,386.94 403.62,386.16 403.22,385.34 403.71,384.56 403.19,383.74 403.86,382.96 403.38,382.14 403.93,381.36 403.26,380.53 403.90,379.75 403.30,378.93 404.06,378.15 403.56,377.33 404.01,376.55 403.40,375.72 404.14,374.94 403.45,374.12 404.00,373.33 403.38,372.52 404.22,371.73 403.64,370.91 404.13,370.12 403.44,369.30 404.09,368.51 403.64,367.70 404.36,366.91 403.51,366.09 404.15,365.29 403.59,364.48 404.22,363.69 403.64,362.87 404.38,362.08 403.84,361.27 404.23,360.47 403.84,359.66 404.28,358.87 403.92,358.06 404.26,357.26 403.84,356.45 404.38,355.65 403.97,354.84 404.46,354.05 403.72,353.23 404.48,352.44 403.93,351.63 404.55,350.83 403.94,350.02 404.41,349.22 403.95,348.41 404.39,347.62 403.92,346.80 404.46,346.01 404.04,345.20 404.74,344.41 403.94,343.59 404.73,342.80 404.01,341.98 404.70,341.19 404.02,340.38 404.83,339.59 404.21,338.77 404.79,337.98 404.20,337.16 404.66,336.37 404.07,335.55 404.80,334.76 404.08,333.95 404.91,333.16 404.19,332.34 404.73,331.55 404.40,330.74 404.86,329.94 404.21,329.13 404.80,328.33 404.44,327.52 404.75,326.72 404.44,325.91 404.99,325.12 404.52,324.31 404.87,323.51 404.46,322.70 405.05,321.91 404.26,321.09 404.86,320.30 404.56,319.49 405.18,318.69 404.32,317.88 404.96,317.09 404.57,316.27 405.15,315.49 404.65,314.66 405.19,313.89 404.67,313.06 405.21,312.28 404.87,311.46 405.22,310.68 404.91,309.86 405.30,309.07 404.84,308.25 405.56,307.48 405.02,306.65 405.66,305.88 404.95,305.04 405.59,304.27 405.09,303.44 405.61,302.66 405.03,301.83 405.80,301.06 405.37,300.24 405.74,299.46 405.24,298.63 405.89,297.86 405.31,297.03 405.91,296.25 405.35,295.42 406.16,294.66 405.65,293.83 406.17,293.05 405.69,292.23 406.27,291.45 405.56,290.61 406.37,289.85 405.82,289.02 406.22,288.24 405.75,287.41 406.44,286.64 405.99,285.82 406.40,285.03 405.92,284.21 406.44,283.43 405.97,282.60 406.56,281.83 406.16,281.01 406.68,280.23 406.15,279.40 406.85,278.63 406.38,277.80 406.92,277.02 406.39,276.20 406.86,275.42 406.33,274.59 407.05,273.82 406.41,272.99 407.19,272.22 406.61,271.37 407.08,270.57 406.55,269.73 407.14,268.94 406.78,268.10 407.21,267.30 406.67,266.45 407.48,265.67 406.76,264.82 407.60,264.04 406.82,263.18 407.47,262.39 407.04,261.55 407.68,260.76 407.20,259.92 407.72,259.13 407.27,258.28 407.62,257.48 407.22,256.64 407.73,255.85 407.16,255.00 408.04,254.22 407.39,253.37 407.90,252.57 407.57,251.74 408.08,250.94 407.53,250.10 408.11,249.30 407.54,248.46 408.24,247.67 407.60,246.82 407.85,246.06 408.36,246.76 408.14,247.64 408.85,248.29 408.54,249.19 409.27,249.84 408.92,250.74 409.53,251.42 409.77,252.28 409.20,251.39 410.00,250.62 409.44,249.74 410.03,248.95 409.39,248.06 410.31,247.30 409.62,246.41 410.19,245.62 409.81,244.75 410.49,243.97 410.00,243.09 410.43,242.29 409.91,241.41 410.84,240.65 410.31,239.76 410.89,238.95 410.41,237.99 411.09,237.20 410.83,236.27 411.48,235.48 410.86,234.50 411.63,233.72 411.64,232.79 411.28,233.63 411.76,234.40 411.21,235.25 411.86,236.01 411.53,236.84 412.19,237.60 411.69,238.44 412.09,239.22 411.82,240.05 412.22,240.83 411.79,241.66 412.54,242.42 412.02,243.26 412.45,244.04 411.94,244.88 412.64,245.64 412.18,246.48 412.36,247.14 413.25,246.79 414.17,246.01 413.57,246.83 413.97,247.63 413.41,248.44 414.20,249.23 413.38,250.05 414.10,250.84 413.40,251.66 414.18,252.45 413.64,253.27 414.16,254.07 413.54,254.88 414.28,255.67 413.75,256.49 414.14,257.29 413.52,258.11 414.14,258.90 413.60,259.71 414.25,260.51 413.81,261.32 414.25,262.12 413.77,262.93 414.52,263.72 413.90,264.54 414.50,265.34 413.88,266.15 414.32,266.95 413.78,267.77 414.41,268.56 413.98,269.37 414.46,270.17 413.82,270.99 414.63,271.78 413.92,272.60 414.39,273.39 413.90,274.21 414.61,275.00 413.88,275.82 414.75,276.61 414.10,277.42 414.75,278.22 413.97,279.04 414.60,279.83 414.15,280.65 414.67,281.44 414.18,282.26 414.70,283.05 414.29,283.86 414.68,284.66 414.08,285.49 414.79,286.27 414.22,287.10 415.00,287.89 414.24,288.72 414.85,289.51 414.24,290.34 415.08,291.12 414.27,291.96 415.11,292.74 414.40,293.57 415.19,294.36 414.61,295.19 415.19,295.98 414.62,296.80 415.31,297.59 414.76,298.42 415.26,299.21 414.75,300.04 415.41,300.83 414.80,301.66 415.47,302.44 414.69,303.28 415.53,304.06 414.97,304.89 415.61,305.68 414.83,306.51 415.58,307.30 414.92,308.13 415.43,308.92 414.90,309.75 415.64,310.53 415.09,311.36 415.63,312.15 415.04,312.98 415.83,313.76 415.06,314.61 415.72,315.41 415.31,316.26 415.81,317.07 415.47,317.92 415.92,318.73 415.58,319.58 416.15,320.38 415.60,321.25 416.00,322.06 415.73,322.90 416.30,323.71 415.77,324.57 416.29,325.38 415.79,326.23 416.48,327.03 415.70,327.91 416.41,328.70 415.89,329.56 416.68,330.36 416.02,331.22 416.76,332.02 416.02,332.89 416.66,333.69 416.06,334.59 416.91,335.32 416.55,336.22 417.16,336.98 416.58,337.92 417.39,338.64 416.93,339.56 417.61,340.31 417.06,341.24 417.93,341.96 417.52,342.87 418.09,343.64 417.72,344.52 418.46,345.29 417.73,346.17 418.32,346.95 417.78,347.81 418.41,348.59 418.00,349.44 418.65,350.21 418.08,351.08 418.77,351.85 418.40,352.70 418.92,353.48 418.29,354.35 419.13,355.11 418.56,355.98 419.07,356.76 418.55,357.62 419.37,358.39 418.84,359.25 419.51,360.02 418.72,360.90 419.49,361.67 419.03,362.52 419.70,363.30 418.97,364.17 419.66,364.94 419.33,365.82 419.89,366.59 419.39,367.50 420.04,368.26 419.64,369.15 420.33,369.91 419.80,370.82 420.42,371.59 419.90,372.49 420.88,373.22 420.22,374.14 421.01,374.89 420.53,375.79 421.24,376.55 420.61,377.46 421.38,378.21 420.70,379.14 421.45,379.90 420.85,380.75 421.55,381.50 421.27,382.33 421.78,383.09 421.14,383.95 422.04,384.67 421.26,385.54 422.06,386.28 421.41,387.14 422.21,387.87 421.79,388.71 422.38,389.47 421.73,390.33 422.45,391.07 421.93,391.92 422.54,392.67 422.17,393.50 422.73,394.26 422.24,395.11 422.88,395.85 422.51,396.69 422.88,397.46 422.57,398.29 423.24,399.04 422.61,400.00 423.45,400.54 423.35,401.44 424.13,402.00 423.97,402.93 424.77,403.58 424.10,404.45 424.79,405.19 424.34,406.04 425.09,406.78 424.43,407.65 425.23,408.38 424.59,409.25 425.24,410.00 424.69,410.85 425.59,411.58 425.08,412.44 425.73,413.19 425.10,414.05 425.61,414.81 425.35,415.64 425.95,416.39 425.28,417.25 425.86,418.00 425.47,418.84 426.14,419.59 425.42,420.44 426.16,421.19 425.61,422.04 426.26,422.79 425.91,423.62 426.35,424.39 425.96,425.22 426.61,425.97 426.11,426.81 426.59,427.58 426.26,428.41 426.68,429.18 426.39,430.00 426.88,430.77 426.41,431.60 426.95,432.36 426.54,433.20 427.15,433.95 426.51,434.86 427.38,435.51 426.83,436.44 427.70,437.10 427.38,437.98 428.05,438.68 427.72,439.57 428.24,440.29 428.06,441.15 428.72,441.84 428.10,442.79 428.42,443.49 428.96,442.70 428.46,441.88 429.00,441.08 428.43,440.26 429.06,439.47 428.64,438.65 429.26,437.86 428.56,437.03 429.03,436.23 428.51,435.41 429.30,434.62 428.72,433.80 429.32,433.00 428.59,432.18 429.29,431.39 428.78,430.56 429.31,429.77 428.79,428.95 429.47,428.16 428.78,427.33 429.61,426.54 429.01,425.72 429.47,424.92 428.84,424.10 429.65,423.31 428.97,422.48 429.66,421.69 429.09,420.87 429.79,420.08 429.07,419.25 429.66,418.46 429.23,417.64 429.62,416.84 429.05,416.01 429.88,415.23 429.37,414.41 429.78,413.61 429.28,412.79 429.88,412.00 429.36,411.17 430.05,410.38 429.41,409.56 429.98,408.76 429.27,407.93 430.06,407.15 429.46,406.32 430.01,405.53 429.54,404.71 430.14,403.92 429.46,403.09 430.08,402.30 429.64,401.48 430.17,400.68 429.68,399.85 430.40,399.08 429.71,398.24 430.28,397.46 429.85,396.64 430.53,395.86 429.99,395.03 430.57,394.25 430.11,393.42 430.49,392.64 430.18,391.82 430.76,391.04 430.23,390.21 430.66,389.42 430.34,388.60 430.75,387.81 430.21,386.98 430.98,386.21 430.24,385.37 431.13,384.61 430.43,383.77 431.20,383.00 430.65,382.16 431.28,381.39 430.63,380.55 431.13,379.77 430.61,378.94 431.42,378.17 430.80,377.33 431.26,376.55 430.73,375.72 431.55,374.96 430.92,374.11 431.74,373.36 431.22,372.51 431.58,371.73 431.31,370.91 431.69,370.13 431.25,369.29 432.00,368.53 431.56,367.69 431.97,366.92 431.66,366.09 432.24,365.32 431.62,364.47 432.47,363.73 431.84,362.87 432.60,362.12 431.94,361.26 432.53,360.50 432.12,359.66 432.60,358.89 432.02,358.04 432.96,357.30 432.22,356.44 432.83,355.68 432.51,354.85 432.94,354.07 432.58,353.24 433.25,352.48 432.79,351.64 433.31,350.87 432.72,350.02 433.27,349.25 432.91,348.42 433.63,347.66 432.99,346.81 433.65,346.05 433.02,345.19 433.81,344.45 433.31,343.60 433.87,342.84 433.24,341.97 434.16,341.22 433.42,340.31 434.23,339.55 433.83,338.67 434.28,337.88 433.92,337.00 434.61,336.23 434.20,335.35 434.81,334.57 434.12,333.66 434.88,332.90 434.53,332.03 435.14,331.25 434.57,330.35 435.27,329.55 434.62,328.73 435.31,327.93 434.69,327.11 435.41,326.31 434.55,325.49 435.42,324.69 434.68,323.87 435.25,323.07 434.78,322.25 435.26,321.45 434.64,320.63 435.45,319.83 434.70,319.01 435.49,318.21 434.66,317.38 435.47,316.59 434.90,315.77 435.52,314.97 434.94,314.15 435.50,313.34 435.00,312.53 435.60,311.72 434.92,310.90 435.44,310.10 434.81,309.28 435.41,308.48 434.83,307.66 435.64,306.86 435.10,306.04 435.67,305.24 434.99,304.42 435.74,303.62 435.01,302.80 435.61,302.00 434.93,301.18 435.53,300.38 435.00,299.56 435.56,298.76 435.18,297.94 435.42,297.30 436.51,297.11 437.24,296.32 436.66,295.45 437.30,294.65 436.77,293.78 437.53,293.00 437.08,292.14 437.59,291.33 437.00,290.46 437.62,289.67 437.13,288.80 437.75,288.01 437.33,287.14 438.06,286.36 437.26,285.47 438.19,284.70 437.53,283.82 438.17,283.02 438.27,282.03 437.90,283.14 438.84,283.73 439.31,284.70 438.72,283.84 439.48,283.10 438.84,282.24 439.37,281.48 438.90,280.63 439.52,279.87 439.06,279.03 439.63,278.27 439.11,277.41 439.93,276.68 439.33,275.82 439.94,275.06 439.50,274.22 439.65,273.47 440.19,274.30 439.67,275.22 440.28,276.05 439.92,276.96 440.44,277.80 439.95,278.72 440.84,279.52 440.36,280.44 440.86,281.28 440.38,282.22 441.15,282.94 440.57,283.89 441.31,284.63 440.79,285.57 441.54,286.30 441.31,287.19 442.01,287.93 441.59,288.85 442.08,289.58 441.96,290.59 442.79,291.23 442.71,292.15 443.35,292.94 442.66,293.77 443.35,294.56 442.77,295.38 443.43,296.17 442.83,296.99 443.47,297.78 442.75,298.61 443.54,299.39 442.74,300.22 443.47,301.01 442.86,301.83 443.59,302.62 442.93,303.45 443.39,304.24 442.83,305.06 443.66,305.85 442.94,306.68 443.69,307.46 443.13,308.28 443.64,309.08 442.99,309.90 443.84,310.69 443.00,311.52 443.63,312.31 443.12,313.13 443.80,313.92 443.25,314.74 443.72,315.53 443.38,316.35 443.86,317.14 443.31,317.97 443.84,318.76 443.40,319.59 444.00,320.36 443.35,321.20 444.09,321.97 443.62,322.80 444.26,323.57 443.64,324.41 444.36,325.18 443.52,326.03 444.19,326.80 443.73,327.63 444.53,328.40 443.87,329.24 444.48,330.01 443.98,330.84 444.39,331.63 444.09,332.45 444.50,333.24 444.15,334.06 444.74,334.84 444.14,335.67 444.92,336.44 444.18,337.28 444.82,338.06 444.18,338.90 444.99,339.66 444.39,340.50 445.14,341.27 444.43,342.11 445.06,342.88 444.53,343.72 445.12,344.50 444.48,345.33 445.16,346.11 444.54,346.94 445.16,347.72 444.90,348.53 445.37,349.32 444.89,350.15 445.41,350.93 444.98,351.76 445.57,352.54 444.86,353.37 445.58,354.15 444.83,354.98 445.74,355.76 444.97,356.59 445.71,357.37 445.24,358.19 445.55,358.99 445.16,359.81 445.90,360.59 445.25,361.42 445.83,362.20 445.41,363.02 445.84,363.81 445.18,364.64 445.95,365.42 445.26,366.25 445.83,367.04 445.52,367.85 445.93,368.65 445.37,369.47 445.97,370.26 445.40,371.08 446.08,371.86 445.47,372.69 446.21,373.47 445.70,374.29 446.41,375.08 445.74,375.90 446.38,376.69 445.90,377.51 446.48,378.30 445.67,379.13 446.31,379.91 445.83,380.78 446.48,381.57 446.14,382.43 446.63,383.23 446.09,384.10 446.93,384.88 446.11,385.77 447.06,386.54 446.34,387.42 447.07,388.21 446.61,389.08 447.21,389.87 446.60,390.75 447.22,391.54 446.61,392.42 447.30,393.20 446.97,394.06 447.39,394.87 447.09,395.72 447.65,396.52 447.01,397.47 447.77,398.16 447.52,399.11 448.32,399.79 447.92,400.77 448.68,401.46 448.42,402.58 449.36,402.88 449.73,403.64 450.32,404.44 450.03,405.43 450.78,406.20 450.39,407.21 451.16,407.98 450.74,408.99 451.29,409.81 451.02,410.79 451.73,411.57 451.42,412.56 452.21,413.33 451.82,414.33 452.53,415.11 452.09,416.35 453.19,416.50 453.36,417.45 454.42,417.96 454.16,419.13 455.06,419.78 454.86,420.67 455.32,421.45 455.07,422.35 455.61,423.11 455.26,424.03 456.00,424.75 455.66,425.67 456.32,426.41 455.75,427.37 456.53,428.09 456.29,428.99 456.38,429.78 456.87,428.99 456.24,428.17 457.04,427.40 456.44,426.58 456.92,425.79 456.60,424.98 456.95,424.19 456.40,423.38 457.16,422.60 456.66,421.78 457.20,421.00 456.74,420.18 457.21,419.40 456.70,418.58 457.13,417.80 456.62,416.98 457.37,416.20 456.74,415.38 457.25,414.60 456.74,413.78 457.38,413.00 456.79,412.18 457.32,411.40 456.76,410.58 457.34,409.80 457.02,408.99 457.51,408.20 457.07,407.39 457.46,406.60 456.97,405.78 457.79,405.01 457.12,404.19 457.61,403.40 457.07,402.58 457.64,401.80 457.20,400.99 457.83,400.21 457.24,399.39 457.71,398.60 457.40,397.79 457.88,397.01 457.15,396.18 458.05,395.41 457.48,394.59 457.96,393.81 457.41,392.99 457.91,392.20 457.39,391.39 458.06,390.61 457.40,389.79 458.04,389.01 457.41,388.19 458.25,387.42 457.62,386.55 458.12,385.75 457.70,384.89 458.20,384.08 457.72,383.23 458.46,382.43 457.83,381.57 458.63,380.77 458.08,379.91 458.63,379.11 457.93,378.24 458.53,377.44 458.16,376.58 458.59,375.77 458.16,374.92 458.89,374.12 458.32,373.26 458.96,372.46 458.39,371.62 459.04,370.84 458.50,370.01 459.20,369.23 458.52,368.39 458.97,367.61 458.70,366.79 459.27,366.00 458.53,365.16 459.31,364.39 458.83,363.56 459.46,362.78 458.73,361.94 459.30,361.16 458.91,360.33 459.55,359.55 459.10,358.72 459.42,357.93 459.07,357.10 459.76,356.33 458.94,355.48 459.66,354.71 459.04,353.87 459.88,353.10 459.13,352.26 459.89,351.48 459.17,350.64 459.98,349.87 459.25,349.03 460.03,348.26 459.56,347.43 460.09,346.64 459.55,345.81 460.11,345.03 459.65,344.20 460.24,343.42 459.66,342.58 460.22,341.80 459.83,340.97 460.38,340.19 459.84,339.36 460.43,338.58 459.86,337.74 460.43,336.96 459.98,336.13 460.54,335.35 459.97,334.52 460.74,333.74 460.04,332.89 460.75,332.11 460.28,331.28 460.95,330.49 460.26,329.65 460.85,328.86 460.40,328.03 460.93,327.24 460.34,326.40 461.13,325.62 460.48,324.78 461.17,324.00 460.64,323.16 461.15,322.37 460.66,321.53 461.17,320.74 460.73,319.91 461.39,319.12 460.68,318.28 461.28,317.49 460.91,316.66 461.53,315.88 460.85,315.04 461.57,314.25 460.92,313.41 461.64,312.63 461.11,311.79 461.51,311.00 461.15,310.17 461.58,309.37 461.03,308.54 461.80,307.76 461.19,306.92 462.01,306.14 461.22,305.29 461.85,304.51 461.43,303.67 461.88,302.88 461.36,302.04 462.15,301.27 461.52,300.43 462.09,299.68 461.80,298.75 462.46,298.02 461.99,297.06 462.92,296.38 462.28,295.39 463.25,294.72 462.74,293.75 463.44,293.03 463.11,292.10 463.96,291.34 463.51,290.33 464.06,289.51 463.84,288.54 464.65,287.78 464.02,286.72 464.35,285.94 465.09,286.74 464.38,287.71 465.16,288.50 464.80,289.43 465.47,290.23 464.94,291.18 465.46,292.00 464.97,292.94 465.76,293.74 465.33,294.65 465.93,295.43 465.42,296.25 465.80,297.05 465.43,297.86 465.96,298.65 465.59,299.47 466.01,300.26 465.41,301.08 466.04,301.87 465.48,302.69 466.18,303.48 465.68,304.30 466.04,305.09 465.58,305.91 466.28,306.69 465.75,307.51 466.20,308.31 465.62,309.13 466.47,309.91 465.86,310.73 466.41,311.52 465.80,312.34 466.38,313.13 466.02,313.95 466.43,314.74 465.88,315.56 466.56,316.35 465.97,317.17 466.46,317.96 466.11,318.77 466.57,319.57 466.08,320.38 466.61,321.18 465.95,321.99 466.55,322.78 465.94,323.59 466.61,324.39 466.00,325.20 466.63,325.99 466.11,326.80 466.69,327.60 466.30,328.41 466.84,329.20 466.08,330.02 466.70,330.81 466.11,331.62 466.78,332.42 466.06,333.23 466.67,334.02 466.27,334.83 466.74,335.63 466.21,336.44 466.94,337.23 466.16,338.05 466.88,338.84 466.33,339.65 466.98,340.44 466.44,341.25 466.83,342.05 466.25,342.86 466.91,343.66 466.20,344.47 466.82,345.26 466.38,346.07 466.88,346.87 466.55,347.68 466.86,348.48 466.54,349.28 466.97,350.08 466.45,350.89 467.03,351.69 466.52,352.50 467.11,353.29 466.47,354.10 467.22,354.90 466.60,355.71 467.09,356.50 466.51,357.31 467.07,358.11 466.42,358.92 467.04,359.72 466.43,360.53 467.10,361.32 466.62,362.13 467.20,362.93 466.57,363.74 467.12,364.53 466.74,365.34 467.35,366.14 466.67,366.95 467.11,367.75 466.60,368.56 467.26,369.35 466.73,370.16 467.21,370.96 466.58,371.77 467.24,372.56 466.74,373.37 467.45,374.17 466.78,374.98 467.30,375.78 466.86,376.58 467.40,377.38 466.72,378.19 467.35,378.99 466.82,379.80 467.30,380.59 466.72,381.40 467.39,382.20 466.73,383.01 467.39,383.80 466.78,384.62 467.30,385.41 466.96,386.22 467.61,387.01 466.83,387.83 467.54,388.62 466.91,389.43 467.50,390.23 467.03,391.04 467.42,391.83 466.91,392.64 467.61,393.44 467.05,394.25 467.61,395.04 467.11,395.85 467.62,396.65 467.11,397.46 467.61,398.26 467.09,399.07 467.64,399.86 467.18,400.67 467.66,401.46 467.07,402.28 467.60,403.07 467.21,403.88 467.82,404.67 467.18,405.48 467.84,406.27 467.15,407.09 467.87,407.87 467.37,408.69 467.87,409.48 467.23,410.30 467.96,411.08 467.29,411.90 467.94,412.68 467.44,413.50 468.17,414.28 467.36,415.10 468.12,415.89 467.63,416.70 468.15,417.49 467.70,418.30 468.30,419.09 467.45,419.91 468.28,420.69 467.71,421.51 468.36,422.30 467.79,423.11 468.40,423.90 467.72,424.72 468.19,425.51 467.65,426.32 468.36,427.11 467.72,427.93 468.49,428.71 467.85,429.53 468.59,430.31 468.00,431.13 468.64,431.91 468.00,432.73 468.41,433.52 468.05,434.33 468.47,435.12 468.18,435.93 468.69,436.72 468.21,437.54 468.59,438.33 468.20,439.14 468.67,439.93 468.04,440.75 468.91,441.53 468.10,442.35 468.98,443.13 468.28,443.95 468.96,444.71 468.43,445.60 469.14,446.37 468.40,447.27 469.22,448.04 468.72,448.92 469.16,449.72 468.64,450.60 469.44,451.37 468.88,452.25 469.68,453.02 469.16,453.90 469.76,454.69 469.20,455.57 469.93,456.35 469.34,457.24 469.88,458.03 469.32,458.91 470.05,459.67 469.60,460.60 470.49,461.30 470.03,462.23 470.73,462.97 470.26,463.90 470.86,464.66 470.60,465.56 471.36,466.28 470.82,467.20 471.42,468.00 470.88,468.87 471.37,469.67 470.91,470.53 471.70,471.32 470.97,472.20 471.68,472.99 471.29,473.85 471.78,474.65 471.23,475.52 471.99,476.31 471.43,477.18 472.05,477.97 471.62,478.83 472.28,479.63 471.62,480.50 472.25,481.30 471.63,482.17 472.26,482.96 471.75,483.83 472.41,484.62 471.83,485.49 472.43,486.29 472.10,487.15 472.74,487.93 472.20,488.82 472.82,489.60 472.34,490.49 472.94,491.27 472.55,492.15 473.04,492.94 472.60,493.82 473.28,494.59 472.76,495.48 473.54,496.24 472.99,497.14 473.73,497.90 473.31,498.79 473.93,499.50 473.57,500.49 474.40,501.16 473.86,502.19 474.79,502.83 474.30,503.86 475.16,504.52 474.78,505.51 475.76,506.14 475.47,507.25 476.39,507.35 476.93,508.14 477.96,508.08 478.71,509.10 479.94,509.43 480.13,510.48 481.23,510.64 481.54,511.57 482.46,511.98 482.41,512.96 483.26,513.47 483.24,514.44 484.16,514.91 484.55,515.88 484.22,514.95 485.11,514.36 484.81,513.43 485.57,512.80 485.19,511.86 485.74,511.17 485.45,510.25 486.34,509.62 485.84,508.74 486.46,508.01 486.00,507.14 486.72,506.43 486.24,505.55 486.92,504.84 486.51,503.97 487.28,503.27 486.80,502.40 487.45,501.68 487.13,500.82 487.73,500.10 487.16,499.21 487.80,498.49 487.43,497.63 488.21,496.93 487.79,496.06 488.47,495.35 487.78,494.44 488.45,493.73 488.20,492.88 488.68,492.16 488.51,491.24 489.07,490.49 488.83,489.56 489.51,488.84 489.27,487.91 489.96,487.20 489.64,486.24 490.45,485.56 489.92,484.56 490.62,483.88 490.43,483.01 490.95,482.29 490.76,481.41 491.34,480.71 491.01,479.80 491.91,479.17 491.28,478.19 492.10,477.54 491.94,476.67 491.90,475.97 492.64,476.67 492.07,477.56 492.86,478.26 492.49,479.12 492.99,479.86 492.52,480.73 493.35,481.42 492.90,482.30 493.56,483.01 493.03,483.90 493.91,484.59 493.33,485.51 493.91,486.28 493.56,487.17 494.34,487.91 493.77,488.83 494.48,489.58 493.93,490.50 494.62,491.25 494.13,492.16 494.76,492.92 494.35,493.82 494.40,494.43 495.32,493.85 495.37,492.84 496.38,492.29 495.95,491.18 496.83,490.68 496.75,489.73 497.71,489.27 498.15,488.31 497.61,489.22 498.20,489.94 497.93,490.80 498.65,491.49 498.07,492.41 498.76,493.11 498.37,493.99 499.18,494.67 498.64,495.58 499.25,496.29 499.25,497.38 500.12,496.87 500.73,497.29 501.77,497.80 502.01,498.87 503.06,499.47 502.86,500.51 503.76,501.12 503.52,502.18 504.35,502.81 504.04,503.90 504.87,504.48 505.11,505.65 506.18,506.15 507.08,507.33 507.19,506.17 508.19,505.63 508.59,504.36 509.22,505.17 510.25,505.19 510.84,506.09 511.92,506.01 512.55,506.82 513.16,507.06 513.74,506.26 513.12,505.39 513.87,504.60 513.40,503.74 513.93,502.94 513.33,502.07 514.06,501.28 513.54,500.41 514.32,499.62 513.72,498.75 514.40,497.96 513.86,497.09 514.30,496.29 514.04,495.43 514.51,494.63 513.88,493.76 514.54,492.96 514.12,492.10 514.82,491.31 514.28,490.44 514.73,489.64 514.30,488.78 514.92,487.98 514.28,487.08 515.22,486.35 514.69,485.45 515.30,484.67 514.82,483.78 515.33,482.99 515.00,482.11 515.79,481.36 515.24,480.46 515.88,479.69 515.30,478.78 515.90,478.01 515.42,477.11 516.11,476.35 515.81,475.47 516.49,474.71 516.09,473.82 516.57,473.03 516.24,472.15 516.79,471.37 516.47,470.49 516.88,469.70 516.57,468.86 517.00,468.10 516.75,467.27 517.18,466.51 516.75,465.66 517.30,464.91 516.80,464.06 517.52,463.32 517.12,462.48 517.61,461.72 517.07,460.87 517.69,460.12 517.24,459.28 517.84,458.52 517.32,457.67 518.08,456.94 517.57,456.09 518.36,455.35 517.86,454.51 518.25,453.74 517.81,452.89 518.56,452.15 517.95,451.30 518.60,450.55 518.15,449.72 518.68,448.91 518.26,448.06 518.79,447.25 518.29,446.39 518.88,445.59 518.47,444.74 519.07,443.93 518.62,443.08 519.21,442.27 518.57,441.41 519.11,440.60 518.77,439.75 519.28,438.94 518.73,438.08 519.43,437.28 518.86,436.42 519.42,435.62 519.61,434.75 519.02,435.62 519.73,436.41 518.92,437.29 519.83,438.07 519.00,438.95 519.69,439.75 519.14,440.61 519.90,441.40 519.42,442.26 520.12,443.06 519.38,443.93 520.15,444.72 519.50,445.60 520.02,446.40 519.50,447.26 520.14,448.06 519.79,448.91 520.38,449.71 519.90,450.58 520.42,451.38 520.55,452.25 520.07,451.39 520.63,450.58 520.17,449.72 520.67,448.92 520.09,448.05 520.83,447.26 520.38,446.40 520.77,445.59 520.18,444.72 520.92,443.93 520.45,443.07 521.01,442.27 520.46,441.40 521.22,440.61 520.56,439.74 521.21,438.94 520.68,438.08 521.34,437.28 520.90,436.42 521.57,435.63 520.75,434.74 521.63,433.99 520.87,433.11 521.66,432.36 521.05,431.49 521.72,430.72 521.21,429.87 522.00,429.11 521.28,428.23 522.17,427.49 521.43,426.61 522.12,425.85 521.59,424.99 522.32,424.23 521.87,423.37 522.41,422.60 521.84,421.73 522.69,420.98 521.96,420.11 522.77,419.35 522.30,418.50 522.74,417.71 522.31,416.86 522.48,416.09 522.99,416.86 522.64,417.71 523.05,418.49 522.57,419.34 523.20,420.11 522.66,420.97 523.36,421.73 522.78,422.59 523.48,423.35 523.09,424.19 523.63,424.97 523.29,425.81 523.77,426.59 523.30,427.44 523.76,428.22 523.28,429.07 524.00,429.83 523.67,430.67 524.31,431.44 524.14,432.31 523.86,431.41 524.35,430.64 524.18,429.76 524.84,429.01 524.31,428.07 525.05,427.34 524.69,426.43 525.26,425.67 525.62,424.78 524.97,425.62 525.70,426.39 524.88,427.23 525.51,428.01 524.98,428.84 525.56,429.62 525.10,430.45 525.89,431.21 525.19,432.06 525.89,432.83 525.23,433.67 525.84,434.44 525.40,435.27 525.96,436.05 525.52,436.88 526.02,437.66 525.50,438.49 526.22,439.26 525.56,440.10 526.31,440.87 525.70,441.71 526.49,442.47 525.71,443.32 526.46,444.09 525.95,444.92 526.65,445.69 526.01,446.53 526.47,447.31 526.10,448.14 526.74,448.91 526.00,449.75 526.80,450.52 526.16,451.36 526.98,452.12 526.21,452.97 526.90,453.74 526.39,454.57 527.08,455.34 526.51,456.18 526.96,456.96 526.50,457.79 527.26,458.56 526.69,459.40 527.30,460.17 526.57,461.01 527.20,461.79 526.89,462.61 527.40,463.39 526.91,464.22 527.62,464.99 526.78,465.84 527.54,466.61 526.93,467.45 527.68,468.22 527.20,469.05 527.87,469.82 527.28,470.65 527.67,471.44 527.27,472.27 527.73,473.05 527.35,473.88 527.93,474.62 527.37,475.57 528.20,476.29 527.67,477.22 528.58,477.93 528.02,478.87 528.68,479.62 528.37,480.52 529.02,481.27 528.61,482.19 529.34,482.92 528.84,483.85 529.50,484.60 529.08,485.52 529.98,486.23 529.47,487.17 530.07,487.92 529.86,488.82 530.33,489.59 530.18,490.49 530.76,491.24 530.27,492.20 531.18,492.88 530.57,493.87 531.55,494.53 531.01,495.51 531.81,496.21 531.52,497.13 532.08,497.89 531.78,498.81 532.47,499.49 532.29,500.48 533.00,501.16 532.75,502.17 533.54,502.83 533.30,503.84 533.98,504.53 533.75,505.53 534.74,506.13 534.65,507.40 535.65,506.91 536.91,507.26 536.89,506.01 538.18,505.67 538.73,504.42 538.67,505.48 539.59,506.06 539.32,507.21 540.18,507.83 539.91,508.90 541.00,509.43 540.58,510.56 541.50,511.16 541.95,512.09 541.43,511.22 541.97,510.42 541.42,509.55 542.17,508.76 541.65,507.90 542.25,507.10 541.57,506.22 542.36,505.44 541.68,504.56 542.47,503.77 541.76,502.90 542.40,502.10 542.03,501.24 542.67,500.45 542.05,499.58 542.90,498.80 542.19,497.92 542.85,497.12 542.29,496.25 542.98,495.46 542.37,494.59 543.21,493.81 542.69,492.94 543.12,492.14 542.55,491.25 543.20,490.47 542.75,489.59 543.36,488.81 542.96,487.93 543.76,487.17 543.25,486.28 543.80,485.50 543.42,484.62 544.07,483.84 543.49,482.95 544.20,482.18 543.72,481.29 544.36,480.52 543.69,479.61 544.59,478.86 543.86,477.95 544.59,477.18 544.16,476.30 544.80,475.52 544.40,474.56 545.33,474.08 545.15,473.09 545.95,472.55 545.68,471.51 545.94,470.94 546.54,471.73 546.22,472.56 546.76,473.35 546.07,474.20 546.72,474.98 546.17,475.82 546.86,476.61 546.32,477.44 547.09,478.23 546.54,479.06 546.97,479.86 546.58,480.69 546.97,481.49 546.60,482.32 547.21,483.11 546.57,483.95 547.10,484.74 546.57,485.58 547.28,486.36 546.84,487.19 547.45,487.98 546.69,488.83 546.92,489.60 547.65,488.85 546.94,487.92 547.64,487.16 547.40,486.28 548.04,485.52 547.35,484.59 548.01,483.83 547.58,482.93 548.43,482.19 547.83,481.27 548.66,480.53 548.81,479.58 548.27,480.52 549.04,481.25 548.36,482.22 549.15,482.94 548.71,483.87 549.54,484.58 548.94,485.54 549.78,486.25 549.83,487.17 549.54,486.27 550.19,485.52 549.85,484.61 550.57,483.87 549.90,482.91 550.65,482.18 550.23,481.26 551.06,480.54 551.03,479.63 550.59,480.53 551.44,481.27 550.94,482.17 551.44,482.96 551.16,483.84 551.86,484.59 551.31,485.51 552.08,486.25 551.61,487.16 552.07,487.94 551.76,488.83 551.70,489.53 552.48,488.84 552.34,487.93 553.05,487.22 552.72,486.26 553.41,485.55 553.11,484.60 553.67,483.86 553.32,482.90 553.44,482.19 554.20,482.95 553.74,483.84 554.24,484.62 553.94,485.49 554.48,486.28 553.97,487.17 554.79,487.93 554.14,488.83 554.90,489.60 554.33,490.49 554.94,491.27 554.59,492.14 555.16,492.93 554.79,493.80 555.46,494.58 554.98,495.46 555.50,496.25 555.13,497.16 555.94,497.84 555.41,498.84 556.21,499.53 555.87,500.49 556.73,501.16 556.09,502.19 556.97,502.86 556.59,503.83 557.47,504.43 557.20,505.45 557.92,506.06 557.87,506.99 558.61,507.59 558.30,508.62 559.13,509.19 559.02,510.14 559.79,510.42 560.29,511.49 561.36,511.42 562.23,512.43 562.67,511.37 563.67,511.68 564.26,510.97 564.82,511.04 565.89,511.20 565.83,512.34 566.95,512.46 567.06,513.46 568.00,513.74 568.50,514.69 568.67,513.57 569.71,513.06 569.64,512.02 570.56,511.28 569.80,510.36 570.59,509.60 569.95,508.70 570.65,507.93 570.13,507.04 570.97,506.28 570.31,505.38 571.07,504.61 570.44,503.71 571.11,502.94 570.66,502.05 571.53,501.30 570.97,500.41 571.70,499.64 571.19,498.75 571.84,497.97 571.27,497.06 571.94,496.35 571.61,495.47 572.31,494.76 571.69,493.84 572.34,493.12 571.86,492.23 572.63,491.53 572.30,490.66 572.94,489.93 572.49,489.04 573.34,488.35 572.62,487.42 573.51,486.74 573.05,485.84 573.62,485.13 573.46,484.27 574.07,483.56 573.62,482.65 574.36,481.97 573.82,481.04 574.67,480.38 574.33,479.49 574.99,478.80 574.70,477.92 575.47,477.24 574.90,476.27 575.68,475.56 575.28,474.61 575.92,473.88 575.65,472.96 576.33,472.23 575.94,471.29 576.81,470.60 576.23,469.62 576.90,468.89 576.72,467.99 576.86,467.23 577.48,467.96 577.08,468.94 578.07,469.58 577.67,470.56 578.45,471.25 578.45,472.40 578.98,471.30 579.76,471.07 580.56,471.60 580.69,472.50 581.53,473.01 581.32,474.08 582.27,474.60 581.82,475.60 582.82,476.23 582.43,477.22 583.01,477.95 582.76,478.90 583.60,479.57 583.28,480.53 583.83,481.28 583.62,482.22 584.25,482.94 583.96,483.90 584.33,484.36 585.39,484.33 585.86,483.41 586.88,483.32 587.40,482.48 588.40,482.28 588.61,481.25 589.70,481.10 589.87,480.02 590.75,479.90 591.63,479.26 592.20,479.77 593.15,480.36 592.92,481.41 593.78,482.03 593.65,483.05 594.57,483.64 594.19,484.80 595.16,485.24 594.99,486.29 595.84,486.80 595.88,487.74 596.68,488.29 596.47,489.30 597.31,489.82 597.29,490.74 598.25,491.20 598.61,492.18 598.01,491.23 598.74,490.49 598.44,489.59 599.14,488.85 598.70,487.93 599.42,487.19 598.96,486.26 599.71,485.53 599.17,484.60 599.97,483.85 599.23,482.93 600.02,482.18 599.42,481.26 600.10,480.50 599.65,479.61 600.30,478.84 599.95,477.95 600.61,477.19 600.07,476.28 600.78,475.52 600.44,474.64 601.12,473.88 600.53,472.97 601.30,472.22 600.74,471.31 601.27,470.53 600.85,469.64 601.51,468.87 601.11,467.99 601.61,467.20 601.34,466.33 601.98,465.56 601.35,464.66 602.14,463.90 601.62,463.00 602.34,462.24 601.71,461.33 602.34,460.56 601.92,459.68 602.63,458.91 602.03,458.01 602.67,457.23 602.32,456.36 602.88,455.57 602.56,454.68 603.17,453.95 602.78,452.97 603.65,452.30 603.37,451.35 604.11,450.65 604.12,449.66 604.05,450.73 604.96,451.31 605.38,452.25 605.15,451.36 605.80,450.62 605.43,449.69 606.20,448.97 605.52,448.00 606.31,447.28 605.87,446.34 606.73,445.64 606.22,444.69 606.88,443.95 606.39,443.01 607.21,442.61 607.75,441.52 608.49,441.11 609.33,441.73 609.36,442.76 610.21,443.42 609.80,444.41 610.59,445.01 610.32,445.96 611.17,446.55 611.07,447.44 611.85,448.05 611.49,449.02 612.14,449.67 612.03,450.56 612.68,451.21 612.53,452.12 613.13,452.79 612.99,453.69 613.74,454.31 613.43,455.27 614.13,455.84 614.19,456.88 615.25,457.25 615.13,458.41 616.14,458.82 616.05,459.90 617.19,460.37 616.99,461.51 617.94,462.07 617.88,463.14 618.67,463.78 618.93,465.11 619.80,464.37 620.61,464.85 621.64,464.61 622.14,465.70 623.16,465.49 624.26,466.04 623.93,465.10 624.64,464.46 624.19,463.49 625.02,462.89 624.72,461.96 625.55,461.36 625.25,460.43 625.99,459.73 625.46,458.85 626.24,458.08 625.67,457.20 626.29,456.41 625.86,455.54 626.30,454.74 625.97,453.87 626.39,453.07 625.98,452.20 626.54,451.41 626.04,450.53 626.65,449.75 626.23,448.87 627.03,448.10 626.52,447.23 626.97,446.43 626.46,445.55 627.19,444.76 626.51,443.92 627.22,443.14 626.76,442.31 627.49,441.54 626.85,440.70 627.56,439.93 626.75,439.08 627.40,438.30 626.93,437.47 627.70,436.70 627.14,435.87 627.75,435.08 627.00,434.24 627.79,433.47 627.13,432.63 627.66,431.85 627.09,431.01 627.73,430.23 627.22,429.40 628.00,428.63 627.44,427.80 628.06,427.02 627.48,426.18 628.16,425.40 627.67,424.57 628.29,423.79 627.64,422.95 628.32,422.18 627.69,421.34 628.40,420.56 627.81,419.73 628.39,418.95 627.97,418.12 628.41,417.45 628.42,416.42 629.35,415.84 629.74,414.76 629.31,415.77 630.19,416.52 629.51,417.58 630.54,418.30 630.13,419.31 630.82,420.10 631.01,421.10 630.41,420.22 630.96,419.47 630.49,418.61 631.27,417.88 630.77,417.02 631.57,416.29 631.05,415.43 631.50,414.66 631.02,413.80 631.75,413.07 631.48,412.23 631.89,411.46 631.36,410.59 632.26,409.89 631.82,408.98 632.32,408.20 631.85,407.28 632.73,406.57 632.20,405.64 632.81,404.88 632.50,403.98 633.32,403.26 632.88,402.34 633.40,401.57 633.11,400.67 632.95,399.95 633.72,400.66 633.29,401.61 634.28,402.28 633.69,403.26 634.36,403.99 634.04,404.92 634.84,405.63 634.43,406.57 635.06,407.32 634.69,408.21 635.47,408.96 635.01,409.86 635.69,410.62 635.12,411.53 635.70,412.31 635.37,413.19 635.96,413.96 635.45,414.87 636.19,415.62 635.57,416.54 636.38,417.28 635.89,418.19 636.72,418.93 636.19,419.88 636.80,420.60 636.74,421.55 637.47,422.23 637.38,423.19 638.09,423.88 638.27,424.84 637.92,423.87 638.82,423.21 638.35,422.21 639.30,421.56 638.81,420.56 639.00,419.85 639.67,420.60 639.16,421.46 639.79,422.21 639.36,423.07 640.06,423.82 639.43,424.69 640.07,425.44 639.72,426.29 640.43,427.04 639.72,427.91 640.62,428.65 640.08,429.51 640.53,430.28 640.23,431.12 640.83,431.88 640.18,432.75 640.82,433.25 641.27,434.46 642.10,434.63 643.04,434.17 642.79,433.08 643.86,432.69 643.66,431.62 644.05,431.13 644.95,431.88 644.63,433.02 645.59,433.74 645.45,434.85 646.20,435.41 646.06,436.38 646.90,436.90 646.72,437.90 647.22,438.30 648.49,438.11 649.14,437.10 650.21,436.59 650.33,435.33 651.50,434.81 651.41,433.91 652.11,433.20 651.71,432.22 652.44,431.52 652.07,430.54 652.83,429.85 652.59,428.90 653.14,428.16 652.81,427.19 653.84,426.57 653.41,425.58 654.11,424.83 653.68,423.94 654.15,423.15 653.67,422.26 654.56,421.51 654.04,420.62 654.55,419.83 654.06,418.95 654.88,418.19 654.30,417.29 654.92,416.51 654.54,415.64 655.22,414.86 654.51,413.95 655.40,413.20 654.91,412.32 655.48,411.53 654.80,410.63 655.69,409.88 655.13,408.98 655.68,408.20 655.43,407.33 656.03,406.55 655.59,405.67 656.22,404.89 655.57,403.99 656.28,403.22 655.66,402.32 656.59,401.57 655.92,400.66 656.49,399.88 656.09,399.00 656.76,398.23 656.36,397.35 657.08,396.58 656.38,395.67 657.00,394.90 656.70,394.03 657.23,393.24 656.76,392.36 657.39,391.58 656.97,390.70 657.71,389.97 657.30,389.02 658.01,388.30 657.59,387.35 658.41,386.65 657.73,385.65 658.55,384.95 658.17,384.01 658.82,383.28 659.08,382.40 658.54,383.26 659.25,384.06 658.72,384.92 659.16,385.73 658.88,386.58 659.42,387.38 658.96,388.24 659.43,389.05 658.92,389.91 659.71,390.70 659.05,391.57 659.60,392.37 659.12,393.24 659.71,394.04 659.15,394.90 659.76,395.70 659.41,396.55 659.95,397.36 659.30,398.23 659.96,399.02 659.62,399.89 660.08,400.68 659.78,401.55 660.31,402.34 659.89,403.22 660.61,403.98 660.06,404.88 660.68,405.66 660.22,406.54 660.94,407.31 660.23,408.22 661.00,408.98 661.22,409.96 660.86,408.95 661.74,408.30 661.27,407.26 662.15,406.62 661.82,405.61 662.53,404.90 662.33,404.03 663.09,403.39 662.63,402.46 663.40,401.82 662.97,400.89 663.73,400.25 663.43,399.35 663.99,398.66 663.73,397.78 664.47,397.10 663.98,396.18 664.57,395.47 664.25,394.58 665.02,393.91 664.76,393.04 665.29,392.32 665.04,391.44 665.78,390.76 665.30,389.72 666.33,389.20 666.54,388.11 667.07,387.42 667.58,388.18 667.17,389.01 667.86,389.76 667.15,390.62 667.95,391.36 667.24,392.22 668.06,392.96 667.61,393.80 667.98,394.57 667.71,395.39 668.17,396.16 667.71,397.00 668.47,397.74 667.82,398.59 668.46,399.35 668.04,400.18 668.76,400.93 668.00,401.79 668.68,402.54 668.35,403.37 669.00,404.12 668.40,404.97 669.07,405.72 668.56,406.56 669.13,407.27 668.75,408.23 669.59,408.91 669.15,409.89 669.73,410.63 669.57,411.55 670.34,412.24 669.72,413.26 670.67,413.92 670.20,414.89 670.94,415.67 670.68,416.65 671.23,417.47 670.81,418.48 671.57,419.25 671.29,420.23 671.57,420.94 672.36,420.40 672.34,419.44 673.36,419.02 673.19,417.97 673.60,417.35 674.25,418.09 673.73,419.04 674.51,419.76 674.17,420.68 674.91,421.40 674.49,422.34 674.99,423.10 674.74,424.00 675.38,424.75 674.95,425.68 675.68,426.41 675.88,427.38 675.33,426.36 676.22,425.70 676.00,424.76 676.74,424.06 676.43,423.10 676.54,422.34 677.06,423.07 676.68,423.94 677.49,424.63 677.05,425.50 677.56,426.24 677.05,427.12 677.91,427.81 677.51,428.68 678.14,429.40 677.52,430.29 677.76,431.01 678.27,430.18 677.82,429.26 678.47,428.43 678.13,427.53 678.57,426.69 678.19,425.78 678.70,424.94 678.34,424.03 678.98,423.20 679.02,422.17 678.92,423.25 679.92,423.80 680.15,424.83 679.89,423.93 680.69,423.21 680.00,422.24 680.96,421.55 680.31,420.58 681.12,419.86 680.58,418.92 681.41,418.20 681.06,417.31 681.48,416.52 681.14,415.70 681.74,414.91 681.13,414.08 681.66,413.29 681.13,412.46 681.64,411.67 681.15,410.84 681.92,410.06 681.18,409.22 682.02,408.44 681.40,407.61 681.85,406.81 681.33,405.98 682.09,405.20 681.52,404.37 682.05,403.58 681.66,402.76 682.27,401.97 681.63,401.14 682.33,400.35 681.73,399.52 682.24,398.73 681.75,397.90 682.45,397.12 681.70,396.28 682.39,395.50 681.82,394.66 682.47,393.88 681.84,393.04 682.65,392.27 682.00,391.43 682.59,390.64 682.16,389.82 682.83,389.03 682.06,388.19 682.71,387.41 682.36,386.59 682.76,385.80 682.16,384.97 682.79,384.19 682.29,383.36 683.02,382.59 682.45,381.75 683.11,380.98 682.58,380.15 683.19,379.37 682.76,378.54 683.39,377.77 682.84,376.94 683.22,376.15 682.74,375.32 683.46,374.55 682.77,373.71 683.56,372.94 682.82,372.10 683.44,371.32 683.19,370.50 683.57,369.72 683.03,368.88 683.63,368.11 683.18,367.28 683.90,366.51 683.38,365.67 683.91,364.89 683.23,364.05 684.06,363.29 683.47,362.46 684.04,361.67 683.55,360.84 684.23,360.05 683.44,359.22 684.19,358.43 683.64,357.60 684.26,356.81 683.63,355.98 684.32,355.19 683.71,354.37 684.40,353.58 683.66,352.74 684.31,351.95 683.74,351.13 684.47,350.34 683.80,349.51 684.56,348.72 684.01,347.89 684.59,347.10 683.84,346.27 684.51,345.48 683.84,344.65 684.45,343.86 684.05,343.04 684.67,342.24 683.94,341.41 684.61,340.62 683.94,339.79 684.75,339.01 684.28,338.18 684.63,337.38 684.32,336.56 684.82,335.77 684.29,334.94 684.77,334.15 684.30,333.32 684.76,332.53 684.20,331.70 685.04,330.91 684.36,330.08 684.97,329.29 684.48,328.47 685.06,327.68 684.52,326.85 685.23,326.06 684.37,325.23 685.20,324.44 684.46,323.61 685.04,322.81 684.73,322.00 685.17,321.20 684.78,320.38 686.04,319.66 683.27,318.59 686.70,318.04 683.44,316.93 686.07,316.32 684.50,315.35 685.96,314.63 684.58,313.68 686.14,312.97 684.40,311.99 686.58,311.34 684.35,310.32 687.05,309.70 684.59,308.66 686.86,308.01 684.55,306.98 687.48,306.39 684.72,305.32 687.23,305.12 685.63,303.28 687.86,303.35 686.91,301.93 688.85,301.54 686.84,299.83 689.14,299.56 687.26,297.65 690.60,298.29 688.10,295.99 688.40,296.03 691.18,296.59 689.35,297.57 691.06,298.23 688.79,299.25 692.10,299.76 689.72,300.79 691.02,301.48 689.57,302.43 691.60,303.06 689.41,304.07 691.45,304.70 689.24,305.71 691.88,306.29 689.31,307.33 692.01,307.90 690.21,308.88 690.45,309.57 693.00,308.84 690.00,307.88 692.89,307.17 690.73,306.25 692.61,305.50 689.96,304.55 693.23,303.86 689.77,302.88 692.20,302.15 690.55,301.24 693.40,300.53 690.42,299.57 693.41,298.87 690.85,297.93 692.31,297.16 690.05,296.23 692.68,295.51 690.60,294.59 692.88,293.85 690.65,292.92 693.55,292.78 690.68,290.67 694.15,291.09 693.81,289.62 691.41,290.51 693.57,291.24 691.97,292.09 694.79,292.80 692.23,293.69 694.11,294.43 691.87,295.31 694.00,296.04 691.76,296.91 694.58,297.62 692.59,298.49 694.97,299.21 692.67,300.09 694.74,300.83 692.37,301.71 694.10,302.45 692.77,303.30 695.23,304.02 691.91,304.93 694.60,305.64 691.97,306.53 695.30,307.23 691.86,308.14 694.80,308.85 692.73,309.72 694.84,310.45 691.90,311.35 695.16,312.01 692.36,312.97 695.39,313.61 692.78,314.56 695.12,315.23 692.32,316.19 694.76,316.86 692.39,317.79 694.63,318.47 692.89,319.37 694.46,320.09 694.01,320.92 694.66,321.69 694.01,322.53 694.52,323.30 694.10,324.13 694.73,324.90 694.19,325.73 694.64,326.51 694.38,327.33 694.95,328.10 694.46,328.93 694.89,329.71 694.34,330.55 695.17,331.30 694.40,332.15 695.05,332.92 694.77,333.74 695.32,334.51 694.66,335.37 695.28,336.16 694.93,337.00 695.38,337.80 694.94,338.65 695.51,339.44 694.78,340.30 695.47,341.09 695.15,341.93 695.70,342.72 695.22,343.57 695.63,344.37 695.20,345.21 695.95,346.00 695.31,346.85 695.82,347.65 695.35,348.50 695.86,349.30 695.45,350.14 696.11,350.93 695.55,351.78 696.22,352.57 695.68,353.42 696.08,354.22 695.62,355.07 696.27,355.86 695.61,356.71 696.24,357.50 695.74,358.35 696.50,359.14 695.95,360.03 696.56,360.76 696.26,361.71 697.14,362.38 696.69,363.36 697.44,364.06 697.01,365.04 697.87,365.72 697.48,366.68 698.13,367.44 697.70,368.30 698.33,369.10 697.65,369.97 698.55,370.76 697.84,371.62 698.43,372.43 698.02,373.28 698.60,374.09 697.95,374.95 698.57,375.75 698.04,376.61 698.89,377.40 698.22,378.27 698.95,379.07 698.29,379.93 698.94,380.73 698.24,381.60 698.88,382.37 698.64,383.30 699.51,383.97 699.12,384.94 699.69,385.69 699.38,386.63 700.21,387.32 699.72,388.31 700.65,388.96 700.09,389.96 700.73,390.70 700.61,391.59 701.07,392.36 700.83,393.27 701.40,394.02 701.13,394.94 701.92,395.65 701.57,396.58 702.32,397.29 701.83,398.26 702.69,398.95 702.20,399.96 703.07,400.57 702.81,401.64 703.63,402.28 703.40,403.33 704.22,403.97 704.21,404.89 704.82,405.64 704.35,406.60 705.21,407.29 704.94,408.21 705.48,408.96 705.74,409.88 705.14,408.96 705.79,408.20 705.35,407.30 706.09,406.55 705.64,405.65 706.31,404.89 705.87,403.99 706.69,403.25 705.93,402.31 706.88,401.58 706.20,400.65 706.31,399.89 706.90,400.69 706.62,401.54 707.22,402.34 706.53,403.21 707.26,404.00 706.74,404.87 707.25,405.67 706.66,406.54 707.43,407.33 707.04,408.19 707.48,408.99 707.04,409.85 707.50,410.66 706.95,411.53 707.86,412.31 707.11,413.19 707.68,413.99 707.33,414.84 707.82,415.65 707.34,416.51 708.15,417.30 707.43,418.17 708.24,418.96 708.08,419.83 707.83,419.00 708.20,418.23 707.69,417.39 708.55,416.65 707.91,415.80 708.48,415.04 707.93,414.20 708.56,413.44 708.21,412.61 708.65,411.84 708.13,411.00 708.89,410.26 708.31,409.41 709.14,408.67 708.49,407.82 709.31,407.08 708.55,406.22 709.41,405.48 708.61,404.62 709.27,403.87 708.80,403.03 709.43,402.28 709.05,401.44 709.59,400.68 708.96,399.84 709.61,399.07 709.23,398.23 709.72,397.45 709.15,396.61 709.93,395.84 709.34,394.99 710.04,394.22 709.41,393.38 710.07,392.60 709.61,391.76 710.30,390.99 709.62,390.14 710.43,389.38 709.84,388.53 710.52,387.76 709.80,386.91 710.52,386.14 709.99,385.30 710.62,384.52 710.19,383.68 710.56,382.89 710.21,382.06 710.67,381.28 710.39,380.45 710.95,379.67 710.27,378.82 711.01,378.05 710.53,377.21 711.14,376.44 710.43,375.58 711.20,374.82 710.71,373.98 711.28,373.20 710.75,372.36 711.28,371.58 710.92,370.74 711.56,369.96 710.84,369.13 711.63,368.34 711.04,367.52 711.47,366.72 710.98,365.90 711.46,365.10 711.10,364.28 711.66,363.49 711.09,362.67 711.82,361.88 711.11,361.05 711.79,360.26 711.16,359.43 711.88,358.65 711.28,357.82 711.69,357.02 711.13,356.20 711.99,355.41 711.45,354.59 711.82,353.79 711.47,352.97 712.04,352.18 711.55,351.36 711.89,350.56 711.49,349.74 711.94,348.94 711.61,348.12 712.11,347.33 711.68,346.51 712.04,345.71 711.71,344.89 712.16,344.10 711.74,343.27 712.27,342.48 711.78,341.66 712.29,340.87 711.93,340.05 712.50,339.25 711.76,338.42 712.44,337.63 712.04,336.81 712.41,336.02 711.81,335.19 712.53,334.40 712.08,333.58 712.69,332.79 711.91,331.96 712.52,331.17 712.08,330.34 712.71,329.56 712.26,328.73 712.70,327.94 712.17,327.11 712.88,326.33 712.24,325.49 712.93,324.71 712.38,323.87 712.83,323.08 712.56,322.26 713.14,321.48 712.36,320.63 713.22,319.86 712.68,319.03 713.25,318.24 712.72,317.41 713.18,316.62 712.77,315.79 713.41,315.01 712.65,314.17 713.47,313.39 712.85,312.55 713.57,311.77 712.96,310.94 713.52,310.15 712.90,309.32 713.48,308.53 713.05,307.70 713.51,306.91 712.99,306.08 713.60,305.29 713.27,304.47 713.70,303.68 713.18,302.85 713.88,302.07 713.28,301.23 714.02,300.45 714.01,299.56 713.59,300.49 714.22,301.24 713.88,302.15 714.41,302.92 714.16,303.81 714.63,304.59 714.37,305.48 715.16,306.21 714.55,307.12 715.08,307.91 714.73,308.72 715.28,309.52 714.68,310.34 715.15,311.14 714.86,311.95 715.36,312.74 714.74,313.57 715.25,314.36 714.73,315.18 715.35,315.97 714.84,316.79 715.48,317.58 714.96,318.41 715.66,319.19 714.99,320.02 715.54,320.81 714.98,321.63 715.71,322.42 714.89,323.25 715.73,324.04 715.07,324.86 715.76,325.65 715.09,326.48 715.88,327.26 715.02,328.09 715.86,328.88 715.31,329.70 715.85,330.49 715.28,331.31 715.78,332.11 715.22,332.93 715.82,333.72 715.28,334.55 715.97,335.35 715.46,336.21 716.12,337.01 715.44,337.88 716.30,338.67 715.44,339.54 716.32,340.33 715.76,341.19 716.36,342.00 715.77,342.86 716.53,343.65 715.86,344.52 716.43,345.32 716.08,346.18 716.55,346.98 716.00,347.85 716.58,348.65 716.56,349.50 716.12,348.67 716.59,347.87 716.26,347.05 716.75,346.24 716.25,345.42 716.80,344.61 716.23,343.79 716.81,342.99 716.40,342.16 716.73,341.35 716.30,340.53 717.07,339.73 716.43,338.90 716.92,338.10 716.46,337.27 717.08,336.48 716.44,335.64 717.14,334.85 716.64,334.02 716.97,333.21 716.62,332.39 717.09,331.59 716.60,330.76 717.13,329.96 716.46,329.13 717.19,328.33 716.62,327.50 717.40,326.71 716.64,325.87 717.32,325.08 716.62,324.24 717.28,323.45 716.91,322.62 717.52,321.82 716.80,320.99 717.44,320.19 716.99,319.37 717.53,318.56 716.93,317.73 717.54,316.94 717.00,316.11 717.67,315.31 717.01,314.48 717.51,313.68 716.89,312.85 717.53,312.05 717.13,311.22 717.65,310.42 716.94,309.58 717.58,308.79 717.24,307.97 717.85,307.17 717.34,306.34 717.79,305.54 717.17,304.71 717.94,303.92 717.22,303.08 717.80,302.29 717.24,301.46 717.93,300.66 717.32,299.83 718.02,299.04 717.35,298.20 718.08,297.41 717.60,296.58 718.03,295.78 717.58,294.95 718.05,294.16 717.74,293.33 718.37,292.54 717.67,291.70 718.42,290.91 717.85,290.08 718.35,289.28 717.81,288.45 718.29,287.65 717.93,286.83 718.60,286.04 717.84,285.20 718.52,284.40 717.93,283.57 718.69,282.78 717.87,281.94 718.66,281.15 718.21,280.32 718.80,279.53 718.23,278.70 718.65,277.90 718.29,277.07 718.79,276.27 718.21,275.44 718.83,274.65 718.30,273.82 718.79,273.02 718.27,272.17 719.00,271.39 718.53,270.52 719.23,269.74 718.47,268.84 719.39,268.08 718.59,267.18 719.25,266.39 718.91,265.53 719.51,264.74 719.08,263.87 719.73,263.09 719.01,262.19 719.68,261.41 719.27,260.54 719.19,259.74 720.07,260.53 719.40,261.37 719.86,262.17 719.44,262.99 720.04,263.79 719.38,264.62 719.98,265.42 719.58,266.24 720.27,267.04 719.71,267.87 720.20,268.67 719.73,269.49 720.28,270.29 719.67,271.12 720.38,271.92 719.77,272.75 720.41,273.54 719.81,274.37 720.19,275.18 719.90,276.00 720.24,276.80 719.85,277.63 720.57,278.42 719.90,279.25 720.53,280.05 720.05,280.88 720.51,281.68 719.93,282.51 720.43,283.31 719.96,284.13 720.58,284.93 720.09,285.76 720.74,286.55 720.01,287.39 720.56,288.18 720.24,289.01 720.58,289.81 720.24,290.63 720.81,291.43 720.06,292.27 720.96,293.06 720.13,293.89 720.74,294.69 720.20,295.52 720.98,296.31 720.34,297.14 721.09,297.94 720.34,298.77 720.85,299.57 720.49,300.39 720.88,301.19 720.40,302.02 721.07,302.82 720.35,303.65 720.91,304.45 720.65,305.27 721.25,306.07 720.61,306.89 721.06,307.70 720.45,308.52 721.04,309.32 720.50,310.15 721.32,310.95 720.61,311.77 721.26,312.57 720.82,313.40 721.30,314.20 720.66,315.03 721.38,315.83 720.72,316.65 721.21,317.46 720.85,318.28 721.41,319.08 720.92,319.90 721.27,320.71 720.90,321.53 721.52,322.33 720.84,323.16 721.41,323.96 720.74,324.78 721.51,325.58 721.00,326.41 721.54,327.21 720.84,328.04 721.51,328.84 721.01,329.66 721.61,330.46 720.86,331.29 721.66,332.09 721.15,332.91 721.68,333.71 721.60,334.59 721.35,333.52 722.22,332.76 721.99,331.69 722.08,330.81 722.65,331.60 722.14,332.44 722.90,333.22 722.26,334.07 722.92,334.86 722.41,335.71 722.89,336.50 722.42,337.34 723.06,338.13 722.60,338.97 723.22,339.76 722.60,340.61 723.18,341.40 722.76,342.24 723.42,343.02 722.64,343.88 723.53,344.66 722.93,345.51 723.35,346.30 722.90,347.15 723.42,347.94 722.91,348.78 723.71,349.56 723.16,350.41 723.72,351.20 723.14,352.05 723.72,352.84 723.33,353.68 724.00,354.41 723.43,355.36 724.25,356.04 723.92,356.94 724.44,357.68 724.19,358.57 724.70,359.32 724.38,360.22 725.18,360.91 724.60,361.86 725.48,362.53 724.92,363.48 725.77,364.16 725.35,365.08 726.02,365.79 725.68,366.70 725.69,367.40 726.50,366.66 726.19,365.77 726.67,364.99 726.33,364.10 726.96,363.34 726.44,362.43 727.12,361.67 726.52,360.75 727.42,360.02 726.99,359.12 727.40,358.33 727.71,357.42 727.18,358.36 727.97,359.09 727.49,360.02 728.06,360.78 727.78,361.68 728.58,362.40 728.01,363.35 728.61,364.10 728.43,364.98 729.11,365.75 728.47,366.65 729.04,367.43 728.58,368.32 729.45,369.07 728.70,369.99 729.52,370.74 728.88,371.65 729.52,372.42 729.16,373.30 729.91,374.06 729.36,374.96 729.87,375.75 729.36,376.64 730.21,377.39 729.80,378.27 730.17,379.07 729.79,379.95 730.62,380.71 729.94,381.61 730.75,382.33 730.35,383.28 730.99,384.01 730.66,384.94 731.25,385.69 731.00,386.60 731.62,387.34 731.37,388.26 732.02,388.99 731.51,389.92 732.33,390.69 731.60,391.59 732.21,392.37 731.71,393.25 732.49,394.02 731.82,394.91 732.60,395.69 732.22,396.55 732.80,397.34 732.32,398.22 733.02,399.00 732.34,399.89 733.13,400.66 732.49,401.55 733.08,402.35 732.54,403.18 733.28,403.95 732.69,404.79 733.23,405.57 732.78,406.39 733.45,407.17 732.92,408.00 733.35,408.78 732.92,409.61 733.59,410.39 733.13,411.21 733.55,412.00 732.93,412.84 733.63,413.61 733.07,414.44 733.72,415.22 733.37,416.04 733.86,416.82 733.20,417.66 734.03,418.43 733.54,419.26 734.09,420.04 733.44,420.88 734.10,421.65 733.51,422.48 734.19,423.26 733.74,424.09 734.32,424.86 733.84,425.69 734.28,426.48 734.49,427.34 733.88,426.42 734.59,425.67 734.05,424.76 734.80,424.00 734.36,423.11 735.02,422.34 734.68,421.46 735.17,420.67 734.88,419.79 735.58,419.04 734.82,418.10 735.67,417.39 735.32,416.45 736.07,415.74 735.62,414.78 736.38,414.07 735.84,413.10 736.65,412.40 736.14,411.43 736.88,410.71 736.44,409.77 737.28,409.06 736.76,408.11 737.66,407.42 737.20,406.48 737.82,405.73 737.46,404.81 738.01,404.05 737.59,403.12 738.49,402.42 738.00,401.48 738.74,400.75 738.98,399.77 738.64,400.74 739.24,401.47 738.86,402.44 739.71,403.12 739.34,404.09 740.04,404.85 739.64,405.66 740.20,406.46 739.63,407.27 740.32,408.06 739.49,408.89 740.36,409.67 739.71,410.49 740.25,411.29 739.80,412.10 740.23,412.90 739.84,413.71 740.31,414.51 739.60,415.32 740.42,416.11 739.81,416.93 740.30,417.73 739.67,418.54 740.26,419.34 739.73,420.15 740.55,420.94 740.00,421.76 740.61,422.55 739.85,423.37 740.46,424.16 739.95,424.98 740.56,425.77 739.95,426.59 740.68,427.38 739.87,428.20 740.54,428.99 740.18,429.80 740.71,430.60 740.01,431.42 740.70,432.21 740.22,433.02 740.55,433.82 739.99,434.64 740.68,435.43 740.16,436.25 740.90,437.04 740.28,437.85 740.82,438.65 740.35,439.46 740.83,440.26 740.17,441.08 740.74,441.87 740.19,442.69 741.02,443.48 740.20,444.30 741.00,445.09 740.20,445.91 741.01,446.70 740.36,447.51 741.07,448.30 740.31,449.13 741.04,449.92 740.38,450.73 740.93,451.53 740.52,452.34 741.01,453.14 740.38,453.95 741.19,454.74 740.59,455.56 741.28,456.35 740.70,457.17 741.02,457.97 740.65,458.78 741.06,459.58 740.48,460.39 741.18,461.18 740.69,462.00 741.37,462.79 740.68,463.61 741.33,464.40 740.74,465.22 741.31,466.01 740.61,466.83 741.28,467.62 741.37,468.44 740.81,467.62 741.30,466.82 740.96,466.00 741.46,465.21 740.80,464.38 741.48,463.59 741.08,462.77 741.69,461.98 741.10,461.16 741.72,460.36 741.18,459.54 741.69,458.75 741.19,457.92 741.61,457.13 741.15,456.30 741.82,455.52 741.19,454.69 741.76,453.90 741.25,453.07 741.83,452.28 741.33,451.46 742.02,450.67 741.41,449.84 741.80,449.05 741.34,448.22 741.92,447.43 741.33,446.61 741.87,445.81 741.39,444.99 742.02,444.20 741.36,443.37 742.04,442.58 741.56,441.76 742.09,440.97 741.58,440.14 742.13,439.35 741.58,438.53 742.21,437.74 741.62,436.91 742.22,436.12 741.74,435.30 742.35,434.50 741.70,433.68 742.43,432.89 741.84,432.06 742.30,431.27 741.99,430.45 742.36,429.65 742.01,428.83 742.42,428.04 741.91,427.21 742.52,426.42 741.88,425.60 742.53,424.81 742.13,423.99 742.56,423.21 742.21,422.40 742.76,421.61 742.12,420.79 742.67,420.01 742.09,419.19 742.86,418.41 742.26,417.59 742.88,416.81 742.24,415.99 742.88,415.21 742.46,414.40 742.90,413.61 742.24,412.79 742.95,412.01 742.38,411.19 742.91,410.41 742.39,409.59 743.20,408.82 742.56,408.00 743.09,407.21 742.56,406.40 743.10,405.61 742.71,404.80 743.11,404.01 742.60,403.20 743.27,402.42 742.57,401.59 743.46,400.82 742.64,400.00 743.50,399.22 742.70,398.40 743.26,397.61 742.97,396.80 743.61,396.02 742.78,395.20 743.54,394.42 742.91,393.60 743.53,392.82 743.02,392.00 743.49,391.22 743.02,390.40 743.58,389.62 743.20,388.81 743.81,388.02 743.11,387.20 743.86,386.42 743.24,385.61 743.81,384.82 743.30,384.01 743.94,383.22 743.76,382.36 743.45,383.33 744.28,384.00 743.96,384.96 744.55,385.70 744.33,386.64 744.51,387.38 745.25,386.62 744.70,385.79 745.14,385.01 744.76,384.18 745.42,383.41 744.87,382.58 745.46,381.81 745.02,380.98 745.37,380.20 744.90,379.37 745.59,378.60 745.18,377.77 745.68,377.00 745.01,376.16 745.74,375.39 745.22,374.56 745.84,373.79 745.32,372.96 745.81,372.18 745.29,371.35 746.07,370.59 745.55,369.75 746.06,368.98 745.69,368.15 746.35,367.39 745.57,366.54 746.27,365.78 745.74,364.92 746.46,364.19 746.04,363.34 746.47,362.57 746.05,361.71 746.69,360.97 746.28,360.12 746.82,359.37 746.63,358.53 747.05,357.77 746.61,356.91 747.37,356.18 746.68,355.29 747.56,354.58 747.59,353.65 747.49,354.72 748.34,355.47 747.97,356.64 748.96,357.46 748.45,358.29 749.04,359.06 748.40,359.90 748.93,360.67 748.51,361.50 748.98,362.28 748.55,363.11 749.11,363.88 748.60,364.71 749.19,365.48 748.69,366.32 749.42,367.08 748.77,367.92 749.61,368.68 748.99,369.51 749.61,370.28 749.05,371.12 749.77,371.88 749.00,372.73 749.82,373.49 749.16,374.33 749.75,375.10 749.16,375.94 750.06,376.69 749.23,377.54 749.95,378.30 749.36,379.14 750.15,379.90 749.45,380.76 750.29,381.51 749.68,382.36 750.27,383.14 749.68,383.99 750.46,384.75 749.87,385.60 750.64,386.36 750.14,387.21 750.48,388.00 750.11,388.83 750.61,389.61 750.10,390.46 750.72,391.23 750.20,392.08 750.87,392.84 750.54,393.68 751.14,394.45 750.48,395.31 751.14,396.08 750.61,396.92 751.29,397.69 750.61,398.55 751.39,399.31 750.84,400.16 751.48,400.93 750.99,401.77 751.66,402.54 751.19,403.38 751.77,404.16 751.04,405.02 751.90,405.77 751.27,406.63 751.88,407.40 751.52,408.23 751.90,409.02 751.49,409.86 752.27,410.61 751.51,411.47 752.17,412.23 751.67,413.07 752.49,413.82 751.88,414.67 752.63,415.42 752.10,416.27 752.60,417.03 752.12,417.88 752.84,418.63 752.27,419.48 752.83,420.24 752.26,421.09 752.99,421.84 752.53,422.68 753.06,423.45 752.63,424.29 753.34,425.04 752.79,425.89 753.45,426.64 752.88,427.49 753.37,428.26 752.85,429.11 753.58,429.86 753.11,430.70 753.91,431.44 753.34,432.30 753.78,433.10 753.51,433.96 753.97,434.75 753.47,435.64 754.25,436.41 753.89,437.28 754.34,438.08 753.91,438.96 754.48,439.74 754.14,440.61 754.87,441.38 754.26,442.28 754.83,443.06 754.38,443.95 754.96,444.73 754.57,445.61 755.29,446.37 754.87,447.26 755.42,448.04 754.97,448.92 755.65,449.66 755.13,450.63 756.03,451.31 755.46,452.29 756.14,453.02 755.93,453.93 756.63,454.65 756.07,455.63 756.77,456.35 756.52,457.23 757.05,458.00 756.59,458.83 757.32,459.59 756.65,460.44 757.37,461.20 756.67,462.04 757.31,462.81 756.81,463.64 757.43,464.41 756.94,465.24 757.57,466.01 756.97,466.85 757.55,467.62 757.01,468.45 757.63,469.22 757.26,470.05 757.94,470.81 757.14,471.66 757.88,472.43 757.24,473.27 757.86,474.03 757.33,474.87 758.00,475.63 757.70,476.46 758.27,477.23 757.75,478.06 758.35,478.83 757.90,479.71 758.60,480.41 758.64,481.43 759.11,482.13 759.66,481.35 759.24,480.45 759.95,479.70 759.40,478.79 760.23,478.04 759.50,477.11 760.19,476.35 759.68,475.44 760.62,474.72 760.00,473.80 760.72,473.04 760.71,472.14 760.43,473.04 761.00,473.80 760.74,474.70 761.40,475.44 760.98,476.37 761.72,477.10 761.18,478.04 762.02,478.76 761.91,479.73 761.82,478.64 762.86,478.12 763.34,477.08 763.02,478.04 763.77,478.74 763.38,479.72 764.20,480.40 763.74,481.39 764.08,482.13 764.55,481.33 764.01,480.46 764.58,479.66 764.17,478.80 764.86,478.01 764.26,477.13 764.91,476.35 764.45,475.48 765.08,474.69 764.48,473.81 765.07,473.02 764.68,472.15 765.25,471.36 764.77,470.49 765.37,469.69 765.01,468.83 765.48,468.03 764.91,467.16 765.64,466.37 765.04,465.49 765.87,464.71 765.33,463.87 765.90,463.08 765.49,462.25 766.10,461.47 765.38,460.62 765.92,459.83 765.49,459.00 766.12,458.21 765.53,457.37 766.14,456.59 765.53,455.74 766.33,454.97 765.88,454.13 766.47,453.35 765.70,452.50 766.39,451.72 765.84,450.87 766.64,450.10 765.87,449.25 766.48,448.47 765.96,447.63 766.61,446.84 766.05,446.00 766.83,445.23 766.24,444.38 766.98,443.61 766.22,442.76 767.09,441.99 766.25,441.13 767.04,440.36 766.40,439.51 767.15,438.73 766.59,437.89 767.18,437.11 766.63,436.27 767.17,435.48 766.79,434.65 767.45,433.87 766.69,433.01 767.49,432.24 766.82,431.39 767.51,430.61 766.94,429.76 767.66,428.98 767.23,428.11 767.71,427.31 767.05,426.43 767.75,425.64 767.33,424.78 767.83,423.98 767.51,423.12 768.18,422.33 767.70,421.46 768.29,420.67 767.58,419.79 768.43,419.01 767.87,418.14 768.57,417.35 767.95,416.47 768.54,415.68 767.89,414.80 768.69,414.02 768.09,413.14 768.67,412.34 768.42,411.49 768.82,410.68 768.49,409.83 769.10,409.03 768.55,408.16 769.25,407.37 768.52,406.49 769.11,405.70 768.61,404.83 769.25,404.04 768.77,403.17 769.28,402.37 768.78,401.50 769.61,400.72 768.96,399.85 769.68,399.06 769.14,398.19 769.61,397.38 769.25,396.53 769.91,395.73 769.28,394.86 769.82,394.06 769.48,393.20 769.46,392.40 769.93,393.18 769.69,394.00 770.16,394.78 769.75,395.60 770.38,396.37 769.84,397.20 770.43,397.98 769.72,398.82 770.38,399.59 769.89,400.42 770.68,401.18 769.95,402.02 770.58,402.79 769.93,403.63 770.63,404.40 770.02,405.23 770.74,406.00 770.28,406.83 770.83,407.60 770.30,408.43 771.09,409.19 770.37,410.04 770.96,410.81 770.37,411.65 771.22,412.40 770.61,413.24 771.35,414.00 771.16,414.83 770.71,414.01 771.45,413.23 770.72,412.39 771.49,411.62 771.02,410.79 771.50,410.00 771.03,409.17 771.61,408.39 771.06,407.55 771.64,406.77 771.09,405.94 771.75,405.16 771.05,404.32 771.73,403.54 771.32,402.72 771.77,401.93 771.45,401.11 772.06,400.32 771.27,399.48 771.90,398.70 771.51,397.88 772.22,397.10 771.43,396.25 772.32,395.49 771.46,394.64 772.18,393.86 771.83,393.04 772.23,392.25 771.76,391.42 772.23,390.63 771.91,389.81 772.45,389.03 771.85,388.19 772.06,387.43 772.55,388.20 772.28,389.10 772.82,389.87 772.62,390.75 773.10,391.53 772.69,392.45 773.62,393.15 773.20,394.07 773.14,394.71 774.26,394.23 774.01,393.07 774.53,392.49 775.50,393.04 775.42,394.12 776.12,394.84 775.76,395.82 776.59,396.49 776.19,397.48 777.17,398.11 776.87,399.07 777.35,399.76 777.63,400.91 778.70,401.42 778.88,402.38 779.62,403.17 779.12,404.04 779.67,404.83 779.24,405.70 779.91,406.49 779.22,407.37 779.96,408.15 779.33,409.03 779.87,409.83 779.36,410.70 780.21,411.48 779.59,412.35 780.26,413.14 779.71,414.01 780.42,414.80 779.81,415.68 780.38,416.47 779.92,417.33 780.46,418.12 780.16,418.95 780.63,419.74 779.96,420.58 780.77,421.35 780.24,422.19 780.77,422.98 780.20,423.82 780.87,424.60 780.31,425.44 780.92,426.22 780.32,427.06 781.12,427.83 780.44,428.68 781.16,429.46 780.47,430.30 781.03,431.09 780.67,431.92 781.16,432.71 780.72,433.54 781.29,434.32 780.81,435.16 781.53,435.94 780.75,436.78 781.40,437.57 780.84,438.40 781.65,439.18 781.08,440.02 781.64,440.80 780.90,441.65 781.63,442.43 781.00,443.27 781.84,444.04 781.25,444.88 781.71,445.67 781.18,446.51 781.87,447.29 781.39,448.12 781.96,448.91 781.35,449.75 782.17,450.51 781.38,451.36 782.22,452.12 781.70,452.95 782.19,453.73 781.84,454.55 782.22,455.33 781.83,456.16 782.31,456.94 781.87,457.76 782.38,458.54 781.91,459.37 782.56,460.14 782.13,460.96 782.73,461.73 782.19,462.57 782.61,463.35 782.12,464.18 782.93,464.94 782.19,465.78 782.88,466.55 782.48,467.38 783.09,468.15 782.60,468.98 783.27,469.74 782.53,470.59 783.22,471.35 783.11,472.18 782.80,471.32 783.36,470.53 782.72,469.64 783.41,468.86 782.97,467.99 783.52,467.20 782.99,466.32 783.86,465.55 783.17,464.66 784.00,463.89 783.50,463.02 783.97,462.22 783.68,461.36 784.20,460.56 784.12,459.67 783.93,460.58 784.48,461.33 784.04,462.28 785.00,462.96 784.57,463.91 785.39,464.64 784.88,465.55 785.34,466.33 785.01,467.22 785.76,467.97 785.31,468.87 785.96,469.63 785.38,470.55 786.17,471.29 785.65,472.20 786.14,472.99 785.93,473.86 786.56,474.59 786.08,475.55 786.90,476.25 786.51,477.20 787.09,477.95 786.84,478.86 786.80,479.60 787.66,478.87 787.22,477.97 787.87,477.20 787.47,476.31 788.00,475.53 787.61,474.64 788.30,473.88 787.67,472.96 788.48,472.22 788.04,471.32 788.49,470.53 788.75,469.53 788.55,470.67 789.40,471.28 789.35,472.38 790.55,472.79 790.48,473.96 790.89,474.63 791.64,473.88 790.99,472.95 791.86,472.22 791.34,471.30 792.12,470.56 791.57,469.64 792.11,468.87 791.77,467.98 792.45,467.20 791.97,466.37 792.50,465.57 792.07,464.74 792.54,463.95 791.96,463.11 792.77,462.33 792.11,461.49 792.82,460.71 792.27,459.87 792.77,459.08 792.14,458.24 792.91,457.46 792.31,456.62 792.78,455.83 792.18,454.99 792.98,454.21 792.34,453.37 792.95,452.58 792.57,451.76 793.08,450.96 792.53,450.13 793.24,449.34 792.51,448.50 793.25,447.72 792.60,446.88 793.31,446.09 792.79,445.26 793.45,444.47 792.71,443.63 793.38,442.84 792.89,442.01 793.28,441.22 792.79,440.38 793.54,439.60 792.86,438.76 793.44,437.97 792.97,437.14 793.66,436.35 792.98,435.51 793.77,434.73 793.21,433.90 793.78,433.10 793.29,432.27 793.80,431.48 793.19,430.65 793.68,429.85 793.29,429.03 793.93,428.24 793.21,427.40 793.81,426.61 793.39,425.79 794.10,425.00 793.57,424.17 794.19,423.38 793.38,422.54 794.08,421.75 793.67,420.93 794.08,420.13 793.73,419.31 794.23,418.51 793.64,417.68 794.45,416.90 793.75,416.06 794.52,415.28 793.85,414.44 794.49,413.66 794.05,412.83 794.48,412.03 794.10,411.21 794.45,410.41 793.92,409.58 794.51,408.79 794.14,407.96 794.70,407.17 794.13,406.34 794.61,405.54 794.32,404.72 794.87,403.93 794.29,403.10 794.75,402.30 794.33,401.48 794.90,400.69 794.23,399.83 794.89,399.07 794.62,398.24 795.03,397.47 794.63,396.62 795.44,395.88 794.69,395.01 795.30,394.25 794.89,393.41 795.51,392.65 794.88,391.79 795.74,391.05 795.13,390.19 795.73,389.43 795.31,388.58 795.94,387.83 795.46,386.98 796.08,386.22 795.67,385.38 796.17,384.61 795.52,383.74 796.29,383.00 795.80,382.15 796.53,381.40 795.83,380.53 796.65,379.79 796.10,378.93 796.77,378.18 796.28,377.33 796.87,376.57 796.47,375.73 796.87,374.95 796.55,374.09 797.06,373.29 796.52,372.41 797.09,371.62 796.61,370.74 797.25,369.96 796.73,369.08 797.66,368.32 796.97,367.43 797.77,366.66 797.01,365.76 797.78,364.98 797.17,364.10 797.79,363.31 797.33,362.43 798.12,361.66 797.47,360.77 798.10,359.98 797.81,359.16 798.31,358.39 797.73,357.55 798.46,356.79 797.96,355.96 798.51,355.19 797.80,354.34 798.50,353.58 797.94,352.74 798.82,351.99 798.08,351.15 798.75,350.38 798.25,349.55 798.85,348.78 798.44,347.95 798.81,347.17 798.48,346.35 798.94,345.57 798.38,344.74 799.09,343.97 798.48,343.13 799.24,342.38 798.56,341.53 799.44,340.78 798.71,339.93 799.39,339.17 798.95,338.34 799.52,337.57 799.02,336.74 799.69,335.97 799.20,335.14 799.73,334.37 799.20,333.54 799.75,332.76 799.22,331.93 800.02,331.17 799.17,330.32 799.91,329.61 799.45,328.61 800.50,327.99 800.00,326.98 800.80,326.30 800.51,325.34 801.30,324.59 800.68,323.71 801.41,322.92 800.67,322.04 801.48,321.26 800.86,320.38 801.58,319.59 801.15,318.73 801.67,317.93 801.29,317.07 801.70,316.26 801.12,315.39 801.88,314.60 801.51,313.74 802.02,312.94 801.65,312.08 802.19,311.28 801.72,310.42 802.18,309.61 801.71,308.74 802.53,307.97 802.02,307.10 802.57,306.33 801.95,305.48 802.61,304.72 802.11,303.88 802.56,303.11 802.23,302.28 802.83,301.52 802.35,300.68 803.09,299.92 802.45,299.08 803.15,298.32 802.41,297.46 803.24,296.71 802.74,295.65 803.95,295.50 805.05,294.62 804.53,295.45 804.95,296.23 804.65,297.05 805.12,297.83 804.60,298.66 805.36,299.42 804.54,300.27 805.27,301.04 804.76,301.87 805.27,302.64 804.77,303.48 805.49,304.24 805.04,305.07 805.69,305.84 805.17,306.67 805.56,307.45 805.12,308.28 805.90,309.04 805.32,309.88 805.76,310.66 805.20,311.49 805.87,312.26 805.25,313.10 805.86,313.87 805.56,314.69 806.04,315.46 805.45,316.30 806.07,317.07 805.61,317.94 806.43,318.71 805.64,319.60 806.52,320.38 806.05,321.25 806.54,322.05 806.11,322.91 806.55,323.72 806.22,324.57 806.86,325.36 806.24,326.24 806.79,327.04 806.45,327.90 806.89,328.70 806.36,329.58 807.22,330.35 806.63,331.23 807.40,332.01 806.59,332.90 807.29,333.69 806.93,334.54 807.37,335.33 806.86,336.16 807.54,336.95 806.95,337.77 807.65,338.56 806.99,339.39 807.55,340.18 807.00,341.01 807.80,341.79 807.24,342.62 807.71,343.41 807.27,344.23 807.84,345.03 807.22,345.85 807.92,346.64 807.20,347.47 808.01,348.26 807.28,349.09 807.94,349.87 807.20,350.71 808.06,351.49 807.45,352.32 807.89,353.11 807.32,353.94 807.92,354.73 807.37,355.55 808.25,356.34 807.50,357.17 808.30,357.95 807.57,358.78 808.29,359.57 807.62,360.40 808.17,361.19 807.83,362.01 808.39,362.80 807.77,363.63 808.24,364.42 807.78,365.25 808.34,366.04 807.93,366.86 808.58,367.65 807.86,368.48 808.59,369.27 807.85,370.10 808.54,370.88 808.02,371.71 808.59,372.50 808.10,373.32 808.75,374.11 807.98,374.95 808.66,375.73 808.11,376.56 808.72,377.34 808.42,378.16 808.94,378.94 808.25,379.78 808.91,380.55 808.27,381.39 809.12,382.15 808.56,382.99 809.21,383.76 808.47,384.60 809.09,385.38 808.53,386.21 809.27,386.98 808.82,387.81 809.33,388.59 808.82,389.43 809.46,390.20 808.97,391.03 809.39,391.82 808.94,392.64 809.68,393.41 809.00,394.25 809.66,395.03 809.03,395.87 809.62,396.64 809.34,397.46 809.70,398.25 809.29,399.08 809.94,399.83 809.54,400.72 810.15,401.49 809.82,402.38 810.20,403.17 809.72,404.08 810.67,404.80 810.21,405.70 810.81,406.47 810.28,407.38 810.98,408.14 810.39,409.06 811.22,409.78 810.60,410.74 811.51,411.44 810.88,412.40 811.61,413.14 811.19,414.06 811.95,414.79 811.44,415.73 812.37,416.43 811.71,417.43 812.70,418.06 812.30,419.04 813.05,419.74 812.59,420.74 813.32,421.44 813.13,422.48 814.22,422.96 814.25,424.18 815.36,424.75 814.97,425.69 815.82,426.39 815.37,427.34 816.13,428.06 815.54,429.04 816.37,429.74 815.99,430.68 816.74,431.39 816.29,432.51 817.38,432.98 817.60,434.07 818.62,434.73 818.18,435.66 818.84,436.40 818.37,437.34 819.24,438.05 818.73,438.99 819.50,439.71 819.24,440.62 819.78,441.38 819.36,442.31 819.98,443.06 819.53,443.99 819.79,444.72 820.45,443.97 820.09,443.14 820.50,442.37 820.11,441.54 820.75,440.78 820.28,439.94 820.82,439.18 820.37,438.35 820.96,437.59 820.36,436.74 821.07,435.99 820.46,435.14 821.22,434.40 820.79,433.56 821.35,432.80 820.78,431.96 821.50,431.21 820.76,430.35 821.49,429.61 820.91,428.76 821.57,428.01 821.09,427.17 821.62,426.41 821.15,425.57 821.88,424.82 821.40,423.98 822.04,423.23 821.57,422.38 822.09,421.63 821.60,420.78 822.36,420.04 821.94,419.20 822.39,418.44 821.81,417.58 822.53,416.84 822.15,416.00 822.76,415.25 822.26,414.41 823.02,413.67 822.21,412.79 822.90,412.05 822.59,411.22 823.05,410.45 822.66,409.62 823.23,408.86 822.73,408.01 823.56,407.28 823.06,406.44 823.43,405.66 823.19,404.81 823.79,404.08 823.60,403.15 824.24,402.43 823.94,401.47 824.74,400.79 824.16,399.84 825.09,399.09 824.42,398.25 825.07,397.48 824.60,396.65 825.15,395.88 824.45,395.03 825.32,394.28 824.78,393.45 825.19,392.66 824.63,391.83 825.44,391.07 824.76,390.23 825.33,389.46 824.89,388.63 825.41,387.85 824.95,387.02 825.74,386.26 825.16,385.43 825.58,384.65 825.12,383.82 825.98,383.06 825.25,382.22 825.87,381.45 825.43,380.62 826.10,379.85 825.32,379.00 826.05,378.24 825.64,377.41 826.38,376.64 825.74,375.74 826.37,374.96 825.95,374.08 826.62,373.31 825.90,372.40 826.71,371.64 826.11,370.74 826.85,369.97 826.41,369.09 827.15,368.32 826.40,367.41 827.30,366.66 826.65,365.76 827.49,364.98 826.70,364.14 827.59,363.38 826.88,362.55 827.47,361.77 827.11,360.95 827.58,360.17 827.06,359.35 827.48,358.57 826.93,357.74 827.64,356.97 827.01,356.14 827.61,355.37 827.25,354.55 827.91,353.78 827.21,352.95 827.94,352.17 827.33,351.35 827.82,350.57 827.29,349.75 828.09,348.98 827.46,348.15 828.09,347.37 827.42,346.55 827.55,345.77 828.15,346.56 827.61,347.40 828.30,348.19 827.59,349.03 828.23,349.82 827.64,350.65 828.30,351.45 827.73,352.28 828.36,353.07 827.72,353.91 828.60,354.69 827.82,355.53 828.48,356.32 828.01,357.16 828.56,357.95 827.99,358.79 828.49,359.58 828.07,360.41 828.83,361.20 828.28,362.03 828.88,362.83 828.18,363.67 828.97,364.45 828.19,365.29 828.94,366.08 828.24,366.92 828.91,367.71 828.50,368.54 829.11,369.33 828.32,370.18 829.12,370.96 828.59,371.79 829.11,372.59 828.55,373.42 829.13,374.22 828.62,375.05 829.22,375.84 828.52,376.68 829.33,377.47 828.59,378.31 829.48,379.09 829.28,379.95 828.86,379.02 829.63,378.30 829.21,377.37 829.98,376.65 829.45,375.70 830.19,374.97 829.76,374.04 830.50,373.31 830.02,372.37 830.83,371.66 830.35,370.72 831.28,370.00 830.71,369.09 831.18,368.30 830.73,367.40 831.55,366.66 831.02,365.75 831.85,365.01 831.15,364.08 831.92,363.33 831.33,362.41 832.13,361.67 831.61,360.76 831.68,360.00 832.38,360.79 831.92,361.65 832.49,362.45 832.04,363.31 832.60,364.11 831.99,364.99 832.60,365.78 832.05,366.65 832.93,367.43 832.29,368.30 832.99,369.09 832.47,369.96 833.13,370.75 832.40,371.63 833.11,372.42 832.62,373.29 833.17,374.09 832.80,374.95 833.47,375.74 832.78,376.62 833.45,377.41 832.89,378.28 833.47,379.08 833.19,379.94 833.71,380.71 833.29,381.63 833.93,382.38 833.58,383.29 834.25,384.04 833.94,384.94 834.66,385.68 834.19,386.61 834.94,387.38 834.25,388.23 834.92,389.00 834.57,389.83 835.16,390.61 834.50,391.46 835.17,392.23 834.55,393.08 835.26,393.85 834.58,394.70 835.18,395.48 834.65,396.32 835.47,397.08 834.92,397.93 835.65,398.70 834.86,399.55 835.65,400.32 835.24,401.15 835.75,401.94 835.20,402.78 835.83,403.55 835.17,404.40 835.79,405.18 835.26,406.02 835.94,406.79 835.54,407.63 835.95,408.42 835.68,409.24 836.11,410.03 835.64,410.87 836.42,411.63 835.85,412.48 836.31,413.26 835.88,414.10 836.51,414.87 835.98,415.72 836.62,416.49 836.14,417.33 836.51,418.11 836.09,418.94 836.81,419.70 836.32,420.54 836.69,421.32 836.24,422.15 836.78,422.92 836.25,423.75 837.07,424.51 836.58,425.34 837.07,426.12 836.70,426.95 837.06,427.73 836.70,428.55 837.40,429.32 836.61,430.17 837.45,430.92 836.78,431.76 837.48,432.53 836.91,433.36 837.59,434.13 837.01,434.97 837.60,435.74 836.99,436.58 837.66,437.34 837.21,438.17 837.87,438.94 837.14,439.89 838.05,440.52 837.80,441.50 838.56,442.18 838.37,443.14 839.05,443.84 838.68,444.78 839.34,445.56 838.94,446.44 839.53,447.22 839.08,448.10 839.85,448.86 839.39,449.75 839.93,450.54 839.53,451.41 840.15,452.19 839.54,453.09 840.18,453.87 839.85,454.74 840.37,455.53 839.99,456.41 840.72,457.18 839.96,458.07 840.81,458.85 840.23,459.72 840.82,460.52 840.41,461.38 840.94,462.18 840.29,463.06 840.95,463.85 840.58,464.71 841.10,465.51 840.56,466.38 841.25,467.17 840.79,468.04 841.29,468.84 840.85,469.70 841.55,470.49 840.93,471.37 841.74,472.15 841.07,473.03 841.71,473.82 841.34,474.70 842.02,475.44 841.70,476.35 842.41,477.09 841.78,478.05 842.57,478.77 842.18,479.70 842.73,480.46 842.41,481.37 843.24,482.08 842.84,483.01 843.32,483.78 843.01,484.84 844.11,485.31 844.15,486.52 845.31,487.09 844.73,488.03 845.70,488.73 845.18,489.66 845.84,490.41 845.35,491.34 846.07,492.08 845.53,493.01 846.40,493.73 845.78,494.67 846.50,495.41 846.13,496.32 846.83,497.01 846.55,498.14 847.30,498.93 847.10,500.03 847.51,500.84 848.00,500.04 847.44,499.21 848.18,498.42 847.53,497.59 848.29,496.80 847.62,495.97 848.40,495.18 847.86,494.35 848.28,493.55 847.88,492.73 848.43,491.93 847.92,491.10 848.29,490.30 848.00,489.48 848.39,488.68 847.93,487.85 848.54,487.06 848.00,486.23 848.45,485.44 848.04,484.61 848.58,483.82 848.23,482.99 848.58,482.19 848.27,481.37 848.74,480.57 848.32,479.75 848.82,478.95 848.38,478.12 848.96,477.33 848.21,476.49 848.88,475.70 848.52,474.88 849.14,474.09 848.57,473.26 849.10,472.46 848.41,471.63 849.10,470.84 848.42,470.00 849.05,469.21 848.53,468.38 849.34,467.60 848.53,466.76 849.38,465.97 848.73,465.14 849.33,464.35 848.66,463.51 849.34,462.72 848.90,461.90 849.29,461.10 848.97,460.27 849.38,459.47 848.80,458.64 849.49,457.85 849.04,457.03 849.75,456.24 848.99,455.40 849.64,454.61 849.23,453.78 849.67,452.99 849.22,452.16 849.91,451.37 849.24,450.54 849.97,449.75 849.35,448.92 849.76,448.13 849.24,447.30 849.85,446.52 849.35,445.69 850.10,444.92 849.59,444.09 850.25,443.32 849.62,442.48 850.38,441.71 849.66,440.87 850.45,440.10 849.63,439.26 850.35,438.49 849.78,437.65 850.54,436.88 849.88,436.04 850.40,435.26 849.95,434.43 850.71,433.67 850.18,432.83 850.58,432.05 850.30,431.23 850.80,430.45 850.37,429.62 850.98,428.84 850.35,428.00 851.11,427.23 850.33,426.39 851.01,425.62 850.59,424.76 851.24,424.03 850.85,423.06 851.76,422.40 851.15,421.38 851.98,420.70 851.80,419.78 852.47,419.06 851.99,418.07 852.86,417.34 852.19,416.49 853.02,415.74 852.35,414.89 853.13,414.14 852.62,413.30 853.28,412.54 852.55,411.69 853.12,410.92 852.82,410.09 853.40,409.33 852.88,408.49 853.59,407.73 853.00,406.89 853.56,406.12 853.03,405.28 853.81,404.53 853.20,403.68 853.90,402.92 853.18,402.07 853.91,401.31 853.21,400.46 854.11,399.72 853.38,398.86 854.11,398.11 853.71,397.27 854.12,396.50 853.63,395.66 854.19,394.89 853.74,394.03 854.38,393.23 853.93,392.37 854.64,391.58 853.90,390.70 854.72,389.92 854.13,389.04 854.77,388.25 854.07,387.37 855.00,386.60 854.30,385.72 854.84,384.92 854.32,384.05 854.95,383.25 854.68,382.40 855.25,381.60 854.77,380.74 855.39,379.95 854.73,379.10 855.32,378.34 854.78,377.49 855.71,376.76 854.98,375.90 855.82,375.17 855.05,374.31 855.78,373.56 855.16,372.71 856.05,371.97 855.32,371.12 855.90,370.36 855.54,369.53 856.21,368.78 855.67,367.93 856.16,367.17 855.76,366.34 856.27,365.57 855.87,364.74 856.38,363.98 855.91,363.14 856.54,362.38 855.97,361.54 856.62,360.78 856.20,359.86 857.12,359.25 856.91,358.25 857.70,357.59 857.39,356.55 858.28,355.93 858.07,354.94 858.74,354.22 858.29,353.23 859.20,352.57 858.88,351.61 859.53,350.89 859.92,349.97 859.41,350.84 859.89,351.64 859.37,352.51 859.98,353.31 859.63,354.16 859.99,354.98 859.47,355.84 860.20,356.63 859.75,357.49 860.30,358.29 859.93,359.15 860.29,359.96 859.79,360.83 860.61,361.61 860.09,362.48 860.57,363.28 860.23,364.14 860.68,364.95 860.19,365.81 860.92,366.60 860.30,367.47 861.05,368.26 860.25,369.14 860.44,369.92 860.98,369.13 860.74,368.27 861.35,367.49 860.91,366.60 861.58,365.83 861.10,364.94 861.49,364.14 860.97,363.25 861.76,362.49 861.28,361.60 861.99,360.84 861.58,359.96 862.07,359.17 861.67,358.29 861.63,357.50 862.42,358.26 861.73,359.10 862.32,359.87 861.90,360.70 862.64,361.46 862.08,362.30 862.56,363.08 862.03,363.91 862.85,364.67 862.30,365.50 862.84,366.28 862.25,367.11 862.88,367.88 862.22,368.72 862.83,369.49 862.39,370.32 862.99,371.09 862.43,371.93 863.20,372.69 862.62,373.52 863.12,374.30 862.60,375.13 863.38,375.89 862.76,376.73 863.48,377.50 862.72,378.34 863.41,379.11 862.89,379.93 863.67,380.72 863.09,381.55 863.76,382.33 863.14,383.17 863.84,383.95 863.11,384.79 863.91,385.58 863.08,386.42 863.91,387.20 863.31,388.03 863.87,388.82 863.30,389.66 864.04,390.44 863.42,391.27 864.13,392.06 863.54,392.89 864.07,393.68 863.63,394.51 864.03,395.31 863.64,396.14 864.05,396.93 863.62,397.76 864.29,398.54 863.73,399.38 864.41,400.16 863.75,401.00 864.44,401.79 863.96,402.62 864.39,403.41 864.04,404.24 864.40,405.03 863.84,405.87 864.45,406.65 863.98,407.48 864.59,408.27 864.02,409.11 864.81,409.89 864.03,410.73 864.90,411.51 864.05,412.36 864.80,413.15 864.15,414.02 865.02,414.80 864.48,415.67 864.99,416.47 864.50,417.34 865.26,418.13 864.74,418.99 865.37,419.79 864.67,420.67 865.38,421.46 864.85,422.32 865.42,423.12 864.96,423.98 865.63,424.78 865.05,425.65 865.73,426.44 865.02,427.32 865.64,428.11 865.39,428.96 866.01,429.76 865.44,430.63 866.08,431.42 865.48,432.30 866.00,433.10 865.72,433.95 866.19,434.75 865.65,435.63 866.19,436.42 865.96,437.28 866.38,438.08 865.80,438.96 866.64,439.73 866.12,440.61 866.65,441.40 866.19,442.27 866.87,443.06 866.35,443.93 866.88,444.73 866.40,445.60 866.96,446.39 866.54,447.26 867.24,448.04 866.63,448.92 867.13,449.69 866.97,450.63 867.73,451.31 867.45,452.28 868.12,452.99 867.79,453.97 868.56,454.66 868.35,455.60 869.16,456.28 868.83,457.25 869.58,457.95 869.21,458.91 869.86,459.64 869.46,460.61 870.21,461.31 869.82,462.27 870.74,462.94 870.30,463.92 870.88,464.67 870.65,465.55 871.37,466.30 870.75,467.23 871.56,467.97 871.05,468.88 871.66,469.65 871.19,470.56 871.97,471.30 871.35,472.23 872.07,472.98 871.76,473.87 872.47,474.62 871.82,475.56 872.63,476.29 872.09,477.21 872.75,477.97 872.36,478.87 873.04,479.62 872.56,480.53 873.25,481.28 872.94,482.17 873.46,482.95 873.00,483.86 873.82,484.59 873.16,485.53 873.95,486.27 873.65,487.15 874.30,487.91 873.81,488.82 874.49,489.58 873.96,490.50 874.63,491.25 874.32,492.14 874.77,492.90 874.30,493.79 875.04,494.52 874.45,495.41 875.35,496.12 874.76,497.02 875.61,497.74 875.13,498.62 875.62,499.38 875.16,500.26 875.71,501.01 875.26,501.89 875.94,502.63 875.55,503.50 876.18,504.25 875.81,505.12 876.44,505.86 876.04,506.73 876.55,507.49 876.81,508.34 876.16,507.50 876.68,506.71 876.11,505.88 876.75,505.10 876.41,504.27 876.87,503.48 876.43,502.65 876.99,501.86 876.32,501.03 876.93,500.24 876.48,499.41 877.16,498.63 876.64,497.80 877.14,497.01 876.64,496.18 877.36,495.39 876.60,494.55 877.30,493.77 876.89,492.94 877.32,492.15 876.71,491.32 877.41,490.53 876.91,489.70 877.53,488.92 877.08,488.09 877.60,487.30 876.94,486.46 877.49,485.67 877.08,484.85 877.78,484.06 877.19,483.23 877.74,482.44 877.23,481.61 877.81,480.82 877.27,479.99 877.81,479.20 877.17,478.37 877.98,477.59 877.21,476.75 877.93,475.97 877.43,475.14 878.00,474.35 877.37,473.51 878.06,472.73 877.49,471.90 878.06,471.11 877.59,470.28 878.15,469.49 877.54,468.66 878.24,467.87 877.59,467.04 878.37,466.26 877.84,465.43 878.42,464.64 877.72,463.80 878.53,463.02 877.81,462.18 878.56,461.40 877.96,460.56 878.51,459.77 877.97,458.93 878.74,458.16 878.11,457.31 878.72,456.53 878.16,455.69 878.87,454.91 878.38,454.07 879.10,453.29 878.31,452.44 879.08,451.66 878.37,450.81 879.17,450.04 878.60,449.20 879.33,448.42 878.52,447.57 879.32,446.79 878.75,445.95 879.35,445.17 878.95,444.33 879.55,443.55 878.78,442.70 879.54,441.92 878.98,441.08 879.69,440.30 879.20,439.46 879.64,438.67 879.21,437.84 879.79,437.05 879.26,436.21 879.87,435.43 879.17,434.58 879.89,433.80 879.50,432.97 879.85,432.17 879.35,431.33 880.07,430.55 879.56,429.71 880.01,428.92 879.74,428.10 880.09,427.30 879.57,426.46 880.18,425.68 879.83,424.85 880.38,424.06 879.82,423.23 880.38,422.44 879.87,421.61 880.59,420.83 879.84,419.98 880.49,419.20 880.13,418.37 880.57,417.58 880.21,416.75 880.68,415.96 880.37,415.13 880.94,414.35 880.37,413.51 880.99,412.72 880.27,411.88 881.08,411.10 880.59,410.27 881.09,409.48 880.41,408.64 881.18,407.86 880.56,407.02 881.19,406.24 880.57,405.40 881.30,404.62 880.79,403.78 881.36,403.00 880.83,402.16 881.34,401.37 880.84,400.54 881.62,399.76 880.92,398.92 881.44,398.13 881.07,397.30 881.75,396.52 881.23,395.68 881.74,394.91 881.20,394.01 881.94,393.25 881.50,392.36 881.97,391.57 881.58,390.68 882.21,389.91 881.80,389.02 882.52,388.27 881.96,387.36 882.59,386.59 882.07,385.69 882.98,384.95 882.30,384.03 883.00,383.27 882.54,382.37 883.25,381.61 882.74,380.71 883.55,379.96 883.01,379.06 883.79,378.30 883.17,377.40 883.81,376.62 883.25,375.73 883.87,374.95 883.36,374.06 884.10,373.29 883.53,372.40 884.20,371.63 883.93,370.76 884.51,369.98 884.06,369.09 884.63,368.31 884.24,367.43 884.88,366.66 884.24,365.75 885.04,364.99 884.60,364.11 885.00,363.31 884.62,362.44 885.18,361.66 884.74,360.80 885.48,360.04 884.83,359.15 885.73,358.41 885.08,357.52 885.89,356.78 885.28,355.89 885.88,355.13 885.58,354.27 886.17,353.50 885.55,352.62 886.31,351.86 885.76,350.98 886.41,350.22 885.79,349.33 886.55,348.58 886.20,347.72 886.89,346.96 886.16,346.07 887.03,345.33 886.25,344.42 887.04,343.68 886.67,342.81 887.22,342.05 886.75,341.15 887.40,340.38 886.86,339.47 887.56,338.71 887.01,337.80 887.76,337.05 887.44,336.17 888.16,335.41 887.66,334.51 888.33,333.75 887.86,332.84 887.92,332.09 888.63,332.87 888.33,333.86 889.10,334.63 888.47,335.69 889.49,336.41 889.07,337.42 889.53,338.17 889.86,339.09 891.04,339.50 890.41,340.35 891.19,341.12 890.35,341.98 891.19,342.75 890.67,343.59 891.19,344.37 890.81,345.21 891.27,346.00 890.68,346.84 891.33,347.62 890.94,348.46 891.48,349.24 890.80,350.09 891.60,350.86 891.14,351.70 891.62,352.49 891.18,353.33 891.82,354.11 891.21,354.95 891.79,355.74 891.15,356.58 891.83,357.36 891.37,358.20 892.13,358.97 891.50,359.82 892.08,360.60 891.47,361.45 892.10,362.23 891.57,363.07 892.21,363.85 891.59,364.70 892.33,365.47 891.70,366.32 892.42,367.09 891.80,367.94 892.45,368.72 892.05,369.56 892.53,370.34 892.08,371.18 892.50,371.97 892.03,372.81 892.75,373.59 892.20,374.43 892.89,375.21 892.42,376.05 892.79,376.84 892.30,377.68 892.85,378.47 892.33,379.31 893.08,380.08 892.39,380.93 893.27,381.70 892.65,382.54 893.20,383.33 892.73,384.17 893.42,384.95 892.80,385.79 893.48,386.57 892.72,387.42 893.57,388.19 892.94,389.03 893.64,389.81 893.01,390.65 893.65,391.43 893.10,392.26 893.83,393.04 892.99,393.89 893.78,394.66 893.19,395.50 893.70,396.29 893.26,397.12 894.03,397.89 893.43,398.73 894.05,399.51 893.49,400.35 894.10,401.13 893.55,401.96 894.13,402.75 893.46,403.59 894.02,404.38 893.51,405.21 894.24,405.99 893.76,406.82 894.24,407.61 893.73,408.44 894.44,409.22 893.92,410.05 894.30,410.84 893.97,411.67 894.54,412.45 893.98,413.29 894.65,414.07 893.95,414.91 894.60,415.69 894.06,416.52 894.59,417.30 894.17,418.18 894.92,418.95 894.45,419.83 895.09,420.61 894.65,421.49 895.35,422.26 894.69,423.17 895.50,423.93 894.82,424.83 895.44,425.61 894.96,426.50 895.74,427.26 895.24,428.15 895.93,428.92 895.29,429.85 896.14,430.56 895.74,431.48 896.51,432.21 895.80,433.18 896.62,433.90 896.07,434.84 897.07,435.53 896.53,436.48 896.71,437.23 897.25,436.47 896.90,435.56 897.50,434.80 897.25,433.91 897.96,433.17 897.60,432.26 898.20,431.50 897.75,430.57 897.80,429.82 898.45,430.60 898.03,431.48 898.60,432.26 898.35,433.12 898.97,433.90 898.40,434.80 898.96,435.58 898.39,436.48 899.15,437.24 898.68,438.13 899.24,438.91 898.89,439.79 899.64,440.55 898.92,441.46 899.01,442.21 899.90,441.46 899.36,440.57 899.80,439.77 899.56,438.91 900.15,438.13 899.59,437.24 900.23,436.46 899.71,435.57 900.35,434.79 899.91,433.91 900.58,433.14 900.22,432.26 900.86,431.49 900.37,430.60 900.27,429.88 901.22,430.53 900.80,431.51 901.54,432.21 901.28,433.16 901.86,433.90 901.55,434.86 902.34,435.54 902.00,436.51 902.76,437.21 902.51,438.15 903.11,438.88 902.77,439.79 903.48,440.57 903.09,441.44 903.76,442.22 903.23,443.10 903.69,443.90 903.37,444.76 903.93,445.55 903.31,446.44 903.91,447.23 903.41,448.11 904.26,448.87 903.57,449.77 904.31,450.54 903.84,451.42 904.34,452.21 904.03,453.08 904.72,453.85 904.61,454.73 904.00,453.89 904.85,453.12 904.06,452.28 904.70,451.49 904.29,450.67 904.98,449.88 904.39,449.05 904.87,448.26 904.55,447.44 905.03,446.65 904.45,445.81 904.99,445.02 904.61,444.20 905.19,443.41 904.70,442.58 905.31,441.80 904.55,440.96 905.26,440.18 904.85,439.35 905.37,438.56 904.87,437.73 905.29,436.94 904.80,436.11 905.51,435.32 905.01,434.49 905.47,433.70 904.93,432.87 905.75,432.10 905.12,431.26 905.72,430.47 905.23,429.64 905.75,428.85 905.18,428.02 905.76,427.24 905.24,426.40 905.90,425.62 905.48,424.79 905.84,424.00 905.45,423.18 905.93,422.40 905.49,421.57 906.15,420.79 905.54,419.96 906.33,419.19 905.63,418.35 906.37,417.58 905.86,416.75 906.48,415.97 905.69,415.13 906.48,414.36 905.80,413.52 906.54,412.75 906.00,411.92 906.50,411.14 906.07,410.31 906.76,409.54 906.05,408.69 906.89,407.93 906.22,407.09 906.99,406.32 906.35,405.48 906.78,404.70 906.41,403.87 907.02,403.10 906.38,402.26 907.01,401.49 906.70,400.66 907.24,399.88 906.72,399.05 907.36,398.28 906.69,397.44 907.22,396.66 906.78,395.83 907.50,395.06 906.96,394.23 907.64,393.45 907.09,392.62 907.46,391.83 907.00,391.00 907.71,390.23 907.08,389.39 907.87,388.63 907.28,387.79 907.67,387.01 907.26,386.18 907.85,385.40 907.38,384.57 907.94,383.79 907.31,382.96 907.99,382.18 907.45,381.35 908.16,380.58 907.66,379.75 908.35,378.98 907.75,378.14 908.23,377.36 907.85,376.53 908.44,375.76 907.77,374.92 908.39,374.14 907.99,373.33 908.50,372.54 907.96,371.72 908.53,370.94 907.90,370.12 908.39,369.33 908.13,368.52 908.69,367.73 907.91,366.91 908.50,366.13 908.15,365.32 908.64,364.53 907.99,363.71 908.64,362.92 907.99,362.11 908.61,361.32 908.05,360.50 908.64,359.72 908.18,358.91 908.96,358.12 908.18,357.30 908.98,356.52 908.33,355.70 909.03,354.92 908.20,354.10 908.86,353.31 908.28,352.50 909.10,351.71 908.49,350.90 908.97,350.11 908.35,349.29 909.06,348.51 908.34,347.69 909.06,346.90 908.53,346.09 909.01,345.30 908.62,344.49 909.27,343.70 908.66,342.89 909.32,342.10 908.53,341.28 909.25,340.50 908.73,339.68 909.11,338.89 908.82,338.08 909.41,337.29 908.60,336.47 909.49,335.69 908.85,334.88 909.52,334.09 908.83,333.27 909.38,332.49 908.72,331.67 909.56,330.89 908.83,330.07 909.43,329.28 909.05,328.47 909.43,327.68 909.04,326.87 909.47,326.08 908.98,325.26 909.55,324.47 909.13,323.66 909.76,322.88 909.12,322.05 909.55,321.27 909.32,320.46 909.81,319.68 909.41,318.85 909.90,318.08 909.50,317.25 909.97,316.47 909.40,315.64 910.08,314.87 909.61,314.04 910.26,313.27 909.47,312.42 910.34,311.67 909.57,310.82 910.48,310.07 909.83,309.23 910.43,308.46 909.91,307.63 910.60,306.86 910.08,306.03 910.51,305.25 910.08,304.42 910.70,303.65 909.99,302.81 910.73,302.04 910.39,301.22 910.83,300.44 910.21,299.59 910.85,298.81 910.46,297.94 911.15,297.16 910.50,296.27 911.20,295.49 910.71,294.61 911.54,293.84 910.73,292.94 911.55,292.17 911.07,291.29 911.72,290.51 911.09,289.62 911.87,288.85 911.24,287.96 911.91,287.18 911.37,286.30 912.04,285.52 911.66,284.64 912.13,283.86 911.77,282.97 912.36,282.20 912.06,281.31 912.61,280.54 912.24,279.65 912.86,278.88 912.26,277.96 913.10,277.22 912.60,276.32 913.27,275.56 913.42,274.64 912.86,275.59 913.68,276.31 913.24,277.23 913.91,277.98 913.61,278.88 914.14,279.65 913.92,280.54 914.44,281.30 914.51,282.19 914.16,281.32 914.81,280.54 914.40,279.67 915.01,278.88 914.43,277.99 915.10,277.21 914.57,276.33 915.30,275.56 914.63,274.66 915.22,273.88 914.81,273.01 915.41,272.22 914.89,271.34 915.58,270.56 915.19,269.69 915.61,268.89 915.09,268.01 915.77,267.26 915.65,266.32 916.51,265.67 916.50,264.71 916.16,265.57 916.76,266.36 916.20,267.24 917.00,268.01 916.25,268.91 916.99,269.69 916.66,270.55 917.09,271.35 916.82,272.21 917.24,273.01 916.76,273.89 917.57,274.66 917.05,275.54 917.50,276.34 916.94,277.23 917.75,277.99 917.26,278.87 917.76,279.66 917.53,280.53 917.97,281.32 917.52,282.21 918.09,282.99 917.72,283.86 918.49,284.65 918.00,285.48 918.40,286.26 917.95,287.09 918.59,287.87 917.93,288.71 918.69,289.47 918.11,290.31 918.66,291.09 918.13,291.92 918.78,292.70 918.11,293.53 918.88,294.30 918.30,295.14 919.01,295.91 918.42,296.74 919.03,297.52 918.44,298.36 919.15,299.13 918.41,299.97 919.13,300.74 918.65,301.57 919.43,302.34 918.63,303.18 919.37,303.95 918.87,304.79 919.34,305.57 918.92,306.40 919.49,307.17 918.99,308.00 919.52,308.78 919.06,309.61 919.70,310.39 919.26,311.22 919.81,312.00 919.15,312.83 919.74,313.61 919.37,314.44 919.77,315.22 919.38,316.05 920.05,316.82 919.48,317.66 920.11,318.43 919.50,319.27 920.02,320.05 919.76,320.87 920.24,321.65 919.56,322.49 920.39,323.25 919.79,324.09 920.33,324.87 919.97,325.69 920.53,326.47 919.85,327.31 920.53,328.09 920.15,328.91 920.57,329.70 920.03,330.53 920.81,331.30 920.21,332.13 920.93,332.90 920.29,333.74 920.73,334.53 920.42,335.34 921.06,336.13 920.32,336.96 920.87,337.75 920.51,338.56 921.02,339.35 920.50,340.18 920.96,340.97 920.42,341.79 921.18,342.57 920.69,343.39 921.08,344.19 920.65,345.01 921.42,345.79 920.66,346.62 921.45,347.40 920.66,348.23 921.45,349.01 920.98,349.83 921.39,350.62 920.87,351.45 921.48,352.23 921.04,353.05 921.43,353.84 920.89,354.67 921.67,355.45 921.13,356.27 921.67,357.06 921.00,357.89 921.62,358.67 921.14,359.50 921.71,360.28 921.11,361.11 921.94,361.88 921.15,362.72 921.87,363.50 921.35,364.32 921.90,365.11 921.45,365.93 922.16,366.71 921.31,367.55 922.23,368.32 921.39,369.16 922.13,369.91 921.60,370.82 922.46,371.56 921.88,372.47 922.68,373.22 921.98,374.15 922.68,374.91 922.32,375.80 923.02,376.55 922.59,377.45 923.09,378.23 922.79,379.11 923.25,379.90 922.77,380.80 923.74,381.53 923.01,382.46 923.79,383.21 923.24,384.12 924.06,384.86 923.54,385.77 924.21,386.53 923.85,387.42 924.33,388.20 923.99,389.09 924.58,389.85 924.13,390.78 924.82,391.52 924.54,392.42 925.29,393.15 924.65,394.11 925.59,394.81 924.93,395.77 925.63,396.51 925.29,397.41 926.08,398.15 925.40,399.08 926.10,399.84 925.71,400.73 926.42,401.49 926.06,402.38 926.52,403.16 926.04,404.07 926.86,404.81 926.34,405.72 927.03,406.48 926.53,407.41 927.24,408.19 927.02,409.16 927.72,409.95 927.17,410.98 927.98,411.75 927.52,412.76 927.79,413.30 928.94,413.21 928.93,412.29 929.84,411.55 929.34,410.66 930.00,409.88 929.38,408.98 930.11,408.22 929.45,407.31 930.07,406.53 929.67,405.65 930.23,404.87 929.79,403.99 930.47,403.21 930.06,402.33 930.62,401.55 930.09,400.66 930.26,400.02 931.19,400.60 931.07,401.69 931.62,402.33 932.33,401.59 931.77,400.64 932.60,399.93 932.04,398.98 932.94,398.28 932.29,397.31 933.06,396.59 932.60,395.66 933.37,394.91 932.90,394.03 933.43,393.24 932.88,392.35 933.73,391.59 932.97,390.69 933.82,389.92 933.25,389.04 933.87,388.25 933.33,387.37 934.09,386.60 933.39,385.70 934.26,384.94 933.70,384.05 934.25,383.26 933.95,382.40 934.55,381.61 933.97,380.73 934.56,379.98 934.37,379.05 935.00,378.33 934.52,377.33 935.35,376.65 934.99,375.67 935.92,374.96 935.28,374.07 936.01,373.30 935.55,372.42 936.18,371.64 935.58,370.75 936.41,369.98 935.74,369.09 936.35,368.30 935.76,367.42 936.58,366.65 936.07,365.77 936.72,364.99 936.27,364.11 936.72,363.31 936.18,362.43 936.94,361.66 936.34,360.77 937.00,359.98 936.54,359.15 937.05,358.35 936.47,357.53 937.20,356.73 936.64,355.90 937.18,355.10 936.74,354.28 937.16,353.48 936.63,352.65 937.23,351.85 936.85,351.03 937.30,350.23 936.78,349.40 937.53,348.61 936.84,347.78 937.38,346.98 936.70,346.15 937.52,345.36 936.90,344.53 937.46,343.73 937.02,342.91 937.42,342.10 936.98,341.28 937.62,340.48 937.13,339.66 937.61,338.86 937.15,338.03 937.69,337.23 937.14,336.41 937.75,335.61 937.04,334.78 937.70,333.98 937.21,333.15 937.64,332.35 937.30,331.53 937.85,330.73 937.15,329.90 937.74,329.10 937.14,328.28 938.03,327.48 937.37,326.66 937.95,325.86 937.32,325.03 937.92,324.23 937.45,323.41 938.09,322.61 937.46,321.78 938.04,320.98 937.47,320.15 937.98,319.35 937.54,318.53 938.07,317.73 937.68,316.91 938.18,316.11 937.55,315.28 938.23,314.48 937.65,313.65 938.31,312.86 937.72,312.03 938.45,311.24 937.82,310.41 938.18,309.61 937.78,308.75 938.50,307.96 937.95,307.09 938.51,306.29 938.06,305.43 938.57,304.63 938.03,303.76 938.87,302.98 938.29,302.11 938.88,301.31 938.34,300.44 938.84,299.64 938.36,298.77 939.07,297.98 938.38,297.10 939.30,296.33 938.51,295.44 939.20,294.65 938.58,293.78 940.12,293.04 938.69,292.12 940.12,291.37 938.73,290.45 938.34,289.75 939.78,290.44 939.03,291.36 940.63,292.04 938.84,293.06 940.44,293.73 938.62,294.76 940.89,295.37 939.41,296.36 940.99,297.04 939.44,298.03 940.95,298.72 939.67,299.69 940.58,300.44 940.23,301.31 940.32,302.11 940.75,301.32 940.17,300.50 941.28,299.73 939.79,298.89 941.69,298.13 939.74,297.28 941.18,296.51 939.55,295.67 941.87,294.92 939.69,294.06 941.41,293.30 939.74,292.46 941.71,291.70 940.45,290.87 941.53,290.09 939.93,289.25 941.71,288.49 939.76,287.64 941.96,286.89 939.90,286.03 942.17,285.29 940.36,284.44 942.15,283.68 940.68,282.84 942.10,282.07 940.65,281.23 941.89,280.46 940.40,279.62 941.57,278.85 940.28,278.01 942.21,277.26 940.67,276.41 941.80,275.64 940.25,274.79 942.08,274.04 940.92,273.20 941.94,272.43 940.19,271.58 941.95,270.82 940.78,269.99 942.14,269.22 940.32,268.37 942.49,267.62 940.79,266.77 942.41,266.01 941.13,265.17 941.95,264.39 940.88,263.56 942.47,262.80 941.12,261.96 942.01,261.18 940.56,260.34 942.17,259.58 941.27,258.75 942.13,257.97 941.30,257.14 942.34,256.37 940.92,255.53 942.70,254.80 941.23,253.91 942.67,253.19 941.28,252.31 942.81,251.59 941.56,250.71 942.94,249.99 941.74,249.12 943.27,248.40 941.65,247.50 943.06,246.78 941.76,245.90 943.05,245.17 941.78,244.30 943.31,243.58 941.44,242.67 943.57,241.98 941.37,241.06 943.33,240.36 941.81,239.47 943.33,238.75 942.12,237.88 943.55,237.16 941.63,236.25 943.26,235.53 941.91,234.66 943.57,233.94 942.13,233.06 943.61,232.34 942.12,231.42 943.91,230.69 942.95,229.80 943.51,229.00 943.15,228.14 943.50,227.33 942.96,226.46 943.59,225.67 943.22,224.81 943.88,224.02 943.43,223.16 944.06,222.36 943.48,221.49 944.17,220.70 944.05,219.83 943.50,220.69 944.19,221.49 943.74,222.34 944.24,223.15 943.62,224.01 944.41,224.81 943.71,225.68 944.46,226.47 943.98,227.33 944.46,228.14 943.94,229.00 944.43,229.81 943.32,230.69 944.81,231.45 943.57,232.35 945.03,233.11 943.99,233.99 945.69,234.74 943.69,235.67 945.59,236.41 943.78,237.34 945.53,238.08 943.64,239.01 945.19,239.77 944.12,240.62 945.37,241.39 943.99,242.24 945.57,243.01 943.77,243.87 945.48,244.63 944.37,245.48 946.11,246.23 944.04,247.11 945.75,247.87 944.38,248.72 946.05,249.48 944.62,250.34 946.09,251.10 944.60,251.96 946.21,252.72 944.78,253.57 946.35,254.34 944.17,255.22 945.66,255.98 944.81,256.82 946.45,257.58 944.30,258.46 945.98,259.22 944.37,260.08 946.27,260.83 944.88,261.68 946.41,262.45 944.79,263.31 946.00,264.08 944.48,264.94 946.54,265.69 945.04,266.54 946.34,267.32 944.72,268.18 946.35,268.94 945.12,269.79 946.53,270.55 944.59,271.42 945.34,272.17 946.40,271.42 945.11,270.53 947.11,269.84 944.78,268.88 946.39,268.17 945.18,267.28 946.60,266.56 945.64,265.68 946.70,264.94 945.49,264.05 947.52,263.36 945.20,262.40 947.09,261.71 945.36,260.79 947.46,260.10 946.15,259.21 947.74,258.49 946.08,257.58 947.90,256.88 947.24,255.96 945.72,256.89 947.69,257.55 946.17,258.48 947.53,259.19 946.32,260.10 948.14,260.78 946.38,261.73 948.45,262.38 946.53,263.35 948.51,264.01 946.99,264.94 948.50,265.64 946.72,266.59 948.74,267.25 947.07,268.20 948.52,268.90 946.79,269.85 948.47,270.53 947.29,271.44 949.09,272.13 947.17,273.09 948.89,273.81 947.80,274.72 949.23,275.46 947.57,276.40 948.89,277.15 947.70,278.06 948.91,278.82 947.42,279.75 949.57,280.45 947.42,281.41 949.57,282.11 948.20,283.03 949.46,283.79 947.60,284.74 949.21,285.47 948.26,286.37 949.44,287.13 948.82,288.00 949.28,288.81 948.78,289.67 949.32,290.47 948.81,291.34 949.54,292.13 949.12,292.96 949.52,293.74 949.10,294.57 949.69,295.34 949.20,296.17 949.70,296.95 949.33,297.77 949.92,298.54 949.50,299.37 950.00,300.14 949.36,300.98 950.12,301.75 949.67,302.57 950.22,303.35 949.77,304.18 950.16,304.96 949.88,305.78 950.37,306.55 949.92,307.38 950.38,308.16 950.03,308.99 950.66,309.75 950.11,310.59 950.68,311.36 949.99,312.20 950.70,312.97 950.15,313.80 950.75,314.58 950.15,315.41 950.93,316.19 950.45,317.02 951.00,317.81 950.50,318.64 951.00,319.43 950.56,320.25 951.07,321.04 950.47,321.88 951.21,322.66 950.65,323.49 951.07,324.28 950.67,325.11 951.41,325.89 950.71,326.73 951.38,327.51 950.71,328.35 951.45,329.13 950.72,329.97 951.62,330.74 950.85,331.58 951.64,332.36 951.11,333.19 951.54,333.98 951.00,334.82 951.71,335.60 951.02,336.44 951.83,337.21 951.25,338.05 951.71,338.84 951.21,339.67 951.76,340.46 951.33,341.28 951.88,342.07 951.43,342.90 952.07,343.68 952.09,344.55 951.54,343.63 952.12,342.86 951.66,341.96 952.53,341.23 951.86,340.30 952.71,339.56 952.15,338.65 953.00,337.91 952.33,336.98 953.13,336.24 952.76,335.35 952.86,334.55 953.45,335.29 952.78,336.18 953.53,336.91 953.16,337.76 953.72,338.51 953.14,339.39 954.00,340.10 953.54,340.96 954.00,341.72 953.70,342.57 954.35,343.31 953.86,344.17 954.58,344.91 954.03,345.90 954.90,346.35 955.01,347.32 955.87,347.77 955.87,348.82 956.81,349.21 956.93,350.06 957.64,350.77 957.46,351.70 958.01,352.44 957.58,353.43 958.62,354.06 958.17,355.02 958.94,355.77 958.22,356.70 959.15,357.43 958.49,358.36 959.26,359.10 958.76,360.01 959.52,360.76 958.94,361.68 959.81,362.41 959.28,363.32 959.99,364.08 959.31,365.00 960.04,365.76 959.45,366.66 960.15,367.43 959.75,368.31 960.41,369.08 959.74,369.99 960.47,370.76 959.94,371.65 960.77,372.41 960.09,373.31 960.82,374.08 960.33,374.97 961.17,375.72 960.43,376.64 961.28,377.39 960.61,378.30 961.43,379.06 961.48,379.94 961.04,379.08 961.58,378.28 960.90,377.40 961.83,376.62 961.30,375.75 961.74,374.95 961.35,374.09 962.02,373.30 961.48,372.43 962.10,371.63 961.59,370.76 962.08,369.96 961.46,369.09 962.13,368.30 961.69,367.43 962.28,366.64 961.75,365.77 962.33,364.97 961.87,364.11 962.47,363.31 961.86,362.44 962.58,361.65 962.04,360.79 962.57,359.98 962.03,359.12 962.84,358.33 962.12,357.46 962.96,356.67 962.48,355.81 963.04,355.01 962.46,354.14 962.95,353.33 962.38,352.47 963.18,351.68 962.63,350.82 963.08,350.01 962.62,349.16 963.15,348.36 962.82,347.53 963.22,346.72 962.92,345.88 963.51,345.09 962.96,344.24 963.66,343.45 963.03,342.60 963.67,341.80 962.96,340.95 963.70,340.16 963.07,339.30 963.61,338.51 963.08,337.66 963.93,336.87 963.24,336.02 963.77,335.22 963.46,334.38 963.87,333.58 963.25,332.73 963.96,331.94 963.54,331.09 964.10,330.30 963.69,329.45 964.26,328.66 963.53,327.80 964.18,327.01 963.84,326.17 964.44,325.37 963.67,324.51 964.47,323.73 963.93,322.88 964.60,322.11 963.92,321.20 964.48,320.42 963.97,319.53 964.85,318.78 964.39,317.89 965.08,317.12 964.43,316.22 965.17,315.45 964.77,314.57 965.20,313.77 964.70,312.89 965.30,312.11 965.05,311.24 965.49,310.45 965.10,309.58 965.63,308.80 965.11,307.97 965.81,307.20 965.19,306.36 966.04,305.60 965.21,304.75 965.89,303.98 965.49,303.15 966.16,302.38 965.58,301.54 966.29,300.77 965.66,299.94 966.27,299.16 965.76,298.33 966.38,297.55 965.83,296.72 966.37,295.94 965.78,295.10 966.57,294.34 966.04,293.50 966.45,292.72 966.10,291.89 966.72,291.12 966.03,290.28 966.78,289.51 966.07,288.67 966.71,287.89 966.25,287.06 966.72,286.28 966.37,285.46 966.98,284.69 966.51,283.82 967.18,283.03 966.66,282.16 967.20,281.36 966.64,280.48 967.26,279.70 966.78,278.82 967.45,278.04 967.11,277.17 967.49,276.37 967.05,275.50 967.85,274.72 967.18,273.83 968.00,273.06 967.31,272.18 968.09,271.39 967.36,270.51 968.13,269.73 967.56,268.86 968.09,268.06 967.75,267.20 968.17,266.39 967.89,265.54 968.36,264.73 967.93,263.87 968.52,263.08 967.86,262.20 968.53,261.41 967.94,260.54 969.42,260.04 968.16,258.75 969.72,258.32 968.63,257.22 969.59,256.45 968.66,255.62 969.77,254.85 968.89,254.02 969.67,253.25 968.28,252.40 970.43,251.67 968.28,250.79 969.82,250.04 969.04,249.21 970.53,248.46 968.80,247.60 970.15,246.84 968.58,245.99 970.36,245.25 968.95,244.40 970.09,243.63 969.18,242.80 970.62,242.04 968.57,241.17 970.11,240.42 969.19,239.59 970.57,238.83 969.21,237.99 970.59,237.23 969.07,236.38 970.46,235.62 969.45,234.71 970.77,234.11 969.21,232.93 970.87,232.40 969.77,231.32 971.75,230.85 970.09,229.61 971.74,229.14 970.21,227.87 972.51,227.57 970.57,226.20 972.53,225.81 971.39,224.71 973.02,224.05 971.38,222.88 973.44,222.29 971.90,221.13 973.64,220.50 972.59,219.42 972.90,218.61 973.37,219.39 972.74,220.24 973.86,220.99 972.90,221.86 974.57,222.57 972.62,223.51 974.52,224.20 972.80,225.12 974.39,225.84 973.09,226.73 974.80,227.44 973.03,228.36 974.49,229.08 972.86,230.00 974.98,230.68 972.75,231.63 974.75,232.32 973.33,233.22 975.14,233.92 974.84,234.94 973.79,233.86 975.22,233.29 974.03,232.19 975.37,231.59 973.98,230.45 974.48,229.83 976.04,230.60 974.56,231.45 975.65,232.23 974.20,233.07 976.25,233.83 974.31,234.69 976.15,235.45 974.79,236.29 976.10,237.07 974.28,237.93 976.38,238.68 974.52,239.54 976.29,240.30 974.92,241.15 975.85,241.93 974.39,242.78 975.86,243.55 974.93,244.38 976.22,245.16 974.59,246.01 976.51,246.77 974.50,247.63 976.74,248.38 975.04,249.24 976.21,250.01 975.20,250.85 976.32,251.63 975.26,252.47 976.89,253.23 974.90,254.09 976.54,254.86 975.38,255.70 976.93,256.47 975.26,257.32 976.85,258.09 975.33,258.94 976.47,259.71 975.74,260.55 976.24,261.35 975.74,262.18 976.31,262.97 975.66,263.81 976.25,264.60 975.90,265.43 976.40,266.23 975.87,267.06 976.43,267.85 975.93,268.68 976.40,269.48 976.06,270.31 976.63,271.10 975.96,271.94 976.67,272.73 976.01,273.57 976.67,274.36 976.20,275.19 976.85,275.98 976.15,276.82 976.76,277.61 976.29,278.44 976.79,279.24 976.12,280.07 976.85,280.86 976.23,281.70 976.82,282.49 976.35,283.32 976.92,284.12 976.52,284.94 976.98,285.74 976.52,286.57 977.15,287.36 976.57,288.20 977.27,288.99 976.71,289.82 977.32,290.61 976.67,291.45 977.35,292.24 976.74,293.08 977.24,293.87 976.63,294.71 977.41,295.50 976.74,296.33 977.43,297.10 976.86,298.00 977.73,298.75 977.02,299.66 977.90,300.41 977.30,301.31 977.86,302.10 977.30,302.99 978.19,303.74 977.47,304.65 978.23,305.42 977.78,306.30 978.56,307.06 978.02,307.96 978.48,308.75 978.19,309.61 978.66,310.42 978.22,311.28 978.79,312.08 978.31,312.94 978.78,313.75 978.45,314.60 979.04,315.40 978.64,316.26 979.13,317.06 978.48,317.94 979.29,318.72 978.57,319.60 979.46,320.38 978.82,321.25 979.30,322.06 979.06,322.91 979.58,323.71 978.91,324.58 979.61,325.38 979.24,326.23 979.84,327.03 979.22,327.90 979.86,328.70 979.45,329.56 979.99,330.33 979.42,331.18 980.15,331.94 979.43,332.79 980.07,333.56 979.57,334.40 980.26,335.16 979.81,336.00 980.38,336.77 979.80,337.62 980.52,338.38 980.15,339.22 980.65,339.99 980.24,340.83 980.62,341.61 980.38,342.43 980.84,343.21 980.37,344.05 980.84,344.83 980.58,345.66 981.23,346.42 980.57,347.27 981.37,348.03 980.68,348.88 981.48,349.64 980.75,350.50 981.41,351.26 981.06,352.09 981.45,352.87 980.94,353.72 981.73,354.47 981.21,355.32 981.68,356.09 981.22,356.93 982.04,357.69 981.45,358.54 982.17,359.29 981.48,360.15 982.04,360.92 981.70,361.75 982.31,362.52 981.58,363.38 982.26,364.14 981.91,364.98 982.38,365.77 982.09,366.64 982.57,367.43 982.19,368.31 982.74,369.09 982.28,369.98 982.91,370.76 982.57,371.63 983.13,372.41 982.76,373.29 983.18,374.09 982.95,374.95 983.34,375.75 982.94,376.63 983.52,377.41 983.16,378.29 983.95,379.05 983.29,379.95 983.93,380.73 983.52,381.61 984.13,382.39 983.71,383.27 984.18,384.06 983.93,384.92 984.38,385.72 984.08,386.59 984.60,387.38 984.28,388.25 984.86,389.03 984.42,389.92 985.01,390.69 984.47,391.60 985.21,392.35 984.66,393.26 985.51,394.00 984.96,394.91 985.54,395.69 985.30,396.56 985.90,397.33 985.40,398.24 985.98,399.01 986.00,399.94 986.10,398.95 987.06,398.39 986.85,397.25 987.88,396.72 987.58,395.53 988.15,394.93 988.76,395.66 988.37,396.64 989.18,397.32 988.87,398.28 989.81,398.93 989.35,399.99 990.26,400.58 990.04,401.72 990.44,402.34 991.31,401.57 990.56,400.73 991.16,399.95 990.84,399.13 991.17,398.33 990.64,397.50 991.41,396.73 990.73,395.89 991.61,395.12 991.00,394.28 991.69,393.51 991.06,392.67 991.51,391.88 991.14,391.06 991.84,390.28 991.00,389.43 991.72,388.66 991.22,387.83 991.94,387.05 991.19,386.21 992.03,385.44 991.40,384.60 991.90,383.82 991.43,382.99 992.19,382.21 991.47,381.37 992.25,380.60 991.68,379.76 992.20,378.98 991.52,378.14 992.30,377.37 991.63,376.53 992.44,375.76 991.82,374.92 992.47,374.14 991.79,373.31 992.44,372.52 991.89,371.69 992.61,370.91 991.83,370.07 992.71,369.29 992.04,368.46 992.66,367.67 992.03,366.84 992.77,366.06 992.18,365.23 992.70,364.44 992.23,363.61 992.85,362.82 992.13,361.99 992.65,361.20 992.37,360.38 992.75,359.59 992.27,358.76 993.00,357.98 992.40,357.15 992.83,356.35 992.37,355.53 993.04,354.74 992.47,353.92 992.99,353.12 992.55,352.30 993.02,351.51 992.45,350.68 993.12,349.89 992.53,349.07 993.22,348.28 992.73,347.45 993.19,346.66 992.64,345.83 993.42,345.05 992.62,344.22 993.25,343.43 992.87,342.61 993.28,341.81 992.95,340.99 993.42,340.20 992.83,339.37 993.64,338.59 992.92,337.75 993.45,336.96 993.04,336.14 993.49,335.35 993.12,334.52 993.70,333.74 993.13,332.91 993.65,332.13 993.28,331.30 993.96,330.53 993.25,329.69 993.94,328.92 993.42,328.09 993.93,327.31 993.37,326.47 993.92,325.69 993.48,324.86 994.30,324.10 993.57,323.26 994.09,322.48 993.84,321.66 994.40,320.88 993.87,320.05 994.37,319.26 993.80,318.43 994.53,317.66 994.00,316.83 994.61,316.05 993.88,315.21 994.63,314.44 994.13,313.61 994.78,312.83 994.06,311.99 994.86,311.23 994.12,310.38 994.96,309.69 994.37,308.66 995.21,307.99 994.87,307.02 995.61,306.32 995.46,305.40 996.07,304.62 995.44,303.79 996.14,303.02 995.72,302.19 996.42,301.42 995.59,300.57 996.45,299.81 995.87,298.97 996.55,298.20 996.04,297.37 996.37,296.58 996.12,295.76 996.56,294.97 996.14,294.15 996.80,293.37 996.16,292.53 996.88,291.76 996.23,290.93 996.81,290.15 996.36,289.32 996.79,288.53 996.40,287.71 997.15,286.94 996.32,286.09 997.23,285.33 996.67,284.50 997.15,283.71 996.52,282.88 997.14,282.10 996.84,281.28 997.24,280.49 996.92,279.65 997.58,278.91 997.00,277.96 997.94,277.26 997.48,276.33 998.12,275.58 997.53,274.63 998.24,273.89 998.03,273.00 998.76,272.27 998.09,271.31 998.76,270.56 998.55,269.67 999.22,268.93 998.83,268.01 999.43,267.26 999.12,266.35 999.60,265.58 999.29,264.66 1000.05,263.89 999.53,262.86 1000.24,262.07 1000.04,261.11 1000.62,260.30 1000.34,259.32 1000.69,258.62 1001.61,258.94 1001.63,259.76 1002.45,260.54 1001.82,261.42 1002.54,262.21 1002.07,263.07 1002.67,263.87 1001.93,264.75 1002.58,265.54 1002.07,266.41 1002.76,267.20 1002.37,268.06 1002.96,268.85 1002.26,269.73 1002.90,270.53 1002.57,271.38 1003.11,272.19 1002.64,273.01 1003.17,273.80 1002.46,274.64 1003.07,275.42 1002.69,276.24 1003.19,277.03 1002.83,277.85 1003.37,278.64 1002.64,279.48 1003.39,280.26 1002.83,281.08 1003.52,281.87 1002.79,282.70 1003.66,283.48 1003.01,284.31 1003.47,285.10 1002.89,285.93 1003.67,286.71 1002.96,287.54 1003.58,288.33 1003.05,289.15 1003.63,289.94 1003.31,290.76 1003.69,291.55 1003.30,292.38 1003.84,293.16 1003.26,293.99 1004.07,294.77 1003.39,295.60 1004.01,296.39 1003.46,297.22 1004.01,298.00 1003.56,298.83 1003.95,299.62 1003.62,300.45 1004.23,301.24 1003.51,302.08 1004.28,302.86 1003.68,303.69 1004.25,304.49 1003.82,305.32 1004.25,306.11 1003.62,306.95 1004.42,307.73 1003.87,308.56 1004.46,309.36 1003.90,310.19 1004.44,310.98 1003.98,311.81 1004.55,312.60 1003.89,313.44 1004.75,314.22 1004.14,315.06 1004.67,315.85 1004.22,316.68 1004.88,317.47 1004.30,318.30 1004.79,319.10 1004.40,319.93 1004.84,320.72 1004.31,321.55 1004.76,322.35 1004.47,323.17 1004.97,323.97 1004.43,324.80 1004.97,325.59 1004.62,326.42 1005.03,327.22 1004.58,328.05 1005.02,328.84 1004.56,329.67 1005.12,330.47 1004.64,331.30 1005.33,332.08 1004.86,332.91 1005.32,333.71 1004.72,334.55 1005.51,335.31 1004.78,336.15 1005.57,336.92 1004.87,337.75 1005.46,338.53 1004.90,339.36 1005.71,340.12 1005.08,340.95 1005.84,341.72 1005.30,342.55 1005.91,343.32 1005.28,344.15 1005.88,344.93 1005.22,345.76 1005.84,346.53 1005.40,347.36 1005.87,348.14 1005.62,348.95 1006.24,349.72 1005.64,350.56 1006.15,351.33 1005.75,352.16 1006.39,352.93 1005.71,353.76 1006.45,354.53 1005.86,355.36 1006.40,356.14 1005.95,356.96 1006.52,357.74 1005.88,358.57 1006.59,359.34 1006.00,360.17 1006.59,360.94 1005.96,361.78 1006.58,362.55 1006.29,363.37 1006.86,364.14 1006.11,365.00 1007.04,365.75 1006.51,366.64 1007.23,367.41 1006.61,368.31 1007.28,369.08 1006.72,369.98 1007.46,370.74 1006.81,371.65 1007.72,372.40 1007.15,373.29 1007.88,374.06 1007.32,374.97 1008.04,375.77 1007.65,376.74 1008.31,377.55 1007.89,378.53 1008.71,379.31 1008.07,380.33 1008.31,381.07 1009.29,380.50 1009.05,379.44 1009.55,378.67" fill="none" stroke="#ff2445" stroke-width="2.1" stroke-linejoin="round"/>
<g stroke="#959595" stroke-width="1" opacity="0.8" stroke-dasharray="3 1" fill="none"><path d="M167.5 121V587"/><path d="M195.5 121V587"/><path d="M223.5 121V587"/><path d="M252.2 121V587"/><path d="M280.5 121V587"/><path d="M308.5 121V587"/><path d="M336.5 121V587"/><path d="M364.5 121V587"/><path d="M393.0 121V587"/><path d="M421.5 121V587"/><path d="M449.5 121V587"/><path d="M477.5 121V587"/><path d="M505.5 121V587"/><path d="M533.5 121V587"/><path d="M561.5 121V587"/><path d="M589.5 121V587"/><path d="M617.5 121V587"/><path d="M645.5 121V587"/><path d="M673.5 121V587"/><path d="M701.5 121V587"/><path d="M729.5 121V587"/><path d="M757.5 121V587"/><path d="M785.5 121V587"/><path d="M813.5 121V587"/><path d="M841.5 121V587"/><path d="M869.5 121V587"/><path d="M897.5 121V587"/><path d="M925.5 121V587"/><path d="M953.5 121V587"/><path d="M981.5 121V587"/><path d="M1009.5 121V587"/></g>
<g stroke="#959595" stroke-width="1" opacity="0.8" stroke-dasharray="3 1" fill="none"><path d="M140 509.83H1010"/><path d="M140 432.50H1010"/><path d="M140 354.50H1010"/><path d="M140 276.50H1010"/><path d="M140 199.50H1010"/><path d="M140 121.50H1010"/></g>
<path d="M139.5 121V588M131 587.5H1010M135 587.50H139M135 571.97H139M135 556.43H139M135 540.90H139M135 525.37H139M135 509.83H139M135 494.30H139M135 478.77H139M135 463.23H139M135 447.70H139M135 432.50H139M135 416.63H139M135 401.10H139M135 385.57H139M135 370.03H139M135 354.50H139M135 338.97H139M135 323.43H139M135 307.90H139M135 292.37H139M135 276.50H139M135 261.30H139M135 245.77H139M135 230.23H139M135 214.70H139M135 199.50H139M135 183.63H139M135 168.10H139M135 152.57H139M135 137.03H139M135 121.50H139M139.5 587V592M167.5 587V592M195.5 587V592M223.5 587V592M252.2 587V592M280.5 587V592M308.5 587V592M336.5 587V592M364.5 587V592M393.0 587V592M421.5 587V592M449.5 587V592M477.5 587V592M505.5 587V592M533.5 587V592M561.5 587V592M589.5 587V592M617.5 587V592M645.5 587V592M673.5 587V592M701.5 587V592M729.5 587V592M757.5 587V592M785.5 587V592M813.5 587V592M841.5 587V592M869.5 587V592M897.5 587V592M925.5 587V592M953.5 587V592M981.5 587V592M1009.5 587V592" stroke="#141414" stroke-width="1" fill="none"/><path d="M131 587.50H135M131 509.83H135M131 432.50H135M131 354.50H135M131 276.50H135M131 199.50H135M131 121.50H135M139.5 592V596M167.5 592V596M195.5 592V596M223.5 592V596M252.2 592V596M280.5 592V596M308.5 592V596M336.5 592V596M364.5 592V596M393.0 592V596M421.5 592V596M449.5 592V596M477.5 592V596M505.5 592V596M533.5 592V596M561.5 592V596M589.5 592V596M617.5 592V596M645.5 592V596M673.5 592V596M701.5 592V596M729.5 592V596M757.5 592V596M785.5 592V596M813.5 592V596M841.5 592V596M869.5 592V596M897.5 592V596M925.5 592V596M953.5 592V596M981.5 592V596M1009.5 592V596" stroke="#3c3c3c" stroke-width="1" fill="none"/>
<text x="127" y="126.8" text-anchor="end">25.0</text><text x="127" y="204.8" text-anchor="end">20.0</text><text x="127" y="281.8" text-anchor="end">15.0</text><text x="127" y="359.8" text-anchor="end">10.0</text><text x="127" y="437.8" text-anchor="end">5.0</text><text x="127" y="515.1" text-anchor="end">0.0</text><text x="127" y="592.8" text-anchor="end">-5.0</text><text x="139.5" y="611" text-anchor="middle">1</text><text x="195.5" y="611" text-anchor="middle">3</text><text x="252.2" y="611" text-anchor="middle">5</text><text x="308.5" y="611" text-anchor="middle">7</text><text x="364.5" y="611" text-anchor="middle">9</text><text x="421.5" y="611" text-anchor="middle">11</text><text x="477.5" y="611" text-anchor="middle">13</text><text x="533.5" y="611" text-anchor="middle">15</text><text x="589.5" y="611" text-anchor="middle">17</text><text x="645.5" y="611" text-anchor="middle">19</text><text x="701.5" y="611" text-anchor="middle">21</text><text x="757.5" y="611" text-anchor="middle">23</text><text x="813.5" y="611" text-anchor="middle">25</text><text x="869.5" y="611" text-anchor="middle">27</text><text x="925.5" y="611" text-anchor="middle">29</text><text x="981.5" y="611" text-anchor="middle">1</text>
<text x="561" y="634" text-anchor="middle" textLength="100.3" lengthAdjust="spacing">Thu 1 Apr 2021</text>
<g transform="translate(79,368) rotate(-90)"><text x="0" y="0" text-anchor="middle">Outside Temp - °C</text></g>
<path d="M74.5 280.5V297.5" stroke="#ff2445" stroke-width="2.2" stroke-linecap="round"/>
<rect x="72.5" y="652.5" width="978" height="69" fill="none" stroke="#999" stroke-width="1"/>
<rect x="80" y="658" width="13.5" height="13.5" fill="#ff2445"/>
<text x="101" y="672">Outside Temp</text>
</svg>
</body></html>
